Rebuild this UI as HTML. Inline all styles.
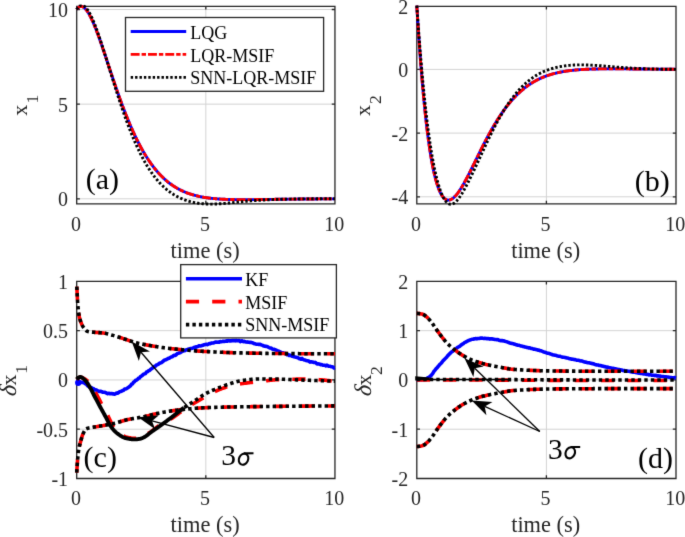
<!DOCTYPE html>
<html><head><meta charset="utf-8"><style>
html,body{margin:0;padding:0;background:#fff;}
body{width:685px;height:537px;overflow:hidden;}
svg{display:block;}
text{font-family:"Liberation Serif", serif;}
</style></head><body>
<svg width="685" height="537" viewBox="0 0 685 537" font-family='"Liberation Serif", serif'>
<filter id="bl" x="0" y="0" width="685" height="537" filterUnits="userSpaceOnUse" color-interpolation-filters="sRGB"><feConvolveMatrix order="3" kernelMatrix="0.01 0.08 0.01 0.08 0.64 0.08 0.01 0.08 0.01" divisor="1" edgeMode="duplicate" preserveAlpha="true"/></filter>
<g filter="url(#bl)">
<rect width="685" height="537" fill="#fff"/>
<clipPath id="ca"><rect x="74.7" y="4.4" width="262.25" height="201.5"/></clipPath>
<clipPath id="cb"><rect x="414.8" y="4.4" width="263.2" height="201.5"/></clipPath>
<clipPath id="cc"><rect x="74.7" y="279.4" width="262.25" height="201.10000000000002"/></clipPath>
<clipPath id="cd"><rect x="414.8" y="279.4" width="263.2" height="201.10000000000002"/></clipPath>
<line x1="205.82" y1="6.4" x2="205.82" y2="203.9" stroke="#d3d3d3" stroke-width="1"/>
<line x1="76.7" y1="198.8" x2="334.95" y2="198.8" stroke="#d3d3d3" stroke-width="1"/>
<line x1="76.7" y1="104.15" x2="334.95" y2="104.15" stroke="#d3d3d3" stroke-width="1"/>
<line x1="76.7" y1="9.5" x2="334.95" y2="9.5" stroke="#d3d3d3" stroke-width="1"/>
<line x1="546.4" y1="6.4" x2="546.4" y2="203.9" stroke="#d3d3d3" stroke-width="1"/>
<line x1="416.8" y1="196.8" x2="676.0" y2="196.8" stroke="#d3d3d3" stroke-width="1"/>
<line x1="416.8" y1="133.1" x2="676.0" y2="133.1" stroke="#d3d3d3" stroke-width="1"/>
<line x1="416.8" y1="69.4" x2="676.0" y2="69.4" stroke="#d3d3d3" stroke-width="1"/>
<line x1="205.82" y1="281.4" x2="205.82" y2="478.5" stroke="#d3d3d3" stroke-width="1"/>
<line x1="76.7" y1="429.22" x2="334.95" y2="429.22" stroke="#d3d3d3" stroke-width="1"/>
<line x1="76.7" y1="379.95" x2="334.95" y2="379.95" stroke="#d3d3d3" stroke-width="1"/>
<line x1="76.7" y1="330.68" x2="334.95" y2="330.68" stroke="#d3d3d3" stroke-width="1"/>
<line x1="546.4" y1="281.4" x2="546.4" y2="478.5" stroke="#d3d3d3" stroke-width="1"/>
<line x1="416.8" y1="429.22" x2="676.0" y2="429.22" stroke="#d3d3d3" stroke-width="1"/>
<line x1="416.8" y1="379.95" x2="676.0" y2="379.95" stroke="#d3d3d3" stroke-width="1"/>
<line x1="416.8" y1="330.68" x2="676.0" y2="330.68" stroke="#d3d3d3" stroke-width="1"/>
<path d="M76.7,6.4 H334.95 V203.9 H76.7 Z M76.7,203.9 v-3.2 M76.7,6.4 v3.2 M205.82,203.9 v-3.2 M205.82,6.4 v3.2 M334.95,203.9 v-3.2 M334.95,6.4 v3.2 M76.7,198.8 h3.2 M334.95,198.8 h-3.2 M76.7,104.15 h3.2 M334.95,104.15 h-3.2 M76.7,9.5 h3.2 M334.95,9.5 h-3.2" fill="none" stroke="#262626" stroke-width="1.3"/>
<path d="M416.8,6.4 H676 V203.9 H416.8 Z M416.8,203.9 v-3.2 M416.8,6.4 v3.2 M546.4,203.9 v-3.2 M546.4,6.4 v3.2 M676,203.9 v-3.2 M676,6.4 v3.2 M416.8,196.8 h3.2 M676,196.8 h-3.2 M416.8,133.1 h3.2 M676,133.1 h-3.2 M416.8,69.4 h3.2 M676,69.4 h-3.2 M416.8,6.4 h3.2 M676,6.4 h-3.2" fill="none" stroke="#262626" stroke-width="1.3"/>
<path d="M76.7,281.4 H334.95 V478.5 H76.7 Z M76.7,478.5 v-3.2 M76.7,281.4 v3.2 M205.82,478.5 v-3.2 M205.82,281.4 v3.2 M334.95,478.5 v-3.2 M334.95,281.4 v3.2 M76.7,429.22 h3.2 M334.95,429.22 h-3.2 M76.7,379.95 h3.2 M334.95,379.95 h-3.2 M76.7,330.68 h3.2 M334.95,330.68 h-3.2 M76.7,281.4 h3.2 M334.95,281.4 h-3.2 M76.7,478.5 h3.2 M334.95,478.5 h-3.2" fill="none" stroke="#262626" stroke-width="1.3"/>
<path d="M416.8,281.4 H676 V478.5 H416.8 Z M416.8,478.5 v-3.2 M416.8,281.4 v3.2 M546.4,478.5 v-3.2 M546.4,281.4 v3.2 M676,478.5 v-3.2 M676,281.4 v3.2 M416.8,429.22 h3.2 M676,429.22 h-3.2 M416.8,379.95 h3.2 M676,379.95 h-3.2 M416.8,330.68 h3.2 M676,330.68 h-3.2 M416.8,281.4 h3.2 M676,281.4 h-3.2 M416.8,478.5 h3.2 M676,478.5 h-3.2" fill="none" stroke="#262626" stroke-width="1.3"/>
<g clip-path="url(#ca)">
<path d="M76.7,9.5 L77.02,9.05 L77.35,8.63 L77.67,8.26 L77.99,7.92 L78.31,7.62 L78.64,7.35 L78.96,7.12 L79.28,6.92 L79.61,6.76 L79.93,6.63 L80.25,6.54 L80.57,6.47 L80.9,6.44 L81.22,6.43 L81.54,6.46 L81.87,6.52 L82.19,6.6 L82.51,6.71 L82.83,6.85 L83.16,7.02 L83.48,7.21 L83.8,7.43 L84.12,7.67 L84.45,7.94 L84.77,8.23 L85.09,8.54 L85.42,8.88 L85.74,9.24 L86.06,9.62 L86.38,10.02 L86.71,10.44 L87.03,10.88 L87.35,11.35 L87.68,11.83 L88,12.33 L88.32,12.84 L88.64,13.38 L88.97,13.93 L89.29,14.5 L89.61,15.09 L89.94,15.69 L90.26,16.3 L90.58,16.94 L90.9,17.58 L91.23,18.24 L91.55,18.92 L91.87,19.61 L92.2,20.31 L92.52,21.02 L92.84,21.74 L93.16,22.48 L93.49,23.23 L93.81,23.99 L94.13,24.76 L94.45,25.54 L94.78,26.33 L95.1,27.13 L95.42,27.94 L95.75,28.76 L96.07,29.59 L96.39,30.43 L96.71,31.27 L97.04,32.12 L97.36,32.98 L97.68,33.85 L98.01,34.72 L98.33,35.6 L98.65,36.49 L98.97,37.38 L99.3,38.28 L99.62,39.19 L99.94,40.1 L100.27,41.01 L100.59,41.93 L100.91,42.86 L101.23,43.78 L101.56,44.72 L101.88,45.65 L102.2,46.59 L102.53,47.54 L102.85,48.48 L103.17,49.43 L103.49,50.38 L103.82,51.34 L104.14,52.3 L104.46,53.26 L104.78,54.22 L105.11,55.18 L105.43,56.14 L105.75,57.11 L106.08,58.08 L106.4,59.05 L106.72,60.01 L107.04,60.98 L107.37,61.95 L107.69,62.92 L108.01,63.9 L108.34,64.87 L108.66,65.84 L108.98,66.81 L109.3,67.78 L109.63,68.75 L109.95,69.72 L110.27,70.69 L110.6,71.65 L110.92,72.62 L111.24,73.58 L111.56,74.55 L111.89,75.51 L112.21,76.47 L112.53,77.43 L112.86,78.39 L113.18,79.34 L113.5,80.3 L113.82,81.25 L114.15,82.2 L114.47,83.14 L114.79,84.09 L115.11,85.03 L115.44,85.97 L115.76,86.9 L116.08,87.84 L116.41,88.77 L116.73,89.7 L117.05,90.62 L117.37,91.54 L117.7,92.46 L118.02,93.38 L118.34,94.29 L118.67,95.2 L118.99,96.11 L119.31,97.01 L119.63,97.91 L119.96,98.8 L120.28,99.69 L120.6,100.58 L120.93,101.46 L121.25,102.34 L121.57,103.22 L121.89,104.09 L122.22,104.96 L122.54,105.82 L122.86,106.68 L123.19,107.53 L123.51,108.38 L123.83,109.23 L124.15,110.07 L124.48,110.91 L124.8,111.75 L125.12,112.57 L125.44,113.4 L125.77,114.22 L126.09,115.04 L126.41,115.85 L126.74,116.65 L127.06,117.46 L127.38,118.25 L127.7,119.05 L128.03,119.84 L128.35,120.62 L128.67,121.4 L129,122.17 L129.32,122.94 L129.64,123.71 L129.96,124.47 L130.29,125.22 L130.61,125.97 L130.93,126.72 L131.26,127.46 L131.58,128.19 L131.9,128.93 L132.22,129.65 L132.55,130.37 L132.87,131.09 L133.19,131.8 L133.52,132.51 L133.84,133.21 L134.16,133.91 L134.48,134.6 L134.81,135.29 L135.13,135.97 L135.45,136.65 L135.77,137.32 L136.1,137.99 L136.42,138.65 L136.74,139.31 L137.07,139.96 L137.39,140.61 L137.71,141.25 L138.03,141.89 L138.36,142.52 L138.68,143.15 L139,143.77 L139.33,144.39 L139.65,145.01 L139.97,145.62 L140.29,146.22 L140.62,146.82 L140.94,147.41 L141.26,148 L141.59,148.59 L141.91,149.17 L142.23,149.74 L142.55,150.32 L142.88,150.88 L143.2,151.44 L143.52,152 L143.85,152.55 L144.17,153.1 L144.49,153.64 L144.81,154.18 L145.14,154.71 L145.46,155.24 L145.78,155.77 L146.1,156.29 L146.43,156.8 L146.75,157.31 L147.07,157.82 L147.4,158.32 L147.72,158.81 L148.04,159.31 L148.36,159.8 L148.69,160.28 L149.01,160.76 L149.33,161.23 L149.66,161.7 L149.98,162.17 L150.3,162.63 L150.62,163.09 L150.95,163.54 L151.27,163.99 L151.59,164.44 L151.92,164.88 L152.24,165.31 L152.56,165.75 L152.88,166.17 L153.21,166.6 L153.53,167.02 L153.85,167.43 L154.18,167.84 L154.5,168.25 L154.82,168.66 L155.14,169.06 L155.47,169.45 L155.79,169.84 L156.11,170.23 L156.43,170.61 L156.76,170.99 L157.08,171.37 L157.4,171.74 L157.73,172.11 L158.05,172.48 L158.37,172.84 L158.69,173.2 L159.02,173.55 L159.34,173.9 L159.66,174.25 L159.99,174.59 L160.31,174.93 L160.63,175.26 L160.95,175.59 L161.28,175.92 L161.6,176.25 L161.92,176.57 L162.25,176.89 L162.57,177.2 L162.89,177.51 L163.21,177.82 L163.54,178.13 L163.86,178.43 L164.18,178.73 L164.5,179.02 L164.83,179.31 L165.15,179.6 L165.47,179.88 L165.8,180.17 L166.12,180.44 L166.44,180.72 L166.76,180.99 L167.09,181.26 L167.41,181.53 L167.73,181.79 L168.06,182.05 L168.38,182.31 L168.7,182.56 L169.02,182.81 L169.35,183.06 L169.67,183.31 L169.99,183.55 L170.32,183.79 L170.64,184.03 L170.96,184.26 L171.28,184.49 L171.61,184.72 L171.93,184.95 L172.25,185.17 L172.58,185.39 L172.9,185.61 L173.22,185.82 L173.54,186.04 L173.87,186.25 L174.19,186.45 L174.51,186.66 L174.84,186.86 L175.16,187.06 L175.48,187.26 L175.8,187.46 L176.13,187.65 L176.45,187.84 L176.77,188.03 L177.09,188.21 L177.42,188.39 L177.74,188.58 L178.06,188.75 L178.39,188.93 L178.71,189.1 L179.03,189.28 L179.35,189.45 L179.68,189.61 L180,189.78 L180.32,189.94 L180.65,190.1 L180.97,190.26 L181.29,190.42 L181.61,190.57 L181.94,190.73 L182.26,190.88 L182.58,191.03 L182.91,191.17 L183.23,191.32 L183.55,191.46 L183.87,191.6 L184.2,191.74 L184.52,191.88 L184.84,192.01 L185.17,192.14 L185.49,192.28 L185.81,192.41 L186.13,192.53 L186.46,192.66 L186.78,192.78 L187.1,192.91 L187.42,193.03 L187.75,193.15 L188.07,193.27 L188.39,193.38 L188.72,193.5 L189.04,193.61 L189.36,193.72 L189.68,193.83 L190.01,193.94 L190.33,194.04 L190.65,194.15 L190.98,194.25 L191.3,194.35 L191.62,194.45 L191.94,194.55 L192.27,194.65 L192.59,194.74 L192.91,194.84 L193.24,194.93 L193.56,195.02 L193.88,195.11 L194.2,195.2 L194.53,195.29 L194.85,195.38 L195.17,195.46 L195.5,195.55 L195.82,195.63 L196.14,195.71 L196.46,195.79 L196.79,195.87 L197.11,195.94 L197.43,196.02 L197.75,196.1 L198.08,196.17 L198.4,196.24 L198.72,196.31 L199.05,196.38 L199.37,196.45 L199.69,196.52 L200.01,196.59 L200.34,196.65 L200.66,196.72 L200.98,196.78 L201.31,196.84 L201.63,196.91 L201.95,196.97 L202.27,197.03 L202.6,197.08 L202.92,197.14 L203.24,197.2 L203.57,197.25 L203.89,197.31 L204.21,197.36 L204.53,197.41 L204.86,197.47 L205.18,197.52 L205.5,197.57 L205.82,197.62 L206.15,197.66 L206.47,197.71 L206.79,197.76 L207.12,197.8 L207.44,197.85 L207.76,197.89 L208.08,197.94 L208.41,197.98 L208.73,198.02 L209.05,198.06 L209.38,198.1 L209.7,198.14 L210.02,198.18 L210.34,198.22 L210.67,198.26 L210.99,198.29 L211.31,198.33 L211.64,198.36 L211.96,198.4 L212.28,198.43 L212.6,198.46 L212.93,198.5 L213.25,198.53 L213.57,198.56 L213.9,198.59 L214.22,198.62 L214.54,198.65 L214.86,198.68 L215.19,198.71 L215.51,198.73 L215.83,198.76 L216.16,198.79 L216.48,198.81 L216.8,198.84 L217.12,198.86 L217.45,198.89 L217.77,198.91 L218.09,198.93 L218.41,198.96 L218.74,198.98 L219.06,199 L219.38,199.02 L219.71,199.04 L220.03,199.06 L220.35,199.08 L220.67,199.1 L221,199.12 L221.32,199.14 L221.64,199.16 L221.97,199.17 L222.29,199.19 L222.61,199.21 L222.93,199.22 L223.26,199.24 L223.58,199.25 L223.9,199.27 L224.23,199.28 L224.55,199.3 L224.87,199.31 L225.19,199.32 L225.52,199.34 L225.84,199.35 L226.16,199.36 L226.49,199.37 L226.81,199.39 L227.13,199.4 L227.45,199.41 L227.78,199.42 L228.1,199.43 L228.42,199.44 L228.74,199.45 L229.07,199.46 L229.39,199.47 L229.71,199.48 L230.04,199.48 L230.36,199.49 L230.68,199.5 L231,199.51 L231.33,199.52 L231.65,199.52 L231.97,199.53 L232.3,199.54 L232.62,199.54 L232.94,199.55 L233.26,199.55 L233.59,199.56 L233.91,199.56 L234.23,199.57 L234.56,199.57 L234.88,199.58 L235.2,199.58 L235.52,199.59 L235.85,199.59 L236.17,199.6 L236.49,199.6 L236.81,199.6 L237.14,199.61 L237.46,199.61 L237.78,199.61 L238.11,199.61 L238.43,199.62 L238.75,199.62 L239.07,199.62 L239.4,199.62 L239.72,199.62 L240.04,199.63 L240.37,199.63 L240.69,199.63 L241.01,199.63 L241.33,199.63 L241.66,199.63 L241.98,199.63 L242.3,199.63 L242.63,199.63 L242.95,199.63 L243.27,199.63 L243.59,199.63 L243.92,199.63 L244.24,199.63 L244.56,199.63 L244.89,199.63 L245.21,199.63 L245.53,199.63 L245.85,199.63 L246.18,199.63 L246.5,199.63 L246.82,199.63 L247.14,199.63 L247.47,199.62 L247.79,199.62 L248.11,199.62 L248.44,199.62 L248.76,199.62 L249.08,199.62 L249.4,199.61 L249.73,199.61 L250.05,199.61 L250.37,199.61 L250.7,199.61 L251.02,199.6 L251.34,199.6 L251.66,199.6 L251.99,199.6 L252.31,199.59 L252.63,199.59 L252.96,199.59 L253.28,199.58 L253.6,199.58 L253.92,199.58 L254.25,199.58 L254.57,199.57 L254.89,199.57 L255.22,199.57 L255.54,199.56 L255.86,199.56 L256.18,199.56 L256.51,199.55 L256.83,199.55 L257.15,199.55 L257.48,199.54 L257.8,199.54 L258.12,199.54 L258.44,199.53 L258.77,199.53 L259.09,199.52 L259.41,199.52 L259.73,199.52 L260.06,199.51 L260.38,199.51 L260.7,199.51 L261.03,199.5 L261.35,199.5 L261.67,199.49 L261.99,199.49 L262.32,199.49 L262.64,199.48 L262.96,199.48 L263.29,199.47 L263.61,199.47 L263.93,199.47 L264.25,199.46 L264.58,199.46 L264.9,199.45 L265.22,199.45 L265.55,199.45 L265.87,199.44 L266.19,199.44 L266.51,199.43 L266.84,199.43 L267.16,199.43 L267.48,199.42 L267.81,199.42 L268.13,199.41 L268.45,199.41 L268.77,199.4 L269.1,199.4 L269.42,199.4 L269.74,199.39 L270.06,199.39 L270.39,199.38 L270.71,199.38 L271.03,199.37 L271.36,199.37 L271.68,199.37 L272,199.36 L272.32,199.36 L272.65,199.35 L272.97,199.35 L273.29,199.35 L273.62,199.34 L273.94,199.34 L274.26,199.33 L274.58,199.33 L274.91,199.32 L275.23,199.32 L275.55,199.32 L275.88,199.31 L276.2,199.31 L276.52,199.3 L276.84,199.3 L277.17,199.3 L277.49,199.29 L277.81,199.29 L278.13,199.28 L278.46,199.28 L278.78,199.28 L279.1,199.27 L279.43,199.27 L279.75,199.26 L280.07,199.26 L280.39,199.26 L280.72,199.25 L281.04,199.25 L281.36,199.24 L281.69,199.24 L282.01,199.24 L282.33,199.23 L282.65,199.23 L282.98,199.22 L283.3,199.22 L283.62,199.22 L283.95,199.21 L284.27,199.21 L284.59,199.21 L284.91,199.2 L285.24,199.2 L285.56,199.19 L285.88,199.19 L286.21,199.19 L286.53,199.18 L286.85,199.18 L287.17,199.18 L287.5,199.17 L287.82,199.17 L288.14,199.17 L288.47,199.16 L288.79,199.16 L289.11,199.15 L289.43,199.15 L289.76,199.15 L290.08,199.14 L290.4,199.14 L290.72,199.14 L291.05,199.13 L291.37,199.13 L291.69,199.13 L292.02,199.12 L292.34,199.12 L292.66,199.12 L292.98,199.11 L293.31,199.11 L293.63,199.11 L293.95,199.1 L294.28,199.1 L294.6,199.1 L294.92,199.1 L295.24,199.09 L295.57,199.09 L295.89,199.09 L296.21,199.08 L296.54,199.08 L296.86,199.08 L297.18,199.07 L297.5,199.07 L297.83,199.07 L298.15,199.07 L298.47,199.06 L298.79,199.06 L299.12,199.06 L299.44,199.05 L299.76,199.05 L300.09,199.05 L300.41,199.05 L300.73,199.04 L301.05,199.04 L301.38,199.04 L301.7,199.03 L302.02,199.03 L302.35,199.03 L302.67,199.03 L302.99,199.02 L303.31,199.02 L303.64,199.02 L303.96,199.02 L304.28,199.01 L304.61,199.01 L304.93,199.01 L305.25,199.01 L305.57,199 L305.9,199 L306.22,199 L306.54,199 L306.87,198.99 L307.19,198.99 L307.51,198.99 L307.83,198.99 L308.16,198.99 L308.48,198.98 L308.8,198.98 L309.12,198.98 L309.45,198.98 L309.77,198.97 L310.09,198.97 L310.42,198.97 L310.74,198.97 L311.06,198.97 L311.38,198.96 L311.71,198.96 L312.03,198.96 L312.35,198.96 L312.68,198.96 L313,198.95 L313.32,198.95 L313.64,198.95 L313.97,198.95 L314.29,198.95 L314.61,198.94 L314.94,198.94 L315.26,198.94 L315.58,198.94 L315.9,198.94 L316.23,198.94 L316.55,198.93 L316.87,198.93 L317.2,198.93 L317.52,198.93 L317.84,198.93 L318.16,198.92 L318.49,198.92 L318.81,198.92 L319.13,198.92 L319.46,198.92 L319.78,198.92 L320.1,198.92 L320.42,198.91 L320.75,198.91 L321.07,198.91 L321.39,198.91 L321.71,198.91 L322.04,198.91 L322.36,198.9 L322.68,198.9 L323.01,198.9 L323.33,198.9 L323.65,198.9 L323.97,198.9 L324.3,198.9 L324.62,198.89 L324.94,198.89 L325.27,198.89 L325.59,198.89 L325.91,198.89 L326.23,198.89 L326.56,198.89 L326.88,198.89 L327.2,198.88 L327.53,198.88 L327.85,198.88 L328.17,198.88 L328.49,198.88 L328.82,198.88 L329.14,198.88 L329.46,198.88 L329.79,198.87 L330.11,198.87 L330.43,198.87 L330.75,198.87 L331.08,198.87 L331.4,198.87 L331.72,198.87 L332.04,198.87 L332.37,198.87 L332.69,198.86 L333.01,198.86 L333.34,198.86 L333.66,198.86 L333.98,198.86 L334.3,198.86 L334.63,198.86 L334.95,198.86" fill="none" stroke="#0000ff" stroke-width="2.9" stroke-linejoin="round"/>
<path d="M76.7,9.5 L77.02,9.05 L77.35,8.63 L77.67,8.26 L77.99,7.92 L78.31,7.62 L78.64,7.35 L78.96,7.12 L79.28,6.92 L79.61,6.76 L79.93,6.63 L80.25,6.54 L80.57,6.47 L80.9,6.44 L81.22,6.43 L81.54,6.46 L81.87,6.52 L82.19,6.6 L82.51,6.71 L82.83,6.85 L83.16,7.02 L83.48,7.21 L83.8,7.43 L84.12,7.67 L84.45,7.94 L84.77,8.23 L85.09,8.54 L85.42,8.88 L85.74,9.24 L86.06,9.62 L86.38,10.02 L86.71,10.44 L87.03,10.88 L87.35,11.35 L87.68,11.83 L88,12.33 L88.32,12.84 L88.64,13.38 L88.97,13.93 L89.29,14.5 L89.61,15.09 L89.94,15.69 L90.26,16.3 L90.58,16.94 L90.9,17.58 L91.23,18.24 L91.55,18.92 L91.87,19.61 L92.2,20.31 L92.52,21.02 L92.84,21.74 L93.16,22.48 L93.49,23.23 L93.81,23.99 L94.13,24.76 L94.45,25.54 L94.78,26.33 L95.1,27.13 L95.42,27.94 L95.75,28.76 L96.07,29.59 L96.39,30.43 L96.71,31.27 L97.04,32.12 L97.36,32.98 L97.68,33.85 L98.01,34.72 L98.33,35.6 L98.65,36.49 L98.97,37.38 L99.3,38.28 L99.62,39.19 L99.94,40.1 L100.27,41.01 L100.59,41.93 L100.91,42.86 L101.23,43.78 L101.56,44.72 L101.88,45.65 L102.2,46.59 L102.53,47.54 L102.85,48.48 L103.17,49.43 L103.49,50.38 L103.82,51.34 L104.14,52.3 L104.46,53.26 L104.78,54.22 L105.11,55.18 L105.43,56.14 L105.75,57.11 L106.08,58.08 L106.4,59.05 L106.72,60.01 L107.04,60.98 L107.37,61.95 L107.69,62.92 L108.01,63.9 L108.34,64.87 L108.66,65.84 L108.98,66.81 L109.3,67.78 L109.63,68.75 L109.95,69.72 L110.27,70.69 L110.6,71.65 L110.92,72.62 L111.24,73.58 L111.56,74.55 L111.89,75.51 L112.21,76.47 L112.53,77.43 L112.86,78.39 L113.18,79.34 L113.5,80.3 L113.82,81.25 L114.15,82.2 L114.47,83.14 L114.79,84.09 L115.11,85.03 L115.44,85.97 L115.76,86.9 L116.08,87.84 L116.41,88.77 L116.73,89.7 L117.05,90.62 L117.37,91.54 L117.7,92.46 L118.02,93.38 L118.34,94.29 L118.67,95.2 L118.99,96.11 L119.31,97.01 L119.63,97.91 L119.96,98.8 L120.28,99.69 L120.6,100.58 L120.93,101.46 L121.25,102.34 L121.57,103.22 L121.89,104.09 L122.22,104.96 L122.54,105.82 L122.86,106.68 L123.19,107.53 L123.51,108.38 L123.83,109.23 L124.15,110.07 L124.48,110.91 L124.8,111.75 L125.12,112.57 L125.44,113.4 L125.77,114.22 L126.09,115.04 L126.41,115.85 L126.74,116.65 L127.06,117.46 L127.38,118.25 L127.7,119.05 L128.03,119.84 L128.35,120.62 L128.67,121.4 L129,122.17 L129.32,122.94 L129.64,123.71 L129.96,124.47 L130.29,125.22 L130.61,125.97 L130.93,126.72 L131.26,127.46 L131.58,128.19 L131.9,128.93 L132.22,129.65 L132.55,130.37 L132.87,131.09 L133.19,131.8 L133.52,132.51 L133.84,133.21 L134.16,133.91 L134.48,134.6 L134.81,135.29 L135.13,135.97 L135.45,136.65 L135.77,137.32 L136.1,137.99 L136.42,138.65 L136.74,139.31 L137.07,139.96 L137.39,140.61 L137.71,141.25 L138.03,141.89 L138.36,142.52 L138.68,143.15 L139,143.77 L139.33,144.39 L139.65,145.01 L139.97,145.62 L140.29,146.22 L140.62,146.82 L140.94,147.41 L141.26,148 L141.59,148.59 L141.91,149.17 L142.23,149.74 L142.55,150.32 L142.88,150.88 L143.2,151.44 L143.52,152 L143.85,152.55 L144.17,153.1 L144.49,153.64 L144.81,154.18 L145.14,154.71 L145.46,155.24 L145.78,155.77 L146.1,156.29 L146.43,156.8 L146.75,157.31 L147.07,157.82 L147.4,158.32 L147.72,158.81 L148.04,159.31 L148.36,159.8 L148.69,160.28 L149.01,160.76 L149.33,161.23 L149.66,161.7 L149.98,162.17 L150.3,162.63 L150.62,163.09 L150.95,163.54 L151.27,163.99 L151.59,164.44 L151.92,164.88 L152.24,165.31 L152.56,165.75 L152.88,166.17 L153.21,166.6 L153.53,167.02 L153.85,167.43 L154.18,167.84 L154.5,168.25 L154.82,168.66 L155.14,169.06 L155.47,169.45 L155.79,169.84 L156.11,170.23 L156.43,170.61 L156.76,170.99 L157.08,171.37 L157.4,171.74 L157.73,172.11 L158.05,172.48 L158.37,172.84 L158.69,173.2 L159.02,173.55 L159.34,173.9 L159.66,174.25 L159.99,174.59 L160.31,174.93 L160.63,175.26 L160.95,175.59 L161.28,175.92 L161.6,176.25 L161.92,176.57 L162.25,176.89 L162.57,177.2 L162.89,177.51 L163.21,177.82 L163.54,178.13 L163.86,178.43 L164.18,178.73 L164.5,179.02 L164.83,179.31 L165.15,179.6 L165.47,179.88 L165.8,180.17 L166.12,180.44 L166.44,180.72 L166.76,180.99 L167.09,181.26 L167.41,181.53 L167.73,181.79 L168.06,182.05 L168.38,182.31 L168.7,182.56 L169.02,182.81 L169.35,183.06 L169.67,183.31 L169.99,183.55 L170.32,183.79 L170.64,184.03 L170.96,184.26 L171.28,184.49 L171.61,184.72 L171.93,184.95 L172.25,185.17 L172.58,185.39 L172.9,185.61 L173.22,185.82 L173.54,186.04 L173.87,186.25 L174.19,186.45 L174.51,186.66 L174.84,186.86 L175.16,187.06 L175.48,187.26 L175.8,187.46 L176.13,187.65 L176.45,187.84 L176.77,188.03 L177.09,188.21 L177.42,188.39 L177.74,188.58 L178.06,188.75 L178.39,188.93 L178.71,189.1 L179.03,189.28 L179.35,189.45 L179.68,189.61 L180,189.78 L180.32,189.94 L180.65,190.1 L180.97,190.26 L181.29,190.42 L181.61,190.57 L181.94,190.73 L182.26,190.88 L182.58,191.03 L182.91,191.17 L183.23,191.32 L183.55,191.46 L183.87,191.6 L184.2,191.74 L184.52,191.88 L184.84,192.01 L185.17,192.14 L185.49,192.28 L185.81,192.41 L186.13,192.53 L186.46,192.66 L186.78,192.78 L187.1,192.91 L187.42,193.03 L187.75,193.15 L188.07,193.27 L188.39,193.38 L188.72,193.5 L189.04,193.61 L189.36,193.72 L189.68,193.83 L190.01,193.94 L190.33,194.04 L190.65,194.15 L190.98,194.25 L191.3,194.35 L191.62,194.45 L191.94,194.55 L192.27,194.65 L192.59,194.74 L192.91,194.84 L193.24,194.93 L193.56,195.02 L193.88,195.11 L194.2,195.2 L194.53,195.29 L194.85,195.38 L195.17,195.46 L195.5,195.55 L195.82,195.63 L196.14,195.71 L196.46,195.79 L196.79,195.87 L197.11,195.94 L197.43,196.02 L197.75,196.1 L198.08,196.17 L198.4,196.24 L198.72,196.31 L199.05,196.38 L199.37,196.45 L199.69,196.52 L200.01,196.59 L200.34,196.65 L200.66,196.72 L200.98,196.78 L201.31,196.84 L201.63,196.91 L201.95,196.97 L202.27,197.03 L202.6,197.08 L202.92,197.14 L203.24,197.2 L203.57,197.25 L203.89,197.31 L204.21,197.36 L204.53,197.41 L204.86,197.47 L205.18,197.52 L205.5,197.57 L205.82,197.62 L206.15,197.66 L206.47,197.71 L206.79,197.76 L207.12,197.8 L207.44,197.85 L207.76,197.89 L208.08,197.94 L208.41,197.98 L208.73,198.02 L209.05,198.06 L209.38,198.1 L209.7,198.14 L210.02,198.18 L210.34,198.22 L210.67,198.26 L210.99,198.29 L211.31,198.33 L211.64,198.36 L211.96,198.4 L212.28,198.43 L212.6,198.46 L212.93,198.5 L213.25,198.53 L213.57,198.56 L213.9,198.59 L214.22,198.62 L214.54,198.65 L214.86,198.68 L215.19,198.71 L215.51,198.73 L215.83,198.76 L216.16,198.79 L216.48,198.81 L216.8,198.84 L217.12,198.86 L217.45,198.89 L217.77,198.91 L218.09,198.93 L218.41,198.96 L218.74,198.98 L219.06,199 L219.38,199.02 L219.71,199.04 L220.03,199.06 L220.35,199.08 L220.67,199.1 L221,199.12 L221.32,199.14 L221.64,199.16 L221.97,199.17 L222.29,199.19 L222.61,199.21 L222.93,199.22 L223.26,199.24 L223.58,199.25 L223.9,199.27 L224.23,199.28 L224.55,199.3 L224.87,199.31 L225.19,199.32 L225.52,199.34 L225.84,199.35 L226.16,199.36 L226.49,199.37 L226.81,199.39 L227.13,199.4 L227.45,199.41 L227.78,199.42 L228.1,199.43 L228.42,199.44 L228.74,199.45 L229.07,199.46 L229.39,199.47 L229.71,199.48 L230.04,199.48 L230.36,199.49 L230.68,199.5 L231,199.51 L231.33,199.52 L231.65,199.52 L231.97,199.53 L232.3,199.54 L232.62,199.54 L232.94,199.55 L233.26,199.55 L233.59,199.56 L233.91,199.56 L234.23,199.57 L234.56,199.57 L234.88,199.58 L235.2,199.58 L235.52,199.59 L235.85,199.59 L236.17,199.6 L236.49,199.6 L236.81,199.6 L237.14,199.61 L237.46,199.61 L237.78,199.61 L238.11,199.61 L238.43,199.62 L238.75,199.62 L239.07,199.62 L239.4,199.62 L239.72,199.62 L240.04,199.63 L240.37,199.63 L240.69,199.63 L241.01,199.63 L241.33,199.63 L241.66,199.63 L241.98,199.63 L242.3,199.63 L242.63,199.63 L242.95,199.63 L243.27,199.63 L243.59,199.63 L243.92,199.63 L244.24,199.63 L244.56,199.63 L244.89,199.63 L245.21,199.63 L245.53,199.63 L245.85,199.63 L246.18,199.63 L246.5,199.63 L246.82,199.63 L247.14,199.63 L247.47,199.62 L247.79,199.62 L248.11,199.62 L248.44,199.62 L248.76,199.62 L249.08,199.62 L249.4,199.61 L249.73,199.61 L250.05,199.61 L250.37,199.61 L250.7,199.61 L251.02,199.6 L251.34,199.6 L251.66,199.6 L251.99,199.6 L252.31,199.59 L252.63,199.59 L252.96,199.59 L253.28,199.58 L253.6,199.58 L253.92,199.58 L254.25,199.58 L254.57,199.57 L254.89,199.57 L255.22,199.57 L255.54,199.56 L255.86,199.56 L256.18,199.56 L256.51,199.55 L256.83,199.55 L257.15,199.55 L257.48,199.54 L257.8,199.54 L258.12,199.54 L258.44,199.53 L258.77,199.53 L259.09,199.52 L259.41,199.52 L259.73,199.52 L260.06,199.51 L260.38,199.51 L260.7,199.51 L261.03,199.5 L261.35,199.5 L261.67,199.49 L261.99,199.49 L262.32,199.49 L262.64,199.48 L262.96,199.48 L263.29,199.47 L263.61,199.47 L263.93,199.47 L264.25,199.46 L264.58,199.46 L264.9,199.45 L265.22,199.45 L265.55,199.45 L265.87,199.44 L266.19,199.44 L266.51,199.43 L266.84,199.43 L267.16,199.43 L267.48,199.42 L267.81,199.42 L268.13,199.41 L268.45,199.41 L268.77,199.4 L269.1,199.4 L269.42,199.4 L269.74,199.39 L270.06,199.39 L270.39,199.38 L270.71,199.38 L271.03,199.37 L271.36,199.37 L271.68,199.37 L272,199.36 L272.32,199.36 L272.65,199.35 L272.97,199.35 L273.29,199.35 L273.62,199.34 L273.94,199.34 L274.26,199.33 L274.58,199.33 L274.91,199.32 L275.23,199.32 L275.55,199.32 L275.88,199.31 L276.2,199.31 L276.52,199.3 L276.84,199.3 L277.17,199.3 L277.49,199.29 L277.81,199.29 L278.13,199.28 L278.46,199.28 L278.78,199.28 L279.1,199.27 L279.43,199.27 L279.75,199.26 L280.07,199.26 L280.39,199.26 L280.72,199.25 L281.04,199.25 L281.36,199.24 L281.69,199.24 L282.01,199.24 L282.33,199.23 L282.65,199.23 L282.98,199.22 L283.3,199.22 L283.62,199.22 L283.95,199.21 L284.27,199.21 L284.59,199.21 L284.91,199.2 L285.24,199.2 L285.56,199.19 L285.88,199.19 L286.21,199.19 L286.53,199.18 L286.85,199.18 L287.17,199.18 L287.5,199.17 L287.82,199.17 L288.14,199.17 L288.47,199.16 L288.79,199.16 L289.11,199.15 L289.43,199.15 L289.76,199.15 L290.08,199.14 L290.4,199.14 L290.72,199.14 L291.05,199.13 L291.37,199.13 L291.69,199.13 L292.02,199.12 L292.34,199.12 L292.66,199.12 L292.98,199.11 L293.31,199.11 L293.63,199.11 L293.95,199.1 L294.28,199.1 L294.6,199.1 L294.92,199.1 L295.24,199.09 L295.57,199.09 L295.89,199.09 L296.21,199.08 L296.54,199.08 L296.86,199.08 L297.18,199.07 L297.5,199.07 L297.83,199.07 L298.15,199.07 L298.47,199.06 L298.79,199.06 L299.12,199.06 L299.44,199.05 L299.76,199.05 L300.09,199.05 L300.41,199.05 L300.73,199.04 L301.05,199.04 L301.38,199.04 L301.7,199.03 L302.02,199.03 L302.35,199.03 L302.67,199.03 L302.99,199.02 L303.31,199.02 L303.64,199.02 L303.96,199.02 L304.28,199.01 L304.61,199.01 L304.93,199.01 L305.25,199.01 L305.57,199 L305.9,199 L306.22,199 L306.54,199 L306.87,198.99 L307.19,198.99 L307.51,198.99 L307.83,198.99 L308.16,198.99 L308.48,198.98 L308.8,198.98 L309.12,198.98 L309.45,198.98 L309.77,198.97 L310.09,198.97 L310.42,198.97 L310.74,198.97 L311.06,198.97 L311.38,198.96 L311.71,198.96 L312.03,198.96 L312.35,198.96 L312.68,198.96 L313,198.95 L313.32,198.95 L313.64,198.95 L313.97,198.95 L314.29,198.95 L314.61,198.94 L314.94,198.94 L315.26,198.94 L315.58,198.94 L315.9,198.94 L316.23,198.94 L316.55,198.93 L316.87,198.93 L317.2,198.93 L317.52,198.93 L317.84,198.93 L318.16,198.92 L318.49,198.92 L318.81,198.92 L319.13,198.92 L319.46,198.92 L319.78,198.92 L320.1,198.92 L320.42,198.91 L320.75,198.91 L321.07,198.91 L321.39,198.91 L321.71,198.91 L322.04,198.91 L322.36,198.9 L322.68,198.9 L323.01,198.9 L323.33,198.9 L323.65,198.9 L323.97,198.9 L324.3,198.9 L324.62,198.89 L324.94,198.89 L325.27,198.89 L325.59,198.89 L325.91,198.89 L326.23,198.89 L326.56,198.89 L326.88,198.89 L327.2,198.88 L327.53,198.88 L327.85,198.88 L328.17,198.88 L328.49,198.88 L328.82,198.88 L329.14,198.88 L329.46,198.88 L329.79,198.87 L330.11,198.87 L330.43,198.87 L330.75,198.87 L331.08,198.87 L331.4,198.87 L331.72,198.87 L332.04,198.87 L332.37,198.87 L332.69,198.86 L333.01,198.86 L333.34,198.86 L333.66,198.86 L333.98,198.86 L334.3,198.86 L334.63,198.86 L334.95,198.86" fill="none" stroke="#ff0000" stroke-width="2.9" stroke-dasharray="8.9 2.0 4.4 2.0" stroke-linejoin="round"/>
<path d="M76.7,9.5 L77.02,8.96 L77.35,8.46 L77.67,8 L77.99,7.58 L78.31,7.19 L78.64,6.85 L78.96,6.54 L79.28,6.27 L79.61,6.03 L79.93,5.83 L80.25,5.67 L80.57,5.53 L80.9,5.43 L81.22,5.37 L81.54,5.33 L81.87,5.33 L82.19,5.36 L82.51,5.41 L82.83,5.5 L83.16,5.61 L83.48,5.76 L83.8,5.93 L84.12,6.13 L84.45,6.35 L84.77,6.6 L85.09,6.88 L85.42,7.18 L85.74,7.5 L86.06,7.85 L86.38,8.23 L86.71,8.62 L87.03,9.04 L87.35,9.48 L87.68,9.94 L88,10.42 L88.32,10.92 L88.64,11.44 L88.97,11.98 L89.29,12.54 L89.61,13.12 L89.94,13.71 L90.26,14.33 L90.58,14.96 L90.9,15.6 L91.23,16.27 L91.55,16.95 L91.87,17.64 L92.2,18.35 L92.52,19.07 L92.84,19.81 L93.16,20.56 L93.49,21.33 L93.81,22.1 L94.13,22.89 L94.45,23.69 L94.78,24.51 L95.1,25.33 L95.42,26.17 L95.75,27.02 L96.07,27.88 L96.39,28.74 L96.71,29.62 L97.04,30.51 L97.36,31.4 L97.68,32.31 L98.01,33.22 L98.33,34.14 L98.65,35.07 L98.97,36.01 L99.3,36.95 L99.62,37.9 L99.94,38.86 L100.27,39.83 L100.59,40.8 L100.91,41.77 L101.23,42.75 L101.56,43.74 L101.88,44.73 L102.2,45.73 L102.53,46.73 L102.85,47.73 L103.17,48.74 L103.49,49.75 L103.82,50.77 L104.14,51.79 L104.46,52.81 L104.78,53.84 L105.11,54.87 L105.43,55.9 L105.75,56.93 L106.08,57.97 L106.4,59 L106.72,60.04 L107.04,61.08 L107.37,62.12 L107.69,63.17 L108.01,64.21 L108.34,65.25 L108.66,66.3 L108.98,67.34 L109.3,68.39 L109.63,69.43 L109.95,70.47 L110.27,71.52 L110.6,72.56 L110.92,73.6 L111.24,74.65 L111.56,75.69 L111.89,76.73 L112.21,77.77 L112.53,78.8 L112.86,79.84 L113.18,80.87 L113.5,81.91 L113.82,82.94 L114.15,83.97 L114.47,84.99 L114.79,86.02 L115.11,87.04 L115.44,88.06 L115.76,89.07 L116.08,90.09 L116.41,91.1 L116.73,92.11 L117.05,93.11 L117.37,94.11 L117.7,95.11 L118.02,96.11 L118.34,97.1 L118.67,98.09 L118.99,99.07 L119.31,100.05 L119.63,101.03 L119.96,102 L120.28,102.97 L120.6,103.94 L120.93,104.9 L121.25,105.86 L121.57,106.81 L121.89,107.76 L122.22,108.7 L122.54,109.64 L122.86,110.58 L123.19,111.51 L123.51,112.44 L123.83,113.36 L124.15,114.28 L124.48,115.19 L124.8,116.1 L125.12,117 L125.44,117.9 L125.77,118.79 L126.09,119.68 L126.41,120.56 L126.74,121.44 L127.06,122.31 L127.38,123.18 L127.7,124.04 L128.03,124.9 L128.35,125.75 L128.67,126.6 L129,127.44 L129.32,128.27 L129.64,129.11 L129.96,129.93 L130.29,130.75 L130.61,131.57 L130.93,132.37 L131.26,133.18 L131.58,133.98 L131.9,134.77 L132.22,135.56 L132.55,136.34 L132.87,137.11 L133.19,137.89 L133.52,138.65 L133.84,139.41 L134.16,140.16 L134.48,140.91 L134.81,141.66 L135.13,142.39 L135.45,143.12 L135.77,143.85 L136.1,144.57 L136.42,145.29 L136.74,145.99 L137.07,146.7 L137.39,147.4 L137.71,148.09 L138.03,148.77 L138.36,149.46 L138.68,150.13 L139,150.8 L139.33,151.47 L139.65,152.12 L139.97,152.78 L140.29,153.43 L140.62,154.07 L140.94,154.7 L141.26,155.34 L141.59,155.96 L141.91,156.58 L142.23,157.2 L142.55,157.8 L142.88,158.41 L143.2,159.01 L143.52,159.6 L143.85,160.19 L144.17,160.77 L144.49,161.34 L144.81,161.92 L145.14,162.48 L145.46,163.04 L145.78,163.6 L146.1,164.15 L146.43,164.69 L146.75,165.23 L147.07,165.77 L147.4,166.29 L147.72,166.82 L148.04,167.34 L148.36,167.85 L148.69,168.36 L149.01,168.86 L149.33,169.36 L149.66,169.85 L149.98,170.34 L150.3,170.82 L150.62,171.3 L150.95,171.78 L151.27,172.24 L151.59,172.71 L151.92,173.17 L152.24,173.62 L152.56,174.07 L152.88,174.51 L153.21,174.95 L153.53,175.39 L153.85,175.82 L154.18,176.24 L154.5,176.67 L154.82,177.08 L155.14,177.49 L155.47,177.9 L155.79,178.3 L156.11,178.7 L156.43,179.1 L156.76,179.48 L157.08,179.87 L157.4,180.25 L157.73,180.63 L158.05,181 L158.37,181.37 L158.69,181.73 L159.02,182.09 L159.34,182.44 L159.66,182.8 L159.99,183.14 L160.31,183.49 L160.63,183.82 L160.95,184.16 L161.28,184.49 L161.6,184.82 L161.92,185.14 L162.25,185.46 L162.57,185.77 L162.89,186.09 L163.21,186.39 L163.54,186.7 L163.86,187 L164.18,187.29 L164.5,187.59 L164.83,187.88 L165.15,188.16 L165.47,188.44 L165.8,188.72 L166.12,189 L166.44,189.27 L166.76,189.54 L167.09,189.8 L167.41,190.06 L167.73,190.32 L168.06,190.57 L168.38,190.83 L168.7,191.07 L169.02,191.32 L169.35,191.56 L169.67,191.8 L169.99,192.03 L170.32,192.26 L170.64,192.49 L170.96,192.72 L171.28,192.94 L171.61,193.16 L171.93,193.38 L172.25,193.59 L172.58,193.8 L172.9,194.01 L173.22,194.22 L173.54,194.42 L173.87,194.62 L174.19,194.82 L174.51,195.01 L174.84,195.2 L175.16,195.39 L175.48,195.58 L175.8,195.76 L176.13,195.94 L176.45,196.12 L176.77,196.29 L177.09,196.47 L177.42,196.64 L177.74,196.81 L178.06,196.97 L178.39,197.13 L178.71,197.29 L179.03,197.45 L179.35,197.61 L179.68,197.76 L180,197.91 L180.32,198.06 L180.65,198.21 L180.97,198.35 L181.29,198.49 L181.61,198.63 L181.94,198.77 L182.26,198.91 L182.58,199.04 L182.91,199.17 L183.23,199.3 L183.55,199.42 L183.87,199.55 L184.2,199.67 L184.52,199.79 L184.84,199.91 L185.17,200.03 L185.49,200.14 L185.81,200.25 L186.13,200.36 L186.46,200.47 L186.78,200.58 L187.1,200.68 L187.42,200.78 L187.75,200.89 L188.07,200.98 L188.39,201.08 L188.72,201.18 L189.04,201.27 L189.36,201.36 L189.68,201.45 L190.01,201.54 L190.33,201.63 L190.65,201.71 L190.98,201.79 L191.3,201.87 L191.62,201.95 L191.94,202.03 L192.27,202.11 L192.59,202.18 L192.91,202.25 L193.24,202.32 L193.56,202.39 L193.88,202.46 L194.2,202.53 L194.53,202.59 L194.85,202.66 L195.17,202.72 L195.5,202.78 L195.82,202.84 L196.14,202.89 L196.46,202.95 L196.79,203 L197.11,203.05 L197.43,203.11 L197.75,203.15 L198.08,203.2 L198.4,203.25 L198.72,203.3 L199.05,203.34 L199.37,203.38 L199.69,203.42 L200.01,203.46 L200.34,203.5 L200.66,203.54 L200.98,203.57 L201.31,203.61 L201.63,203.64 L201.95,203.67 L202.27,203.7 L202.6,203.73 L202.92,203.76 L203.24,203.79 L203.57,203.81 L203.89,203.84 L204.21,203.86 L204.53,203.88 L204.86,203.9 L205.18,203.92 L205.5,203.94 L205.82,203.96 L206.15,203.97 L206.47,203.99 L206.79,204 L207.12,204.01 L207.44,204.03 L207.76,204.04 L208.08,204.05 L208.41,204.05 L208.73,204.06 L209.05,204.07 L209.38,204.07 L209.7,204.08 L210.02,204.08 L210.34,204.08 L210.67,204.08 L210.99,204.08 L211.31,204.08 L211.64,204.08 L211.96,204.08 L212.28,204.08 L212.6,204.07 L212.93,204.07 L213.25,204.06 L213.57,204.05 L213.9,204.05 L214.22,204.04 L214.54,204.03 L214.86,204.02 L215.19,204.01 L215.51,204 L215.83,203.98 L216.16,203.97 L216.48,203.96 L216.8,203.94 L217.12,203.93 L217.45,203.91 L217.77,203.9 L218.09,203.88 L218.41,203.86 L218.74,203.84 L219.06,203.82 L219.38,203.8 L219.71,203.78 L220.03,203.76 L220.35,203.74 L220.67,203.72 L221,203.7 L221.32,203.67 L221.64,203.65 L221.97,203.63 L222.29,203.6 L222.61,203.58 L222.93,203.55 L223.26,203.52 L223.58,203.5 L223.9,203.47 L224.23,203.44 L224.55,203.42 L224.87,203.39 L225.19,203.36 L225.52,203.33 L225.84,203.3 L226.16,203.27 L226.49,203.24 L226.81,203.21 L227.13,203.18 L227.45,203.15 L227.78,203.12 L228.1,203.09 L228.42,203.06 L228.74,203.03 L229.07,203 L229.39,202.97 L229.71,202.94 L230.04,202.9 L230.36,202.87 L230.68,202.84 L231,202.81 L231.33,202.77 L231.65,202.74 L231.97,202.71 L232.3,202.67 L232.62,202.64 L232.94,202.61 L233.26,202.58 L233.59,202.54 L233.91,202.51 L234.23,202.48 L234.56,202.44 L234.88,202.41 L235.2,202.38 L235.52,202.34 L235.85,202.31 L236.17,202.27 L236.49,202.24 L236.81,202.21 L237.14,202.17 L237.46,202.14 L237.78,202.11 L238.11,202.08 L238.43,202.04 L238.75,202.01 L239.07,201.98 L239.4,201.94 L239.72,201.91 L240.04,201.88 L240.37,201.85 L240.69,201.81 L241.01,201.78 L241.33,201.75 L241.66,201.72 L241.98,201.69 L242.3,201.65 L242.63,201.62 L242.95,201.59 L243.27,201.56 L243.59,201.53 L243.92,201.5 L244.24,201.47 L244.56,201.44 L244.89,201.41 L245.21,201.38 L245.53,201.35 L245.85,201.32 L246.18,201.29 L246.5,201.26 L246.82,201.23 L247.14,201.2 L247.47,201.17 L247.79,201.14 L248.11,201.11 L248.44,201.09 L248.76,201.06 L249.08,201.03 L249.4,201 L249.73,200.98 L250.05,200.95 L250.37,200.92 L250.7,200.89 L251.02,200.87 L251.34,200.84 L251.66,200.82 L251.99,200.79 L252.31,200.76 L252.63,200.74 L252.96,200.71 L253.28,200.69 L253.6,200.67 L253.92,200.64 L254.25,200.62 L254.57,200.59 L254.89,200.57 L255.22,200.55 L255.54,200.52 L255.86,200.5 L256.18,200.48 L256.51,200.45 L256.83,200.43 L257.15,200.41 L257.48,200.39 L257.8,200.37 L258.12,200.35 L258.44,200.32 L258.77,200.3 L259.09,200.28 L259.41,200.26 L259.73,200.24 L260.06,200.22 L260.38,200.2 L260.7,200.18 L261.03,200.16 L261.35,200.14 L261.67,200.12 L261.99,200.11 L262.32,200.09 L262.64,200.07 L262.96,200.05 L263.29,200.03 L263.61,200.02 L263.93,200 L264.25,199.98 L264.58,199.96 L264.9,199.95 L265.22,199.93 L265.55,199.91 L265.87,199.9 L266.19,199.88 L266.51,199.86 L266.84,199.85 L267.16,199.83 L267.48,199.82 L267.81,199.8 L268.13,199.79 L268.45,199.77 L268.77,199.76 L269.1,199.74 L269.42,199.73 L269.74,199.71 L270.06,199.7 L270.39,199.69 L270.71,199.67 L271.03,199.66 L271.36,199.65 L271.68,199.63 L272,199.62 L272.32,199.61 L272.65,199.59 L272.97,199.58 L273.29,199.57 L273.62,199.56 L273.94,199.54 L274.26,199.53 L274.58,199.52 L274.91,199.51 L275.23,199.5 L275.55,199.49 L275.88,199.48 L276.2,199.46 L276.52,199.45 L276.84,199.44 L277.17,199.43 L277.49,199.42 L277.81,199.41 L278.13,199.4 L278.46,199.39 L278.78,199.38 L279.1,199.37 L279.43,199.36 L279.75,199.35 L280.07,199.34 L280.39,199.33 L280.72,199.32 L281.04,199.31 L281.36,199.3 L281.69,199.29 L282.01,199.29 L282.33,199.28 L282.65,199.27 L282.98,199.26 L283.3,199.25 L283.62,199.24 L283.95,199.24 L284.27,199.23 L284.59,199.22 L284.91,199.21 L285.24,199.2 L285.56,199.2 L285.88,199.19 L286.21,199.18 L286.53,199.17 L286.85,199.17 L287.17,199.16 L287.5,199.15 L287.82,199.14 L288.14,199.14 L288.47,199.13 L288.79,199.12 L289.11,199.12 L289.43,199.11 L289.76,199.1 L290.08,199.1 L290.4,199.09 L290.72,199.09 L291.05,199.08 L291.37,199.07 L291.69,199.07 L292.02,199.06 L292.34,199.06 L292.66,199.05 L292.98,199.04 L293.31,199.04 L293.63,199.03 L293.95,199.03 L294.28,199.02 L294.6,199.02 L294.92,199.01 L295.24,199.01 L295.57,199 L295.89,199 L296.21,198.99 L296.54,198.99 L296.86,198.98 L297.18,198.98 L297.5,198.97 L297.83,198.97 L298.15,198.96 L298.47,198.96 L298.79,198.95 L299.12,198.95 L299.44,198.95 L299.76,198.94 L300.09,198.94 L300.41,198.93 L300.73,198.93 L301.05,198.93 L301.38,198.92 L301.7,198.92 L302.02,198.91 L302.35,198.91 L302.67,198.91 L302.99,198.9 L303.31,198.9 L303.64,198.9 L303.96,198.89 L304.28,198.89 L304.61,198.89 L304.93,198.88 L305.25,198.88 L305.57,198.88 L305.9,198.87 L306.22,198.87 L306.54,198.87 L306.87,198.86 L307.19,198.86 L307.51,198.86 L307.83,198.86 L308.16,198.85 L308.48,198.85 L308.8,198.85 L309.12,198.84 L309.45,198.84 L309.77,198.84 L310.09,198.84 L310.42,198.83 L310.74,198.83 L311.06,198.83 L311.38,198.83 L311.71,198.83 L312.03,198.82 L312.35,198.82 L312.68,198.82 L313,198.82 L313.32,198.81 L313.64,198.81 L313.97,198.81 L314.29,198.81 L314.61,198.81 L314.94,198.8 L315.26,198.8 L315.58,198.8 L315.9,198.8 L316.23,198.8 L316.55,198.8 L316.87,198.79 L317.2,198.79 L317.52,198.79 L317.84,198.79 L318.16,198.79 L318.49,198.79 L318.81,198.78 L319.13,198.78 L319.46,198.78 L319.78,198.78 L320.1,198.78 L320.42,198.78 L320.75,198.78 L321.07,198.78 L321.39,198.77 L321.71,198.77 L322.04,198.77 L322.36,198.77 L322.68,198.77 L323.01,198.77 L323.33,198.77 L323.65,198.77 L323.97,198.77 L324.3,198.76 L324.62,198.76 L324.94,198.76 L325.27,198.76 L325.59,198.76 L325.91,198.76 L326.23,198.76 L326.56,198.76 L326.88,198.76 L327.2,198.76 L327.53,198.76 L327.85,198.75 L328.17,198.75 L328.49,198.75 L328.82,198.75 L329.14,198.75 L329.46,198.75 L329.79,198.75 L330.11,198.75 L330.43,198.75 L330.75,198.75 L331.08,198.75 L331.4,198.75 L331.72,198.75 L332.04,198.75 L332.37,198.75 L332.69,198.75 L333.01,198.75 L333.34,198.75 L333.66,198.75 L333.98,198.74 L334.3,198.74 L334.63,198.74 L334.95,198.74" fill="none" stroke="#000" stroke-width="2.9" stroke-dasharray="2.4 2.0" stroke-linejoin="round"/>
</g>
<g clip-path="url(#cb)">
<path d="M416.8,5.7 L417.12,11.01 L417.45,16.21 L417.77,21.31 L418.1,26.31 L418.42,31.21 L418.74,36 L419.07,40.71 L419.39,45.31 L419.72,49.82 L420.04,54.24 L420.36,58.56 L420.69,62.79 L421.01,66.94 L421.34,70.99 L421.66,74.96 L421.98,78.84 L422.31,82.64 L422.63,86.35 L422.96,89.98 L423.28,93.54 L423.6,97.01 L423.93,100.4 L424.25,103.71 L424.58,106.95 L424.9,110.12 L425.22,113.21 L425.55,116.22 L425.87,119.17 L426.2,122.04 L426.52,124.85 L426.84,127.58 L427.17,130.25 L427.49,132.85 L427.82,135.39 L428.14,137.86 L428.46,140.27 L428.79,142.61 L429.11,144.9 L429.44,147.12 L429.76,149.28 L430.08,151.39 L430.41,153.44 L430.73,155.43 L431.06,157.36 L431.38,159.24 L431.7,161.07 L432.03,162.84 L432.35,164.56 L432.68,166.23 L433,167.84 L433.32,169.41 L433.65,170.93 L433.97,172.4 L434.3,173.82 L434.62,175.2 L434.94,176.53 L435.27,177.81 L435.59,179.06 L435.92,180.25 L436.24,181.41 L436.56,182.52 L436.89,183.59 L437.21,184.62 L437.54,185.61 L437.86,186.57 L438.18,187.48 L438.51,188.36 L438.83,189.19 L439.16,190 L439.48,190.76 L439.8,191.49 L440.13,192.19 L440.45,192.85 L440.78,193.48 L441.1,194.08 L441.42,194.64 L441.75,195.17 L442.07,195.68 L442.4,196.15 L442.72,196.59 L443.04,197 L443.37,197.39 L443.69,197.74 L444.02,198.07 L444.34,198.38 L444.66,198.65 L444.99,198.9 L445.31,199.13 L445.64,199.32 L445.96,199.5 L446.28,199.65 L446.61,199.78 L446.93,199.88 L447.26,199.97 L447.58,200.03 L447.9,200.07 L448.23,200.09 L448.55,200.08 L448.88,200.06 L449.2,200.02 L449.52,199.96 L449.85,199.88 L450.17,199.78 L450.5,199.66 L450.82,199.53 L451.14,199.37 L451.47,199.21 L451.79,199.02 L452.12,198.82 L452.44,198.6 L452.76,198.37 L453.09,198.12 L453.41,197.86 L453.74,197.59 L454.06,197.3 L454.38,196.99 L454.71,196.68 L455.03,196.35 L455.36,196 L455.68,195.65 L456,195.28 L456.33,194.91 L456.65,194.52 L456.98,194.12 L457.3,193.71 L457.62,193.28 L457.95,192.85 L458.27,192.41 L458.6,191.96 L458.92,191.5 L459.24,191.03 L459.57,190.55 L459.89,190.07 L460.22,189.57 L460.54,189.07 L460.86,188.56 L461.19,188.04 L461.51,187.52 L461.84,186.98 L462.16,186.45 L462.48,185.9 L462.81,185.35 L463.13,184.79 L463.46,184.23 L463.78,183.66 L464.1,183.08 L464.43,182.5 L464.75,181.92 L465.08,181.33 L465.4,180.73 L465.72,180.13 L466.05,179.53 L466.37,178.92 L466.7,178.31 L467.02,177.7 L467.34,177.08 L467.67,176.45 L467.99,175.83 L468.32,175.2 L468.64,174.57 L468.96,173.94 L469.29,173.3 L469.61,172.66 L469.94,172.02 L470.26,171.37 L470.58,170.73 L470.91,170.08 L471.23,169.43 L471.56,168.78 L471.88,168.13 L472.2,167.48 L472.53,166.82 L472.85,166.17 L473.18,165.51 L473.5,164.85 L473.82,164.2 L474.15,163.54 L474.47,162.88 L474.8,162.22 L475.12,161.56 L475.44,160.9 L475.77,160.24 L476.09,159.58 L476.42,158.92 L476.74,158.26 L477.06,157.6 L477.39,156.95 L477.71,156.29 L478.04,155.63 L478.36,154.97 L478.68,154.32 L479.01,153.67 L479.33,153.01 L479.66,152.36 L479.98,151.71 L480.3,151.06 L480.63,150.41 L480.95,149.76 L481.28,149.12 L481.6,148.47 L481.92,147.83 L482.25,147.19 L482.57,146.55 L482.9,145.91 L483.22,145.27 L483.54,144.64 L483.87,144.01 L484.19,143.38 L484.52,142.75 L484.84,142.12 L485.16,141.5 L485.49,140.88 L485.81,140.26 L486.14,139.64 L486.46,139.03 L486.78,138.42 L487.11,137.81 L487.43,137.2 L487.76,136.59 L488.08,135.99 L488.4,135.39 L488.73,134.8 L489.05,134.2 L489.38,133.61 L489.7,133.02 L490.02,132.44 L490.35,131.85 L490.67,131.27 L491,130.7 L491.32,130.12 L491.64,129.55 L491.97,128.98 L492.29,128.41 L492.62,127.85 L492.94,127.29 L493.26,126.74 L493.59,126.18 L493.91,125.63 L494.24,125.08 L494.56,124.54 L494.88,124 L495.21,123.46 L495.53,122.93 L495.86,122.39 L496.18,121.86 L496.5,121.34 L496.83,120.82 L497.15,120.3 L497.48,119.78 L497.8,119.27 L498.12,118.76 L498.45,118.26 L498.77,117.75 L499.1,117.25 L499.42,116.76 L499.74,116.27 L500.07,115.78 L500.39,115.29 L500.72,114.81 L501.04,114.33 L501.36,113.85 L501.69,113.38 L502.01,112.91 L502.34,112.44 L502.66,111.98 L502.98,111.52 L503.31,111.07 L503.63,110.61 L503.96,110.16 L504.28,109.72 L504.6,109.27 L504.93,108.84 L505.25,108.4 L505.58,107.97 L505.9,107.54 L506.22,107.11 L506.55,106.69 L506.87,106.27 L507.2,105.85 L507.52,105.44 L507.84,105.03 L508.17,104.62 L508.49,104.22 L508.82,103.82 L509.14,103.42 L509.46,103.03 L509.79,102.64 L510.11,102.25 L510.44,101.87 L510.76,101.49 L511.08,101.11 L511.41,100.74 L511.73,100.36 L512.06,100 L512.38,99.63 L512.7,99.27 L513.03,98.91 L513.35,98.56 L513.68,98.2 L514,97.85 L514.32,97.51 L514.65,97.17 L514.97,96.83 L515.3,96.49 L515.62,96.15 L515.94,95.82 L516.27,95.5 L516.59,95.17 L516.92,94.85 L517.24,94.53 L517.56,94.21 L517.89,93.9 L518.21,93.59 L518.54,93.28 L518.86,92.98 L519.18,92.68 L519.51,92.38 L519.83,92.08 L520.16,91.79 L520.48,91.5 L520.8,91.21 L521.13,90.93 L521.45,90.65 L521.78,90.37 L522.1,90.09 L522.42,89.82 L522.75,89.55 L523.07,89.28 L523.4,89.01 L523.72,88.75 L524.04,88.49 L524.37,88.23 L524.69,87.98 L525.02,87.72 L525.34,87.47 L525.66,87.23 L525.99,86.98 L526.31,86.74 L526.64,86.5 L526.96,86.26 L527.28,86.03 L527.61,85.8 L527.93,85.57 L528.26,85.34 L528.58,85.11 L528.9,84.89 L529.23,84.67 L529.55,84.45 L529.88,84.24 L530.2,84.02 L530.52,83.81 L530.85,83.61 L531.17,83.4 L531.5,83.19 L531.82,82.99 L532.14,82.79 L532.47,82.6 L532.79,82.4 L533.12,82.21 L533.44,82.02 L533.76,81.83 L534.09,81.64 L534.41,81.46 L534.74,81.27 L535.06,81.09 L535.38,80.92 L535.71,80.74 L536.03,80.56 L536.36,80.39 L536.68,80.22 L537,80.05 L537.33,79.89 L537.65,79.72 L537.98,79.56 L538.3,79.4 L538.62,79.24 L538.95,79.08 L539.27,78.93 L539.6,78.78 L539.92,78.63 L540.24,78.48 L540.57,78.33 L540.89,78.18 L541.22,78.04 L541.54,77.9 L541.86,77.76 L542.19,77.62 L542.51,77.48 L542.84,77.34 L543.16,77.21 L543.48,77.08 L543.81,76.95 L544.13,76.82 L544.46,76.69 L544.78,76.57 L545.1,76.44 L545.43,76.32 L545.75,76.2 L546.08,76.08 L546.4,75.96 L546.72,75.84 L547.05,75.73 L547.37,75.62 L547.7,75.5 L548.02,75.39 L548.34,75.28 L548.67,75.18 L548.99,75.07 L549.32,74.97 L549.64,74.86 L549.96,74.76 L550.29,74.66 L550.61,74.56 L550.94,74.46 L551.26,74.37 L551.58,74.27 L551.91,74.18 L552.23,74.08 L552.56,73.99 L552.88,73.9 L553.2,73.81 L553.53,73.72 L553.85,73.64 L554.18,73.55 L554.5,73.47 L554.82,73.38 L555.15,73.3 L555.47,73.22 L555.8,73.14 L556.12,73.06 L556.44,72.99 L556.77,72.91 L557.09,72.83 L557.42,72.76 L557.74,72.69 L558.06,72.62 L558.39,72.54 L558.71,72.47 L559.04,72.41 L559.36,72.34 L559.68,72.27 L560.01,72.21 L560.33,72.14 L560.66,72.08 L560.98,72.01 L561.3,71.95 L561.63,71.89 L561.95,71.83 L562.28,71.77 L562.6,71.71 L562.92,71.66 L563.25,71.6 L563.57,71.54 L563.9,71.49 L564.22,71.43 L564.54,71.38 L564.87,71.33 L565.19,71.28 L565.52,71.23 L565.84,71.18 L566.16,71.13 L566.49,71.08 L566.81,71.03 L567.14,70.98 L567.46,70.94 L567.78,70.89 L568.11,70.85 L568.43,70.81 L568.76,70.76 L569.08,70.72 L569.4,70.68 L569.73,70.64 L570.05,70.6 L570.38,70.56 L570.7,70.52 L571.02,70.48 L571.35,70.44 L571.67,70.41 L572,70.37 L572.32,70.33 L572.64,70.3 L572.97,70.26 L573.29,70.23 L573.62,70.2 L573.94,70.16 L574.26,70.13 L574.59,70.1 L574.91,70.07 L575.24,70.04 L575.56,70.01 L575.88,69.98 L576.21,69.95 L576.53,69.92 L576.86,69.89 L577.18,69.87 L577.5,69.84 L577.83,69.81 L578.15,69.79 L578.48,69.76 L578.8,69.74 L579.12,69.72 L579.45,69.69 L579.77,69.67 L580.1,69.65 L580.42,69.62 L580.74,69.6 L581.07,69.58 L581.39,69.56 L581.72,69.54 L582.04,69.52 L582.36,69.5 L582.69,69.48 L583.01,69.46 L583.34,69.44 L583.66,69.42 L583.98,69.4 L584.31,69.39 L584.63,69.37 L584.96,69.35 L585.28,69.34 L585.6,69.32 L585.93,69.31 L586.25,69.29 L586.58,69.28 L586.9,69.26 L587.22,69.25 L587.55,69.23 L587.87,69.22 L588.2,69.21 L588.52,69.19 L588.84,69.18 L589.17,69.17 L589.49,69.16 L589.82,69.14 L590.14,69.13 L590.46,69.12 L590.79,69.11 L591.11,69.1 L591.44,69.09 L591.76,69.08 L592.08,69.07 L592.41,69.06 L592.73,69.05 L593.06,69.04 L593.38,69.03 L593.7,69.02 L594.03,69.02 L594.35,69.01 L594.68,69 L595,68.99 L595.32,68.99 L595.65,68.98 L595.97,68.97 L596.3,68.96 L596.62,68.96 L596.94,68.95 L597.27,68.95 L597.59,68.94 L597.92,68.93 L598.24,68.93 L598.56,68.92 L598.89,68.92 L599.21,68.91 L599.54,68.91 L599.86,68.9 L600.18,68.9 L600.51,68.89 L600.83,68.89 L601.16,68.89 L601.48,68.88 L601.8,68.88 L602.13,68.88 L602.45,68.87 L602.78,68.87 L603.1,68.87 L603.42,68.86 L603.75,68.86 L604.07,68.86 L604.4,68.86 L604.72,68.85 L605.04,68.85 L605.37,68.85 L605.69,68.85 L606.02,68.85 L606.34,68.84 L606.66,68.84 L606.99,68.84 L607.31,68.84 L607.64,68.84 L607.96,68.84 L608.28,68.84 L608.61,68.84 L608.93,68.84 L609.26,68.84 L609.58,68.83 L609.9,68.83 L610.23,68.83 L610.55,68.83 L610.88,68.83 L611.2,68.83 L611.52,68.83 L611.85,68.83 L612.17,68.83 L612.5,68.83 L612.82,68.83 L613.14,68.84 L613.47,68.84 L613.79,68.84 L614.12,68.84 L614.44,68.84 L614.76,68.84 L615.09,68.84 L615.41,68.84 L615.74,68.84 L616.06,68.84 L616.38,68.84 L616.71,68.84 L617.03,68.85 L617.36,68.85 L617.68,68.85 L618,68.85 L618.33,68.85 L618.65,68.85 L618.98,68.86 L619.3,68.86 L619.62,68.86 L619.95,68.86 L620.27,68.86 L620.6,68.86 L620.92,68.87 L621.24,68.87 L621.57,68.87 L621.89,68.87 L622.22,68.87 L622.54,68.88 L622.86,68.88 L623.19,68.88 L623.51,68.88 L623.84,68.88 L624.16,68.89 L624.48,68.89 L624.81,68.89 L625.13,68.89 L625.46,68.9 L625.78,68.9 L626.1,68.9 L626.43,68.9 L626.75,68.91 L627.08,68.91 L627.4,68.91 L627.72,68.91 L628.05,68.92 L628.37,68.92 L628.7,68.92 L629.02,68.92 L629.34,68.93 L629.67,68.93 L629.99,68.93 L630.32,68.93 L630.64,68.94 L630.96,68.94 L631.29,68.94 L631.61,68.95 L631.94,68.95 L632.26,68.95 L632.58,68.95 L632.91,68.96 L633.23,68.96 L633.56,68.96 L633.88,68.96 L634.2,68.97 L634.53,68.97 L634.85,68.97 L635.18,68.98 L635.5,68.98 L635.82,68.98 L636.15,68.98 L636.47,68.99 L636.8,68.99 L637.12,68.99 L637.44,69 L637.77,69 L638.09,69 L638.42,69 L638.74,69.01 L639.06,69.01 L639.39,69.01 L639.71,69.02 L640.04,69.02 L640.36,69.02 L640.68,69.02 L641.01,69.03 L641.33,69.03 L641.66,69.03 L641.98,69.04 L642.3,69.04 L642.63,69.04 L642.95,69.04 L643.28,69.05 L643.6,69.05 L643.92,69.05 L644.25,69.06 L644.57,69.06 L644.9,69.06 L645.22,69.06 L645.54,69.07 L645.87,69.07 L646.19,69.07 L646.52,69.07 L646.84,69.08 L647.16,69.08 L647.49,69.08 L647.81,69.09 L648.14,69.09 L648.46,69.09 L648.78,69.09 L649.11,69.1 L649.43,69.1 L649.76,69.1 L650.08,69.1 L650.4,69.11 L650.73,69.11 L651.05,69.11 L651.38,69.11 L651.7,69.12 L652.02,69.12 L652.35,69.12 L652.67,69.13 L653,69.13 L653.32,69.13 L653.64,69.13 L653.97,69.14 L654.29,69.14 L654.62,69.14 L654.94,69.14 L655.26,69.15 L655.59,69.15 L655.91,69.15 L656.24,69.15 L656.56,69.15 L656.88,69.16 L657.21,69.16 L657.53,69.16 L657.86,69.16 L658.18,69.17 L658.5,69.17 L658.83,69.17 L659.15,69.17 L659.48,69.18 L659.8,69.18 L660.12,69.18 L660.45,69.18 L660.77,69.18 L661.1,69.19 L661.42,69.19 L661.74,69.19 L662.07,69.19 L662.39,69.2 L662.72,69.2 L663.04,69.2 L663.36,69.2 L663.69,69.2 L664.01,69.21 L664.34,69.21 L664.66,69.21 L664.98,69.21 L665.31,69.21 L665.63,69.22 L665.96,69.22 L666.28,69.22 L666.6,69.22 L666.93,69.22 L667.25,69.23 L667.58,69.23 L667.9,69.23 L668.22,69.23 L668.55,69.23 L668.87,69.24 L669.2,69.24 L669.52,69.24 L669.84,69.24 L670.17,69.24 L670.49,69.24 L670.82,69.25 L671.14,69.25 L671.46,69.25 L671.79,69.25 L672.11,69.25 L672.44,69.25 L672.76,69.26 L673.08,69.26 L673.41,69.26 L673.73,69.26 L674.06,69.26 L674.38,69.26 L674.7,69.27 L675.03,69.27 L675.35,69.27 L675.68,69.27 L676,69.27" fill="none" stroke="#0000ff" stroke-width="2.9" stroke-linejoin="round"/>
<path d="M416.8,5.7 L417.12,11.01 L417.45,16.21 L417.77,21.31 L418.1,26.31 L418.42,31.21 L418.74,36 L419.07,40.71 L419.39,45.31 L419.72,49.82 L420.04,54.24 L420.36,58.56 L420.69,62.79 L421.01,66.94 L421.34,70.99 L421.66,74.96 L421.98,78.84 L422.31,82.64 L422.63,86.35 L422.96,89.98 L423.28,93.54 L423.6,97.01 L423.93,100.4 L424.25,103.71 L424.58,106.95 L424.9,110.12 L425.22,113.21 L425.55,116.22 L425.87,119.17 L426.2,122.04 L426.52,124.85 L426.84,127.58 L427.17,130.25 L427.49,132.85 L427.82,135.39 L428.14,137.86 L428.46,140.27 L428.79,142.61 L429.11,144.9 L429.44,147.12 L429.76,149.28 L430.08,151.39 L430.41,153.44 L430.73,155.43 L431.06,157.36 L431.38,159.24 L431.7,161.07 L432.03,162.84 L432.35,164.56 L432.68,166.23 L433,167.84 L433.32,169.41 L433.65,170.93 L433.97,172.4 L434.3,173.82 L434.62,175.2 L434.94,176.53 L435.27,177.81 L435.59,179.06 L435.92,180.25 L436.24,181.41 L436.56,182.52 L436.89,183.59 L437.21,184.62 L437.54,185.61 L437.86,186.57 L438.18,187.48 L438.51,188.36 L438.83,189.19 L439.16,190 L439.48,190.76 L439.8,191.49 L440.13,192.19 L440.45,192.85 L440.78,193.48 L441.1,194.08 L441.42,194.64 L441.75,195.17 L442.07,195.68 L442.4,196.15 L442.72,196.59 L443.04,197 L443.37,197.39 L443.69,197.74 L444.02,198.07 L444.34,198.38 L444.66,198.65 L444.99,198.9 L445.31,199.13 L445.64,199.32 L445.96,199.5 L446.28,199.65 L446.61,199.78 L446.93,199.88 L447.26,199.97 L447.58,200.03 L447.9,200.07 L448.23,200.09 L448.55,200.08 L448.88,200.06 L449.2,200.02 L449.52,199.96 L449.85,199.88 L450.17,199.78 L450.5,199.66 L450.82,199.53 L451.14,199.37 L451.47,199.21 L451.79,199.02 L452.12,198.82 L452.44,198.6 L452.76,198.37 L453.09,198.12 L453.41,197.86 L453.74,197.59 L454.06,197.3 L454.38,196.99 L454.71,196.68 L455.03,196.35 L455.36,196 L455.68,195.65 L456,195.28 L456.33,194.91 L456.65,194.52 L456.98,194.12 L457.3,193.71 L457.62,193.28 L457.95,192.85 L458.27,192.41 L458.6,191.96 L458.92,191.5 L459.24,191.03 L459.57,190.55 L459.89,190.07 L460.22,189.57 L460.54,189.07 L460.86,188.56 L461.19,188.04 L461.51,187.52 L461.84,186.98 L462.16,186.45 L462.48,185.9 L462.81,185.35 L463.13,184.79 L463.46,184.23 L463.78,183.66 L464.1,183.08 L464.43,182.5 L464.75,181.92 L465.08,181.33 L465.4,180.73 L465.72,180.13 L466.05,179.53 L466.37,178.92 L466.7,178.31 L467.02,177.7 L467.34,177.08 L467.67,176.45 L467.99,175.83 L468.32,175.2 L468.64,174.57 L468.96,173.94 L469.29,173.3 L469.61,172.66 L469.94,172.02 L470.26,171.37 L470.58,170.73 L470.91,170.08 L471.23,169.43 L471.56,168.78 L471.88,168.13 L472.2,167.48 L472.53,166.82 L472.85,166.17 L473.18,165.51 L473.5,164.85 L473.82,164.2 L474.15,163.54 L474.47,162.88 L474.8,162.22 L475.12,161.56 L475.44,160.9 L475.77,160.24 L476.09,159.58 L476.42,158.92 L476.74,158.26 L477.06,157.6 L477.39,156.95 L477.71,156.29 L478.04,155.63 L478.36,154.97 L478.68,154.32 L479.01,153.67 L479.33,153.01 L479.66,152.36 L479.98,151.71 L480.3,151.06 L480.63,150.41 L480.95,149.76 L481.28,149.12 L481.6,148.47 L481.92,147.83 L482.25,147.19 L482.57,146.55 L482.9,145.91 L483.22,145.27 L483.54,144.64 L483.87,144.01 L484.19,143.38 L484.52,142.75 L484.84,142.12 L485.16,141.5 L485.49,140.88 L485.81,140.26 L486.14,139.64 L486.46,139.03 L486.78,138.42 L487.11,137.81 L487.43,137.2 L487.76,136.59 L488.08,135.99 L488.4,135.39 L488.73,134.8 L489.05,134.2 L489.38,133.61 L489.7,133.02 L490.02,132.44 L490.35,131.85 L490.67,131.27 L491,130.7 L491.32,130.12 L491.64,129.55 L491.97,128.98 L492.29,128.41 L492.62,127.85 L492.94,127.29 L493.26,126.74 L493.59,126.18 L493.91,125.63 L494.24,125.08 L494.56,124.54 L494.88,124 L495.21,123.46 L495.53,122.93 L495.86,122.39 L496.18,121.86 L496.5,121.34 L496.83,120.82 L497.15,120.3 L497.48,119.78 L497.8,119.27 L498.12,118.76 L498.45,118.26 L498.77,117.75 L499.1,117.25 L499.42,116.76 L499.74,116.27 L500.07,115.78 L500.39,115.29 L500.72,114.81 L501.04,114.33 L501.36,113.85 L501.69,113.38 L502.01,112.91 L502.34,112.44 L502.66,111.98 L502.98,111.52 L503.31,111.07 L503.63,110.61 L503.96,110.16 L504.28,109.72 L504.6,109.27 L504.93,108.84 L505.25,108.4 L505.58,107.97 L505.9,107.54 L506.22,107.11 L506.55,106.69 L506.87,106.27 L507.2,105.85 L507.52,105.44 L507.84,105.03 L508.17,104.62 L508.49,104.22 L508.82,103.82 L509.14,103.42 L509.46,103.03 L509.79,102.64 L510.11,102.25 L510.44,101.87 L510.76,101.49 L511.08,101.11 L511.41,100.74 L511.73,100.36 L512.06,100 L512.38,99.63 L512.7,99.27 L513.03,98.91 L513.35,98.56 L513.68,98.2 L514,97.85 L514.32,97.51 L514.65,97.17 L514.97,96.83 L515.3,96.49 L515.62,96.15 L515.94,95.82 L516.27,95.5 L516.59,95.17 L516.92,94.85 L517.24,94.53 L517.56,94.21 L517.89,93.9 L518.21,93.59 L518.54,93.28 L518.86,92.98 L519.18,92.68 L519.51,92.38 L519.83,92.08 L520.16,91.79 L520.48,91.5 L520.8,91.21 L521.13,90.93 L521.45,90.65 L521.78,90.37 L522.1,90.09 L522.42,89.82 L522.75,89.55 L523.07,89.28 L523.4,89.01 L523.72,88.75 L524.04,88.49 L524.37,88.23 L524.69,87.98 L525.02,87.72 L525.34,87.47 L525.66,87.23 L525.99,86.98 L526.31,86.74 L526.64,86.5 L526.96,86.26 L527.28,86.03 L527.61,85.8 L527.93,85.57 L528.26,85.34 L528.58,85.11 L528.9,84.89 L529.23,84.67 L529.55,84.45 L529.88,84.24 L530.2,84.02 L530.52,83.81 L530.85,83.61 L531.17,83.4 L531.5,83.19 L531.82,82.99 L532.14,82.79 L532.47,82.6 L532.79,82.4 L533.12,82.21 L533.44,82.02 L533.76,81.83 L534.09,81.64 L534.41,81.46 L534.74,81.27 L535.06,81.09 L535.38,80.92 L535.71,80.74 L536.03,80.56 L536.36,80.39 L536.68,80.22 L537,80.05 L537.33,79.89 L537.65,79.72 L537.98,79.56 L538.3,79.4 L538.62,79.24 L538.95,79.08 L539.27,78.93 L539.6,78.78 L539.92,78.63 L540.24,78.48 L540.57,78.33 L540.89,78.18 L541.22,78.04 L541.54,77.9 L541.86,77.76 L542.19,77.62 L542.51,77.48 L542.84,77.34 L543.16,77.21 L543.48,77.08 L543.81,76.95 L544.13,76.82 L544.46,76.69 L544.78,76.57 L545.1,76.44 L545.43,76.32 L545.75,76.2 L546.08,76.08 L546.4,75.96 L546.72,75.84 L547.05,75.73 L547.37,75.62 L547.7,75.5 L548.02,75.39 L548.34,75.28 L548.67,75.18 L548.99,75.07 L549.32,74.97 L549.64,74.86 L549.96,74.76 L550.29,74.66 L550.61,74.56 L550.94,74.46 L551.26,74.37 L551.58,74.27 L551.91,74.18 L552.23,74.08 L552.56,73.99 L552.88,73.9 L553.2,73.81 L553.53,73.72 L553.85,73.64 L554.18,73.55 L554.5,73.47 L554.82,73.38 L555.15,73.3 L555.47,73.22 L555.8,73.14 L556.12,73.06 L556.44,72.99 L556.77,72.91 L557.09,72.83 L557.42,72.76 L557.74,72.69 L558.06,72.62 L558.39,72.54 L558.71,72.47 L559.04,72.41 L559.36,72.34 L559.68,72.27 L560.01,72.21 L560.33,72.14 L560.66,72.08 L560.98,72.01 L561.3,71.95 L561.63,71.89 L561.95,71.83 L562.28,71.77 L562.6,71.71 L562.92,71.66 L563.25,71.6 L563.57,71.54 L563.9,71.49 L564.22,71.43 L564.54,71.38 L564.87,71.33 L565.19,71.28 L565.52,71.23 L565.84,71.18 L566.16,71.13 L566.49,71.08 L566.81,71.03 L567.14,70.98 L567.46,70.94 L567.78,70.89 L568.11,70.85 L568.43,70.81 L568.76,70.76 L569.08,70.72 L569.4,70.68 L569.73,70.64 L570.05,70.6 L570.38,70.56 L570.7,70.52 L571.02,70.48 L571.35,70.44 L571.67,70.41 L572,70.37 L572.32,70.33 L572.64,70.3 L572.97,70.26 L573.29,70.23 L573.62,70.2 L573.94,70.16 L574.26,70.13 L574.59,70.1 L574.91,70.07 L575.24,70.04 L575.56,70.01 L575.88,69.98 L576.21,69.95 L576.53,69.92 L576.86,69.89 L577.18,69.87 L577.5,69.84 L577.83,69.81 L578.15,69.79 L578.48,69.76 L578.8,69.74 L579.12,69.72 L579.45,69.69 L579.77,69.67 L580.1,69.65 L580.42,69.62 L580.74,69.6 L581.07,69.58 L581.39,69.56 L581.72,69.54 L582.04,69.52 L582.36,69.5 L582.69,69.48 L583.01,69.46 L583.34,69.44 L583.66,69.42 L583.98,69.4 L584.31,69.39 L584.63,69.37 L584.96,69.35 L585.28,69.34 L585.6,69.32 L585.93,69.31 L586.25,69.29 L586.58,69.28 L586.9,69.26 L587.22,69.25 L587.55,69.23 L587.87,69.22 L588.2,69.21 L588.52,69.19 L588.84,69.18 L589.17,69.17 L589.49,69.16 L589.82,69.14 L590.14,69.13 L590.46,69.12 L590.79,69.11 L591.11,69.1 L591.44,69.09 L591.76,69.08 L592.08,69.07 L592.41,69.06 L592.73,69.05 L593.06,69.04 L593.38,69.03 L593.7,69.02 L594.03,69.02 L594.35,69.01 L594.68,69 L595,68.99 L595.32,68.99 L595.65,68.98 L595.97,68.97 L596.3,68.96 L596.62,68.96 L596.94,68.95 L597.27,68.95 L597.59,68.94 L597.92,68.93 L598.24,68.93 L598.56,68.92 L598.89,68.92 L599.21,68.91 L599.54,68.91 L599.86,68.9 L600.18,68.9 L600.51,68.89 L600.83,68.89 L601.16,68.89 L601.48,68.88 L601.8,68.88 L602.13,68.88 L602.45,68.87 L602.78,68.87 L603.1,68.87 L603.42,68.86 L603.75,68.86 L604.07,68.86 L604.4,68.86 L604.72,68.85 L605.04,68.85 L605.37,68.85 L605.69,68.85 L606.02,68.85 L606.34,68.84 L606.66,68.84 L606.99,68.84 L607.31,68.84 L607.64,68.84 L607.96,68.84 L608.28,68.84 L608.61,68.84 L608.93,68.84 L609.26,68.84 L609.58,68.83 L609.9,68.83 L610.23,68.83 L610.55,68.83 L610.88,68.83 L611.2,68.83 L611.52,68.83 L611.85,68.83 L612.17,68.83 L612.5,68.83 L612.82,68.83 L613.14,68.84 L613.47,68.84 L613.79,68.84 L614.12,68.84 L614.44,68.84 L614.76,68.84 L615.09,68.84 L615.41,68.84 L615.74,68.84 L616.06,68.84 L616.38,68.84 L616.71,68.84 L617.03,68.85 L617.36,68.85 L617.68,68.85 L618,68.85 L618.33,68.85 L618.65,68.85 L618.98,68.86 L619.3,68.86 L619.62,68.86 L619.95,68.86 L620.27,68.86 L620.6,68.86 L620.92,68.87 L621.24,68.87 L621.57,68.87 L621.89,68.87 L622.22,68.87 L622.54,68.88 L622.86,68.88 L623.19,68.88 L623.51,68.88 L623.84,68.88 L624.16,68.89 L624.48,68.89 L624.81,68.89 L625.13,68.89 L625.46,68.9 L625.78,68.9 L626.1,68.9 L626.43,68.9 L626.75,68.91 L627.08,68.91 L627.4,68.91 L627.72,68.91 L628.05,68.92 L628.37,68.92 L628.7,68.92 L629.02,68.92 L629.34,68.93 L629.67,68.93 L629.99,68.93 L630.32,68.93 L630.64,68.94 L630.96,68.94 L631.29,68.94 L631.61,68.95 L631.94,68.95 L632.26,68.95 L632.58,68.95 L632.91,68.96 L633.23,68.96 L633.56,68.96 L633.88,68.96 L634.2,68.97 L634.53,68.97 L634.85,68.97 L635.18,68.98 L635.5,68.98 L635.82,68.98 L636.15,68.98 L636.47,68.99 L636.8,68.99 L637.12,68.99 L637.44,69 L637.77,69 L638.09,69 L638.42,69 L638.74,69.01 L639.06,69.01 L639.39,69.01 L639.71,69.02 L640.04,69.02 L640.36,69.02 L640.68,69.02 L641.01,69.03 L641.33,69.03 L641.66,69.03 L641.98,69.04 L642.3,69.04 L642.63,69.04 L642.95,69.04 L643.28,69.05 L643.6,69.05 L643.92,69.05 L644.25,69.06 L644.57,69.06 L644.9,69.06 L645.22,69.06 L645.54,69.07 L645.87,69.07 L646.19,69.07 L646.52,69.07 L646.84,69.08 L647.16,69.08 L647.49,69.08 L647.81,69.09 L648.14,69.09 L648.46,69.09 L648.78,69.09 L649.11,69.1 L649.43,69.1 L649.76,69.1 L650.08,69.1 L650.4,69.11 L650.73,69.11 L651.05,69.11 L651.38,69.11 L651.7,69.12 L652.02,69.12 L652.35,69.12 L652.67,69.13 L653,69.13 L653.32,69.13 L653.64,69.13 L653.97,69.14 L654.29,69.14 L654.62,69.14 L654.94,69.14 L655.26,69.15 L655.59,69.15 L655.91,69.15 L656.24,69.15 L656.56,69.15 L656.88,69.16 L657.21,69.16 L657.53,69.16 L657.86,69.16 L658.18,69.17 L658.5,69.17 L658.83,69.17 L659.15,69.17 L659.48,69.18 L659.8,69.18 L660.12,69.18 L660.45,69.18 L660.77,69.18 L661.1,69.19 L661.42,69.19 L661.74,69.19 L662.07,69.19 L662.39,69.2 L662.72,69.2 L663.04,69.2 L663.36,69.2 L663.69,69.2 L664.01,69.21 L664.34,69.21 L664.66,69.21 L664.98,69.21 L665.31,69.21 L665.63,69.22 L665.96,69.22 L666.28,69.22 L666.6,69.22 L666.93,69.22 L667.25,69.23 L667.58,69.23 L667.9,69.23 L668.22,69.23 L668.55,69.23 L668.87,69.24 L669.2,69.24 L669.52,69.24 L669.84,69.24 L670.17,69.24 L670.49,69.24 L670.82,69.25 L671.14,69.25 L671.46,69.25 L671.79,69.25 L672.11,69.25 L672.44,69.25 L672.76,69.26 L673.08,69.26 L673.41,69.26 L673.73,69.26 L674.06,69.26 L674.38,69.26 L674.7,69.27 L675.03,69.27 L675.35,69.27 L675.68,69.27 L676,69.27" fill="none" stroke="#ff0000" stroke-width="2.9" stroke-dasharray="8.9 2.0 4.4 2.0" stroke-linejoin="round"/>
<path d="M416.8,5.7 L417.12,10.42 L417.45,15.07 L417.77,19.63 L418.1,24.13 L418.42,28.54 L418.74,32.89 L419.07,37.15 L419.39,41.35 L419.72,45.47 L420.04,49.53 L420.36,53.51 L420.69,57.42 L421.01,61.26 L421.34,65.04 L421.66,68.74 L421.98,72.38 L422.31,75.95 L422.63,79.46 L422.96,82.9 L423.28,86.28 L423.6,89.59 L423.93,92.84 L424.25,96.03 L424.58,99.15 L424.9,102.22 L425.22,105.22 L425.55,108.17 L425.87,111.06 L426.2,113.89 L426.52,116.66 L426.84,119.37 L427.17,122.03 L427.49,124.63 L427.82,127.18 L428.14,129.68 L428.46,132.12 L428.79,134.51 L429.11,136.84 L429.44,139.13 L429.76,141.36 L430.08,143.55 L430.41,145.68 L430.73,147.77 L431.06,149.8 L431.38,151.8 L431.7,153.74 L432.03,155.64 L432.35,157.49 L432.68,159.3 L433,161.06 L433.32,162.78 L433.65,164.46 L433.97,166.1 L434.3,167.69 L434.62,169.24 L434.94,170.75 L435.27,172.23 L435.59,173.66 L435.92,175.05 L436.24,176.41 L436.56,177.73 L436.89,179.01 L437.21,180.25 L437.54,181.46 L437.86,182.63 L438.18,183.77 L438.51,184.87 L438.83,185.94 L439.16,186.97 L439.48,187.98 L439.8,188.94 L440.13,189.88 L440.45,190.78 L440.78,191.65 L441.1,192.49 L441.42,193.3 L441.75,194.08 L442.07,194.82 L442.4,195.54 L442.72,196.23 L443.04,196.88 L443.37,197.51 L443.69,198.11 L444.02,198.68 L444.34,199.21 L444.66,199.73 L444.99,200.21 L445.31,200.66 L445.64,201.09 L445.96,201.49 L446.28,201.86 L446.61,202.2 L446.93,202.52 L447.26,202.8 L447.58,203.07 L447.9,203.3 L448.23,203.51 L448.55,203.7 L448.88,203.86 L449.2,203.99 L449.52,204.1 L449.85,204.18 L450.17,204.24 L450.5,204.27 L450.82,204.28 L451.14,204.27 L451.47,204.23 L451.79,204.18 L452.12,204.1 L452.44,203.99 L452.76,203.87 L453.09,203.73 L453.41,203.56 L453.74,203.38 L454.06,203.17 L454.38,202.95 L454.71,202.71 L455.03,202.45 L455.36,202.17 L455.68,201.88 L456,201.56 L456.33,201.24 L456.65,200.9 L456.98,200.54 L457.3,200.17 L457.62,199.78 L457.95,199.38 L458.27,198.97 L458.6,198.55 L458.92,198.11 L459.24,197.66 L459.57,197.2 L459.89,196.73 L460.22,196.26 L460.54,195.77 L460.86,195.27 L461.19,194.76 L461.51,194.24 L461.84,193.72 L462.16,193.18 L462.48,192.64 L462.81,192.09 L463.13,191.54 L463.46,190.98 L463.78,190.41 L464.1,189.83 L464.43,189.25 L464.75,188.67 L465.08,188.07 L465.4,187.48 L465.72,186.87 L466.05,186.27 L466.37,185.65 L466.7,185.04 L467.02,184.42 L467.34,183.79 L467.67,183.16 L467.99,182.53 L468.32,181.89 L468.64,181.25 L468.96,180.6 L469.29,179.96 L469.61,179.3 L469.94,178.65 L470.26,177.99 L470.58,177.33 L470.91,176.67 L471.23,176 L471.56,175.33 L471.88,174.66 L472.2,173.98 L472.53,173.31 L472.85,172.63 L473.18,171.95 L473.5,171.26 L473.82,170.58 L474.15,169.89 L474.47,169.2 L474.8,168.51 L475.12,167.82 L475.44,167.13 L475.77,166.44 L476.09,165.74 L476.42,165.04 L476.74,164.35 L477.06,163.65 L477.39,162.95 L477.71,162.25 L478.04,161.55 L478.36,160.84 L478.68,160.14 L479.01,159.44 L479.33,158.74 L479.66,158.04 L479.98,157.33 L480.3,156.63 L480.63,155.93 L480.95,155.23 L481.28,154.53 L481.6,153.82 L481.92,153.12 L482.25,152.42 L482.57,151.72 L482.9,151.03 L483.22,150.33 L483.54,149.63 L483.87,148.94 L484.19,148.24 L484.52,147.55 L484.84,146.86 L485.16,146.16 L485.49,145.48 L485.81,144.79 L486.14,144.1 L486.46,143.42 L486.78,142.73 L487.11,142.05 L487.43,141.37 L487.76,140.69 L488.08,140.02 L488.4,139.35 L488.73,138.67 L489.05,138.01 L489.38,137.34 L489.7,136.67 L490.02,136.01 L490.35,135.35 L490.67,134.69 L491,134.04 L491.32,133.39 L491.64,132.73 L491.97,132.09 L492.29,131.44 L492.62,130.8 L492.94,130.16 L493.26,129.52 L493.59,128.89 L493.91,128.26 L494.24,127.63 L494.56,127.01 L494.88,126.38 L495.21,125.77 L495.53,125.15 L495.86,124.54 L496.18,123.93 L496.5,123.32 L496.83,122.72 L497.15,122.12 L497.48,121.52 L497.8,120.93 L498.12,120.34 L498.45,119.75 L498.77,119.17 L499.1,118.59 L499.42,118.01 L499.74,117.44 L500.07,116.87 L500.39,116.3 L500.72,115.74 L501.04,115.18 L501.36,114.62 L501.69,114.07 L502.01,113.52 L502.34,112.97 L502.66,112.43 L502.98,111.89 L503.31,111.36 L503.63,110.83 L503.96,110.3 L504.28,109.78 L504.6,109.26 L504.93,108.74 L505.25,108.23 L505.58,107.72 L505.9,107.21 L506.22,106.71 L506.55,106.21 L506.87,105.72 L507.2,105.23 L507.52,104.74 L507.84,104.26 L508.17,103.78 L508.49,103.3 L508.82,102.83 L509.14,102.36 L509.46,101.9 L509.79,101.44 L510.11,100.98 L510.44,100.53 L510.76,100.08 L511.08,99.63 L511.41,99.19 L511.73,98.75 L512.06,98.32 L512.38,97.88 L512.7,97.46 L513.03,97.03 L513.35,96.61 L513.68,96.2 L514,95.78 L514.32,95.37 L514.65,94.97 L514.97,94.57 L515.3,94.17 L515.62,93.77 L515.94,93.38 L516.27,92.99 L516.59,92.61 L516.92,92.23 L517.24,91.85 L517.56,91.48 L517.89,91.11 L518.21,90.74 L518.54,90.38 L518.86,90.02 L519.18,89.67 L519.51,89.31 L519.83,88.96 L520.16,88.62 L520.48,88.28 L520.8,87.94 L521.13,87.6 L521.45,87.27 L521.78,86.94 L522.1,86.62 L522.42,86.3 L522.75,85.98 L523.07,85.66 L523.4,85.35 L523.72,85.04 L524.04,84.74 L524.37,84.44 L524.69,84.14 L525.02,83.84 L525.34,83.55 L525.66,83.26 L525.99,82.97 L526.31,82.69 L526.64,82.41 L526.96,82.14 L527.28,81.86 L527.61,81.59 L527.93,81.32 L528.26,81.06 L528.58,80.8 L528.9,80.54 L529.23,80.28 L529.55,80.03 L529.88,79.78 L530.2,79.54 L530.52,79.29 L530.85,79.05 L531.17,78.81 L531.5,78.58 L531.82,78.35 L532.14,78.12 L532.47,77.89 L532.79,77.67 L533.12,77.44 L533.44,77.23 L533.76,77.01 L534.09,76.8 L534.41,76.59 L534.74,76.38 L535.06,76.17 L535.38,75.97 L535.71,75.77 L536.03,75.57 L536.36,75.38 L536.68,75.19 L537,75 L537.33,74.81 L537.65,74.62 L537.98,74.44 L538.3,74.26 L538.62,74.08 L538.95,73.91 L539.27,73.73 L539.6,73.56 L539.92,73.39 L540.24,73.23 L540.57,73.06 L540.89,72.9 L541.22,72.74 L541.54,72.59 L541.86,72.43 L542.19,72.28 L542.51,72.13 L542.84,71.98 L543.16,71.83 L543.48,71.69 L543.81,71.54 L544.13,71.4 L544.46,71.27 L544.78,71.13 L545.1,71 L545.43,70.86 L545.75,70.73 L546.08,70.6 L546.4,70.48 L546.72,70.35 L547.05,70.23 L547.37,70.11 L547.7,69.99 L548.02,69.87 L548.34,69.76 L548.67,69.64 L548.99,69.53 L549.32,69.42 L549.64,69.31 L549.96,69.21 L550.29,69.1 L550.61,69 L550.94,68.9 L551.26,68.8 L551.58,68.7 L551.91,68.6 L552.23,68.51 L552.56,68.41 L552.88,68.32 L553.2,68.23 L553.53,68.14 L553.85,68.05 L554.18,67.97 L554.5,67.88 L554.82,67.8 L555.15,67.72 L555.47,67.64 L555.8,67.56 L556.12,67.48 L556.44,67.41 L556.77,67.33 L557.09,67.26 L557.42,67.19 L557.74,67.12 L558.06,67.05 L558.39,66.98 L558.71,66.91 L559.04,66.85 L559.36,66.78 L559.68,66.72 L560.01,66.66 L560.33,66.6 L560.66,66.54 L560.98,66.48 L561.3,66.43 L561.63,66.37 L561.95,66.32 L562.28,66.26 L562.6,66.21 L562.92,66.16 L563.25,66.11 L563.57,66.06 L563.9,66.02 L564.22,65.97 L564.54,65.93 L564.87,65.88 L565.19,65.84 L565.52,65.8 L565.84,65.76 L566.16,65.72 L566.49,65.68 L566.81,65.64 L567.14,65.6 L567.46,65.57 L567.78,65.53 L568.11,65.5 L568.43,65.47 L568.76,65.43 L569.08,65.4 L569.4,65.37 L569.73,65.35 L570.05,65.32 L570.38,65.29 L570.7,65.26 L571.02,65.24 L571.35,65.21 L571.67,65.19 L572,65.17 L572.32,65.15 L572.64,65.13 L572.97,65.11 L573.29,65.09 L573.62,65.07 L573.94,65.05 L574.26,65.04 L574.59,65.02 L574.91,65 L575.24,64.99 L575.56,64.98 L575.88,64.96 L576.21,64.95 L576.53,64.94 L576.86,64.93 L577.18,64.92 L577.5,64.91 L577.83,64.91 L578.15,64.9 L578.48,64.89 L578.8,64.89 L579.12,64.88 L579.45,64.88 L579.77,64.87 L580.1,64.87 L580.42,64.87 L580.74,64.87 L581.07,64.86 L581.39,64.86 L581.72,64.86 L582.04,64.87 L582.36,64.87 L582.69,64.87 L583.01,64.87 L583.34,64.88 L583.66,64.88 L583.98,64.89 L584.31,64.89 L584.63,64.9 L584.96,64.9 L585.28,64.91 L585.6,64.92 L585.93,64.93 L586.25,64.93 L586.58,64.94 L586.9,64.95 L587.22,64.96 L587.55,64.98 L587.87,64.99 L588.2,65 L588.52,65.01 L588.84,65.02 L589.17,65.04 L589.49,65.05 L589.82,65.07 L590.14,65.08 L590.46,65.1 L590.79,65.11 L591.11,65.13 L591.44,65.14 L591.76,65.16 L592.08,65.18 L592.41,65.2 L592.73,65.21 L593.06,65.23 L593.38,65.25 L593.7,65.27 L594.03,65.29 L594.35,65.31 L594.68,65.33 L595,65.35 L595.32,65.37 L595.65,65.39 L595.97,65.41 L596.3,65.44 L596.62,65.46 L596.94,65.48 L597.27,65.5 L597.59,65.53 L597.92,65.55 L598.24,65.57 L598.56,65.6 L598.89,65.62 L599.21,65.65 L599.54,65.67 L599.86,65.69 L600.18,65.72 L600.51,65.74 L600.83,65.77 L601.16,65.8 L601.48,65.82 L601.8,65.85 L602.13,65.87 L602.45,65.9 L602.78,65.92 L603.1,65.95 L603.42,65.98 L603.75,66 L604.07,66.03 L604.4,66.06 L604.72,66.08 L605.04,66.11 L605.37,66.14 L605.69,66.16 L606.02,66.19 L606.34,66.22 L606.66,66.25 L606.99,66.27 L607.31,66.3 L607.64,66.33 L607.96,66.36 L608.28,66.38 L608.61,66.41 L608.93,66.44 L609.26,66.47 L609.58,66.49 L609.9,66.52 L610.23,66.55 L610.55,66.58 L610.88,66.6 L611.2,66.63 L611.52,66.66 L611.85,66.68 L612.17,66.71 L612.5,66.74 L612.82,66.77 L613.14,66.79 L613.47,66.82 L613.79,66.85 L614.12,66.87 L614.44,66.9 L614.76,66.93 L615.09,66.95 L615.41,66.98 L615.74,67.01 L616.06,67.03 L616.38,67.06 L616.71,67.08 L617.03,67.11 L617.36,67.14 L617.68,67.16 L618,67.19 L618.33,67.21 L618.65,67.24 L618.98,67.26 L619.3,67.29 L619.62,67.31 L619.95,67.34 L620.27,67.36 L620.6,67.39 L620.92,67.41 L621.24,67.44 L621.57,67.46 L621.89,67.48 L622.22,67.51 L622.54,67.53 L622.86,67.55 L623.19,67.58 L623.51,67.6 L623.84,67.62 L624.16,67.65 L624.48,67.67 L624.81,67.69 L625.13,67.71 L625.46,67.73 L625.78,67.76 L626.1,67.78 L626.43,67.8 L626.75,67.82 L627.08,67.84 L627.4,67.86 L627.72,67.88 L628.05,67.9 L628.37,67.92 L628.7,67.94 L629.02,67.96 L629.34,67.98 L629.67,68 L629.99,68.02 L630.32,68.04 L630.64,68.06 L630.96,68.08 L631.29,68.1 L631.61,68.12 L631.94,68.14 L632.26,68.15 L632.58,68.17 L632.91,68.19 L633.23,68.21 L633.56,68.22 L633.88,68.24 L634.2,68.26 L634.53,68.28 L634.85,68.29 L635.18,68.31 L635.5,68.33 L635.82,68.34 L636.15,68.36 L636.47,68.37 L636.8,68.39 L637.12,68.41 L637.44,68.42 L637.77,68.44 L638.09,68.45 L638.42,68.47 L638.74,68.48 L639.06,68.5 L639.39,68.51 L639.71,68.52 L640.04,68.54 L640.36,68.55 L640.68,68.57 L641.01,68.58 L641.33,68.59 L641.66,68.61 L641.98,68.62 L642.3,68.63 L642.63,68.64 L642.95,68.66 L643.28,68.67 L643.6,68.68 L643.92,68.69 L644.25,68.71 L644.57,68.72 L644.9,68.73 L645.22,68.74 L645.54,68.75 L645.87,68.77 L646.19,68.78 L646.52,68.79 L646.84,68.8 L647.16,68.81 L647.49,68.82 L647.81,68.83 L648.14,68.84 L648.46,68.85 L648.78,68.86 L649.11,68.87 L649.43,68.88 L649.76,68.89 L650.08,68.9 L650.4,68.91 L650.73,68.92 L651.05,68.93 L651.38,68.94 L651.7,68.95 L652.02,68.96 L652.35,68.97 L652.67,68.97 L653,68.98 L653.32,68.99 L653.64,69 L653.97,69.01 L654.29,69.02 L654.62,69.02 L654.94,69.03 L655.26,69.04 L655.59,69.05 L655.91,69.06 L656.24,69.06 L656.56,69.07 L656.88,69.08 L657.21,69.09 L657.53,69.09 L657.86,69.1 L658.18,69.11 L658.5,69.11 L658.83,69.12 L659.15,69.13 L659.48,69.13 L659.8,69.14 L660.12,69.15 L660.45,69.15 L660.77,69.16 L661.1,69.17 L661.42,69.17 L661.74,69.18 L662.07,69.18 L662.39,69.19 L662.72,69.2 L663.04,69.2 L663.36,69.21 L663.69,69.21 L664.01,69.22 L664.34,69.22 L664.66,69.23 L664.98,69.23 L665.31,69.24 L665.63,69.24 L665.96,69.25 L666.28,69.25 L666.6,69.26 L666.93,69.26 L667.25,69.27 L667.58,69.27 L667.9,69.28 L668.22,69.28 L668.55,69.29 L668.87,69.29 L669.2,69.29 L669.52,69.3 L669.84,69.3 L670.17,69.31 L670.49,69.31 L670.82,69.32 L671.14,69.32 L671.46,69.32 L671.79,69.33 L672.11,69.33 L672.44,69.33 L672.76,69.34 L673.08,69.34 L673.41,69.34 L673.73,69.35 L674.06,69.35 L674.38,69.35 L674.7,69.36 L675.03,69.36 L675.35,69.36 L675.68,69.37 L676,69.37" fill="none" stroke="#000" stroke-width="2.9" stroke-dasharray="2.4 2.0" stroke-linejoin="round"/>
</g>
<g clip-path="url(#cc)">
<path d="M76.7,383.95 L77.7,382.99 L78.69,382.46 L79.69,381.84 L80.69,382.27 L81.69,382.34 L82.68,382.53 L83.68,382.63 L84.68,383.29 L85.67,383.9 L86.67,384.5 L87.67,385.81 L88.67,386.44 L89.66,387.24 L90.66,387.43 L91.66,387.91 L92.65,388.45 L93.65,388.74 L94.65,389.86 L95.64,389.78 L96.64,390.12 L97.64,390.69 L98.64,391.41 L99.63,391.37 L100.63,391.3 L101.63,391.62 L102.62,392.18 L103.62,392.21 L104.62,392.29 L105.62,392.67 L106.61,393.18 L107.61,393.76 L108.61,393.23 L109.6,393.62 L110.6,393.78 L111.6,393.52 L112.6,393.96 L113.59,393.91 L114.59,394.3 L115.59,393.74 L116.58,393.04 L117.58,393.22 L118.58,392.54 L119.58,391.74 L120.57,391.58 L121.57,391.14 L122.57,390.58 L123.56,390.26 L124.56,389.1 L125.56,388.96 L126.56,388.61 L127.55,387.88 L128.55,387.22 L129.55,386.5 L130.54,385.8 L131.54,384.28 L132.54,383.87 L133.53,382.25 L134.53,381.62 L135.53,380.37 L136.53,380.21 L137.52,379.43 L138.52,378.24 L139.52,377.94 L140.51,376.55 L141.51,376 L142.51,375.25 L143.51,374.2 L144.5,373.84 L145.5,373.47 L146.5,371.99 L147.49,371.74 L148.49,370.74 L149.49,370.49 L150.49,369.45 L151.48,368.79 L152.48,368.08 L153.48,367.3 L154.47,366.21 L155.47,366.26 L156.47,364.93 L157.47,364.71 L158.46,364.2 L159.46,363.25 L160.46,362.92 L161.45,362.62 L162.45,361.77 L163.45,361.01 L164.45,359.96 L165.44,359.92 L166.44,359.48 L167.44,358.97 L168.43,358.34 L169.43,358.14 L170.43,357.36 L171.42,356.94 L172.42,356.59 L173.42,355.66 L174.42,355.26 L175.41,355.34 L176.41,354.5 L177.41,353.44 L178.4,353.24 L179.4,352.91 L180.4,352.61 L181.4,351.89 L182.39,351.29 L183.39,350.83 L184.39,350.79 L185.38,350.34 L186.38,349.79 L187.38,349.53 L188.38,349.14 L189.37,349.11 L190.37,348.45 L191.37,348.44 L192.36,348.24 L193.36,347.87 L194.36,347.26 L195.36,347.53 L196.35,346.76 L197.35,346.77 L198.35,346.21 L199.34,345.71 L200.34,345.95 L201.34,345.71 L202.34,345.36 L203.33,345.2 L204.33,344.72 L205.33,344.45 L206.32,344.34 L207.32,344.62 L208.32,344.12 L209.31,343.55 L210.31,343.6 L211.31,343.13 L212.31,342.93 L213.3,343.06 L214.3,342.53 L215.3,342.06 L216.29,342.09 L217.29,342.18 L218.29,342.04 L219.29,342.17 L220.28,341.54 L221.28,341.78 L222.28,341.58 L223.27,341.32 L224.27,341.47 L225.27,341.3 L226.27,340.88 L227.26,341.28 L228.26,340.63 L229.26,340.87 L230.25,340.78 L231.25,340.83 L232.25,340.49 L233.25,340.62 L234.24,340.57 L235.24,340.85 L236.24,340.42 L237.23,340.68 L238.23,340.67 L239.23,340.5 L240.23,341.61 L241.22,341.05 L242.22,340.84 L243.22,341.72 L244.21,341.26 L245.21,341.8 L246.21,342.1 L247.2,341.9 L248.2,342.14 L249.2,342.29 L250.2,342.57 L251.19,342.37 L252.19,342.66 L253.19,343.13 L254.18,343.64 L255.18,343.76 L256.18,344.26 L257.18,344.24 L258.17,344.19 L259.17,344.54 L260.17,344.33 L261.16,344.87 L262.16,345.13 L263.16,345.74 L264.16,346.12 L265.15,346.11 L266.15,346.4 L267.15,346.46 L268.14,347.13 L269.14,347.56 L270.14,347.95 L271.14,348.01 L272.13,349.08 L273.13,349.27 L274.13,349.34 L275.12,349.62 L276.12,350.07 L277.12,350.58 L278.12,350.93 L279.11,351.44 L280.11,351.89 L281.11,352.4 L282.1,352.71 L283.1,352.77 L284.1,353.26 L285.09,353.43 L286.09,353.75 L287.09,354.73 L288.09,354.5 L289.08,355.47 L290.08,355.23 L291.08,355.72 L292.07,356.26 L293.07,356.33 L294.07,356.74 L295.07,356.91 L296.06,357.17 L297.06,357.56 L298.06,357.75 L299.05,358.63 L300.05,358.49 L301.05,359.27 L302.05,358.47 L303.04,359.44 L304.04,359.87 L305.04,359.94 L306.03,360.57 L307.03,360.74 L308.03,360.79 L309.03,361.24 L310.02,362.11 L311.02,361.74 L312.02,362.02 L313.01,362.1 L314.01,362.51 L315.01,362.42 L316.01,362.95 L317,363.87 L318,363.78 L319,363.93 L319.99,364.3 L320.99,364.74 L321.99,364.67 L322.98,365.28 L323.98,365.27 L324.98,365.29 L325.98,365.91 L326.97,365.13 L327.97,365.81 L328.97,366.24 L329.96,366.18 L330.96,366.59 L331.96,366.69 L332.96,366.9 L333.95,367.96 L334.95,367.65" fill="none" stroke="#0000ff" stroke-width="3.6" stroke-linejoin="round"/>
<ellipse cx="78.2" cy="382.8" rx="3.1" ry="3.3" fill="#0000ff"/>
<path d="M76.8,286.6 L77.66,303.29 L78.53,312.45 L79.39,317.14 L80.25,320.36 L81.12,322.81 L81.98,324.85 L82.84,326.47 L83.71,327.69 L84.57,328.82 L85.43,329.82 L86.3,330.63 L87.16,331.2 L88.02,331.48 L88.89,331.66 L89.75,331.8 L90.61,331.92 L91.48,332.02 L92.34,332.11 L93.2,332.19 L94.07,332.27 L94.93,332.35 L95.79,332.43 L96.66,332.49 L97.52,332.55 L98.38,332.61 L99.25,332.66 L100.11,332.72 L100.97,332.79 L101.84,332.87 L102.7,332.95 L103.56,333.06 L104.43,333.19 L105.29,333.35 L106.15,333.53 L107.02,333.74 L107.88,333.95 L108.74,334.18 L109.61,334.42 L110.47,334.66 L111.34,334.91 L112.2,335.15 L113.06,335.39 L113.93,335.63 L114.79,335.88 L115.65,336.14 L116.52,336.41 L117.38,336.68 L118.24,336.96 L119.11,337.24 L119.97,337.52 L120.83,337.8 L121.7,338.07 L122.56,338.35 L123.42,338.63 L124.29,338.92 L125.15,339.21 L126.01,339.5 L126.88,339.8 L127.74,340.1 L128.6,340.4 L129.47,340.69 L130.33,340.98 L131.19,341.27 L132.06,341.55 L132.92,341.81 L133.78,342.07 L134.65,342.32 L135.51,342.55 L136.37,342.77 L137.24,342.98 L138.1,343.18 L138.96,343.38 L139.83,343.57 L140.69,343.76 L141.55,343.94 L142.42,344.12 L143.28,344.29 L144.14,344.46 L145.01,344.63 L145.87,344.79 L146.73,344.95 L147.6,345.11 L148.46,345.27 L149.32,345.42 L150.19,345.57 L151.05,345.72 L151.91,345.87 L152.78,346.02 L153.64,346.16 L154.5,346.31 L155.37,346.45 L156.23,346.59 L157.09,346.73 L157.96,346.86 L158.82,347 L159.68,347.13 L160.55,347.26 L161.41,347.39 L162.27,347.52 L163.14,347.64 L164,347.76 L164.86,347.88 L165.73,347.99 L166.59,348.1 L167.45,348.21 L168.32,348.31 L169.18,348.42 L170.04,348.51 L170.91,348.61 L171.77,348.71 L172.63,348.8 L173.5,348.89 L174.36,348.98 L175.23,349.06 L176.09,349.15 L176.95,349.23 L177.82,349.32 L178.68,349.4 L179.54,349.48 L180.41,349.56 L181.27,349.64 L182.13,349.71 L183,349.79 L183.86,349.87 L184.72,349.95 L185.59,350.02 L186.45,350.1 L187.31,350.18 L188.18,350.25 L189.04,350.33 L189.9,350.41 L190.77,350.48 L191.63,350.55 L192.49,350.63 L193.36,350.7 L194.22,350.77 L195.08,350.83 L195.95,350.9 L196.81,350.96 L197.67,351.03 L198.54,351.09 L199.4,351.14 L200.26,351.2 L201.13,351.25 L201.99,351.3 L202.85,351.35 L203.72,351.4 L204.58,351.44 L205.44,351.49 L206.31,351.53 L207.17,351.57 L208.03,351.61 L208.9,351.66 L209.76,351.7 L210.62,351.74 L211.49,351.78 L212.35,351.81 L213.21,351.85 L214.08,351.89 L214.94,351.93 L215.8,351.97 L216.67,352.01 L217.53,352.05 L218.39,352.1 L219.26,352.14 L220.12,352.18 L220.98,352.22 L221.85,352.26 L222.71,352.31 L223.57,352.35 L224.44,352.39 L225.3,352.43 L226.16,352.46 L227.03,352.5 L227.89,352.53 L228.75,352.56 L229.62,352.59 L230.48,352.61 L231.34,352.64 L232.21,352.66 L233.07,352.69 L233.93,352.71 L234.8,352.74 L235.66,352.76 L236.52,352.78 L237.39,352.81 L238.25,352.83 L239.12,352.85 L239.98,352.88 L240.84,352.9 L241.71,352.92 L242.57,352.94 L243.43,352.96 L244.3,352.98 L245.16,353 L246.02,353.02 L246.89,353.04 L247.75,353.06 L248.61,353.08 L249.48,353.1 L250.34,353.12 L251.2,353.14 L252.07,353.16 L252.93,353.17 L253.79,353.19 L254.66,353.21 L255.52,353.23 L256.38,353.24 L257.25,353.26 L258.11,353.27 L258.97,353.29 L259.84,353.3 L260.7,353.32 L261.56,353.33 L262.43,353.34 L263.29,353.36 L264.15,353.37 L265.02,353.38 L265.88,353.4 L266.74,353.41 L267.61,353.42 L268.47,353.43 L269.33,353.44 L270.2,353.45 L271.06,353.46 L271.92,353.47 L272.79,353.48 L273.65,353.48 L274.51,353.49 L275.38,353.5 L276.24,353.51 L277.1,353.51 L277.97,353.52 L278.83,353.53 L279.69,353.53 L280.56,353.54 L281.42,353.55 L282.28,353.56 L283.15,353.56 L284.01,353.57 L284.87,353.58 L285.74,353.58 L286.6,353.59 L287.46,353.6 L288.33,353.6 L289.19,353.61 L290.05,353.61 L290.92,353.62 L291.78,353.63 L292.64,353.63 L293.51,353.64 L294.37,353.64 L295.23,353.65 L296.1,353.66 L296.96,353.66 L297.82,353.67 L298.69,353.67 L299.55,353.68 L300.41,353.68 L301.28,353.69 L302.14,353.69 L303.01,353.7 L303.87,353.7 L304.73,353.71 L305.6,353.71 L306.46,353.72 L307.32,353.72 L308.19,353.73 L309.05,353.73 L309.91,353.74 L310.78,353.74 L311.64,353.74 L312.5,353.75 L313.37,353.75 L314.23,353.75 L315.09,353.76 L315.96,353.76 L316.82,353.77 L317.68,353.77 L318.55,353.77 L319.41,353.77 L320.27,353.78 L321.14,353.78 L322,353.78 L322.86,353.78 L323.73,353.79 L324.59,353.79 L325.45,353.79 L326.32,353.79 L327.18,353.79 L328.04,353.79 L328.91,353.8 L329.77,353.8 L330.63,353.8 L331.5,353.8 L332.36,353.8 L333.22,353.8 L334.09,353.8 L334.95,353.8" fill="none" stroke="#ff0000" stroke-width="3.6" stroke-dasharray="13.2 13.1" stroke-linejoin="round"/>
<path d="M76.7,472.6 L77.56,459.81 L78.43,451.82 L79.29,446.57 L80.15,443.29 L81.02,439.97 L81.88,436.92 L82.75,434.42 L83.61,432.61 L84.47,431.04 L85.34,429.72 L86.2,428.83 L87.06,428.43 L87.93,428.16 L88.79,427.96 L89.66,427.8 L90.52,427.66 L91.38,427.52 L92.25,427.37 L93.11,427.22 L93.97,427.08 L94.84,426.94 L95.7,426.81 L96.57,426.67 L97.43,426.53 L98.29,426.39 L99.16,426.25 L100.02,426.1 L100.88,425.96 L101.75,425.82 L102.61,425.67 L103.48,425.52 L104.34,425.37 L105.2,425.21 L106.07,425.05 L106.93,424.88 L107.79,424.72 L108.66,424.55 L109.52,424.37 L110.38,424.2 L111.25,424.02 L112.11,423.83 L112.98,423.64 L113.84,423.45 L114.7,423.25 L115.57,423.04 L116.43,422.81 L117.29,422.57 L118.16,422.32 L119.02,422.06 L119.89,421.79 L120.75,421.52 L121.61,421.25 L122.48,420.98 L123.34,420.72 L124.2,420.47 L125.07,420.23 L125.93,420 L126.8,419.79 L127.66,419.6 L128.52,419.42 L129.39,419.25 L130.25,419.08 L131.11,418.92 L131.98,418.77 L132.84,418.62 L133.71,418.48 L134.57,418.34 L135.43,418.2 L136.3,418.06 L137.16,417.92 L138.02,417.78 L138.89,417.64 L139.75,417.5 L140.61,417.35 L141.48,417.19 L142.34,417.03 L143.21,416.86 L144.07,416.69 L144.93,416.5 L145.8,416.3 L146.66,416.09 L147.52,415.87 L148.39,415.65 L149.25,415.42 L150.12,415.2 L150.98,414.97 L151.84,414.75 L152.71,414.52 L153.57,414.31 L154.43,414.1 L155.3,413.91 L156.16,413.72 L157.03,413.54 L157.89,413.36 L158.75,413.19 L159.62,413.01 L160.48,412.84 L161.34,412.67 L162.21,412.5 L163.07,412.34 L163.93,412.17 L164.8,412.02 L165.66,411.86 L166.53,411.71 L167.39,411.56 L168.25,411.42 L169.12,411.28 L169.98,411.14 L170.84,411.01 L171.71,410.88 L172.57,410.76 L173.44,410.64 L174.3,410.52 L175.16,410.4 L176.03,410.29 L176.89,410.18 L177.75,410.07 L178.62,409.96 L179.48,409.85 L180.35,409.75 L181.21,409.65 L182.07,409.55 L182.94,409.46 L183.8,409.37 L184.66,409.28 L185.53,409.19 L186.39,409.11 L187.26,409.02 L188.12,408.94 L188.98,408.86 L189.85,408.78 L190.71,408.71 L191.57,408.63 L192.44,408.55 L193.3,408.48 L194.16,408.41 L195.03,408.33 L195.89,408.27 L196.76,408.2 L197.62,408.14 L198.48,408.08 L199.35,408.02 L200.21,407.96 L201.07,407.91 L201.94,407.87 L202.8,407.82 L203.67,407.78 L204.53,407.75 L205.39,407.71 L206.26,407.67 L207.12,407.64 L207.98,407.61 L208.85,407.57 L209.71,407.54 L210.58,407.51 L211.44,407.48 L212.3,407.45 L213.17,407.42 L214.03,407.39 L214.89,407.37 L215.76,407.34 L216.62,407.32 L217.49,407.29 L218.35,407.27 L219.21,407.24 L220.08,407.22 L220.94,407.2 L221.8,407.18 L222.67,407.16 L223.53,407.14 L224.39,407.12 L225.26,407.1 L226.12,407.08 L226.99,407.06 L227.85,407.04 L228.71,407.02 L229.58,407.01 L230.44,406.99 L231.3,406.98 L232.17,406.96 L233.03,406.94 L233.9,406.93 L234.76,406.91 L235.62,406.9 L236.49,406.88 L237.35,406.87 L238.21,406.86 L239.08,406.84 L239.94,406.83 L240.81,406.82 L241.67,406.8 L242.53,406.79 L243.4,406.78 L244.26,406.76 L245.12,406.75 L245.99,406.74 L246.85,406.73 L247.72,406.72 L248.58,406.7 L249.44,406.69 L250.31,406.68 L251.17,406.67 L252.03,406.66 L252.9,406.65 L253.76,406.64 L254.62,406.63 L255.49,406.62 L256.35,406.61 L257.22,406.6 L258.08,406.59 L258.94,406.58 L259.81,406.57 L260.67,406.56 L261.53,406.55 L262.4,406.54 L263.26,406.53 L264.13,406.52 L264.99,406.51 L265.85,406.5 L266.72,406.49 L267.58,406.48 L268.44,406.47 L269.31,406.46 L270.17,406.45 L271.04,406.45 L271.9,406.44 L272.76,406.43 L273.63,406.42 L274.49,406.41 L275.35,406.4 L276.22,406.39 L277.08,406.38 L277.94,406.37 L278.81,406.36 L279.67,406.36 L280.54,406.35 L281.4,406.34 L282.26,406.33 L283.13,406.32 L283.99,406.31 L284.85,406.3 L285.72,406.3 L286.58,406.29 L287.45,406.28 L288.31,406.27 L289.17,406.26 L290.04,406.25 L290.9,406.24 L291.76,406.24 L292.63,406.23 L293.49,406.22 L294.36,406.21 L295.22,406.2 L296.08,406.2 L296.95,406.19 L297.81,406.18 L298.67,406.17 L299.54,406.16 L300.4,406.16 L301.27,406.15 L302.13,406.14 L302.99,406.13 L303.86,406.13 L304.72,406.12 L305.58,406.11 L306.45,406.1 L307.31,406.1 L308.17,406.09 L309.04,406.08 L309.9,406.08 L310.77,406.07 L311.63,406.06 L312.49,406.05 L313.36,406.05 L314.22,406.04 L315.08,406.03 L315.95,406.03 L316.81,406.02 L317.68,406.01 L318.54,406.01 L319.4,406 L320.27,406 L321.13,405.99 L321.99,405.98 L322.86,405.98 L323.72,405.97 L324.59,405.96 L325.45,405.96 L326.31,405.95 L327.18,405.95 L328.04,405.94 L328.9,405.94 L329.77,405.93 L330.63,405.93 L331.5,405.92 L332.36,405.92 L333.22,405.91 L334.09,405.91 L334.95,405.9" fill="none" stroke="#ff0000" stroke-width="3.6" stroke-dasharray="13.2 13.1" stroke-linejoin="round"/>
<path d="M76.7,379.39 L77.56,378.57 L78.43,377.89 L79.29,377.41 L80.15,377.2 L81.02,377.26 L81.88,377.46 L82.75,377.79 L83.61,378.23 L84.47,378.74 L85.34,379.32 L86.2,379.93 L87.06,380.55 L87.93,381.29 L88.79,382.21 L89.66,383.28 L90.52,384.46 L91.38,385.7 L92.25,386.98 L93.11,388.27 L93.97,389.65 L94.84,391.13 L95.7,392.68 L96.57,394.27 L97.43,395.87 L98.29,397.5 L99.16,399.18 L100.02,400.88 L100.88,402.53 L101.75,404.17 L102.61,405.79 L103.48,407.4 L104.34,408.98 L105.2,410.52 L106.07,412.06 L106.93,413.67 L107.79,415.38 L108.66,417.17 L109.52,418.96 L110.38,420.82 L111.25,422.68 L112.11,424.35 L112.98,425.74 L113.84,427.03 L114.7,428.25 L115.57,429.4 L116.43,430.45 L117.29,431.41 L118.16,432.25 L119.02,432.97 L119.89,433.59 L120.75,434.17 L121.61,434.73 L122.48,435.24 L123.34,435.71 L124.2,436.14 L125.07,436.52 L125.93,436.85 L126.8,437.12 L127.66,437.34 L128.52,437.53 L129.39,437.71 L130.25,437.88 L131.11,438.04 L131.98,438.17 L132.84,438.28 L133.71,438.35 L134.57,438.39 L135.43,438.39 L136.3,438.33 L137.16,438.22 L138.02,438.06 L138.89,437.88 L139.75,437.68 L140.61,437.47 L141.48,437.21 L142.34,436.87 L143.21,436.47 L144.07,436.02 L144.93,435.52 L145.8,434.99 L146.66,434.44 L147.52,433.88 L148.39,433.31 L149.25,432.76 L150.12,432.2 L150.98,431.61 L151.84,430.98 L152.71,430.33 L153.57,429.66 L154.43,428.98 L155.3,428.3 L156.16,427.63 L157.03,426.97 L157.89,426.35 L158.75,425.76 L159.62,425.21 L160.48,424.68 L161.34,424.18 L162.21,423.69 L163.07,423.22 L163.93,422.75 L164.8,422.29 L165.66,421.84 L166.53,421.38 L167.39,420.92 L168.25,420.45 L169.12,419.97 L169.98,419.48 L170.84,418.97 L171.71,418.43 L172.57,417.88 L173.44,417.3 L174.3,416.7 L175.16,416.09 L176.03,415.47 L176.89,414.84 L177.75,414.21 L178.62,413.57 L179.48,412.93 L180.35,412.29 L181.21,411.66 L182.07,411.04 L182.94,410.43 L183.8,409.84 L184.66,409.26 L185.53,408.69 L186.39,408.12 L187.26,407.56 L188.12,407.01 L188.98,406.46 L189.85,405.91 L190.71,405.37 L191.57,404.83 L192.44,404.3 L193.3,403.77 L194.16,403.24 L195.03,402.72 L195.89,402.21 L196.76,401.69 L197.62,401.18 L198.48,400.67 L199.35,400.17 L200.21,399.67 L201.07,399.17 L201.94,398.68 L202.8,398.19 L203.67,397.7 L204.53,397.22 L205.39,396.75 L206.26,396.28 L207.12,395.81 L207.98,395.33 L208.85,394.85 L209.71,394.37 L210.58,393.89 L211.44,393.42 L212.3,392.95 L213.17,392.49 L214.03,392.03 L214.89,391.59 L215.76,391.17 L216.62,390.76 L217.49,390.37 L218.35,390 L219.21,389.66 L220.08,389.32 L220.94,389 L221.8,388.67 L222.67,388.36 L223.53,388.05 L224.39,387.74 L225.26,387.45 L226.12,387.16 L226.99,386.88 L227.85,386.61 L228.71,386.35 L229.58,386.1 L230.44,385.86 L231.3,385.63 L232.17,385.42 L233.03,385.21 L233.9,385.02 L234.76,384.85 L235.62,384.68 L236.49,384.52 L237.35,384.37 L238.21,384.22 L239.08,384.08 L239.94,383.94 L240.81,383.81 L241.67,383.68 L242.53,383.55 L243.4,383.43 L244.26,383.31 L245.12,383.2 L245.99,383.09 L246.85,382.98 L247.72,382.87 L248.58,382.77 L249.44,382.66 L250.31,382.56 L251.17,382.46 L252.03,382.37 L252.9,382.27 L253.76,382.18 L254.62,382.08 L255.49,381.99 L256.35,381.89 L257.22,381.8 L258.08,381.7 L258.94,381.61 L259.81,381.51 L260.67,381.41 L261.53,381.31 L262.4,381.21 L263.26,381.11 L264.13,381 L264.99,380.9 L265.85,380.8 L266.72,380.69 L267.58,380.59 L268.44,380.49 L269.31,380.4 L270.17,380.3 L271.04,380.21 L271.9,380.12 L272.76,380.04 L273.63,379.96 L274.49,379.88 L275.35,379.81 L276.22,379.75 L277.08,379.69 L277.94,379.63 L278.81,379.59 L279.67,379.55 L280.54,379.51 L281.4,379.49 L282.26,379.47 L283.13,379.44 L283.99,379.42 L284.85,379.4 L285.72,379.38 L286.58,379.36 L287.45,379.34 L288.31,379.32 L289.17,379.3 L290.04,379.28 L290.9,379.26 L291.76,379.24 L292.63,379.23 L293.49,379.21 L294.36,379.2 L295.22,379.19 L296.08,379.17 L296.95,379.16 L297.81,379.15 L298.67,379.14 L299.54,379.13 L300.4,379.12 L301.27,379.12 L302.13,379.11 L302.99,379.11 L303.86,379.1 L304.72,379.1 L305.58,379.1 L306.45,379.1 L307.31,379.11 L308.17,379.12 L309.04,379.13 L309.9,379.15 L310.77,379.18 L311.63,379.21 L312.49,379.25 L313.36,379.29 L314.22,379.33 L315.08,379.38 L315.95,379.43 L316.81,379.49 L317.68,379.55 L318.54,379.62 L319.4,379.69 L320.27,379.76 L321.13,379.83 L321.99,379.91 L322.86,379.99 L323.72,380.08 L324.59,380.16 L325.45,380.26 L326.31,380.35 L327.18,380.44 L328.04,380.54 L328.9,380.64 L329.77,380.74 L330.63,380.85 L331.5,380.95 L332.36,381.06 L333.22,381.17 L334.09,381.28 L334.95,381.39" fill="none" stroke="#ff0000" stroke-width="3.6" stroke-dasharray="13.2 13.1" stroke-linejoin="round"/>
<path d="M76.8,286.6 L77.66,303.29 L78.53,312.45 L79.39,317.14 L80.25,320.36 L81.12,322.81 L81.98,324.85 L82.84,326.47 L83.71,327.69 L84.57,328.82 L85.43,329.82 L86.3,330.63 L87.16,331.2 L88.02,331.48 L88.89,331.66 L89.75,331.8 L90.61,331.92 L91.48,332.02 L92.34,332.11 L93.2,332.19 L94.07,332.27 L94.93,332.35 L95.79,332.43 L96.66,332.49 L97.52,332.55 L98.38,332.61 L99.25,332.66 L100.11,332.72 L100.97,332.79 L101.84,332.87 L102.7,332.95 L103.56,333.06 L104.43,333.19 L105.29,333.35 L106.15,333.53 L107.02,333.74 L107.88,333.95 L108.74,334.18 L109.61,334.42 L110.47,334.66 L111.34,334.91 L112.2,335.15 L113.06,335.39 L113.93,335.63 L114.79,335.88 L115.65,336.14 L116.52,336.41 L117.38,336.68 L118.24,336.96 L119.11,337.24 L119.97,337.52 L120.83,337.8 L121.7,338.07 L122.56,338.35 L123.42,338.63 L124.29,338.92 L125.15,339.21 L126.01,339.5 L126.88,339.8 L127.74,340.1 L128.6,340.4 L129.47,340.69 L130.33,340.98 L131.19,341.27 L132.06,341.55 L132.92,341.81 L133.78,342.07 L134.65,342.32 L135.51,342.55 L136.37,342.77 L137.24,342.98 L138.1,343.18 L138.96,343.38 L139.83,343.57 L140.69,343.76 L141.55,343.94 L142.42,344.12 L143.28,344.29 L144.14,344.46 L145.01,344.63 L145.87,344.79 L146.73,344.95 L147.6,345.11 L148.46,345.27 L149.32,345.42 L150.19,345.57 L151.05,345.72 L151.91,345.87 L152.78,346.02 L153.64,346.16 L154.5,346.31 L155.37,346.45 L156.23,346.59 L157.09,346.73 L157.96,346.86 L158.82,347 L159.68,347.13 L160.55,347.26 L161.41,347.39 L162.27,347.52 L163.14,347.64 L164,347.76 L164.86,347.88 L165.73,347.99 L166.59,348.1 L167.45,348.21 L168.32,348.31 L169.18,348.42 L170.04,348.51 L170.91,348.61 L171.77,348.71 L172.63,348.8 L173.5,348.89 L174.36,348.98 L175.23,349.06 L176.09,349.15 L176.95,349.23 L177.82,349.32 L178.68,349.4 L179.54,349.48 L180.41,349.56 L181.27,349.64 L182.13,349.71 L183,349.79 L183.86,349.87 L184.72,349.95 L185.59,350.02 L186.45,350.1 L187.31,350.18 L188.18,350.25 L189.04,350.33 L189.9,350.41 L190.77,350.48 L191.63,350.55 L192.49,350.63 L193.36,350.7 L194.22,350.77 L195.08,350.83 L195.95,350.9 L196.81,350.96 L197.67,351.03 L198.54,351.09 L199.4,351.14 L200.26,351.2 L201.13,351.25 L201.99,351.3 L202.85,351.35 L203.72,351.4 L204.58,351.44 L205.44,351.49 L206.31,351.53 L207.17,351.57 L208.03,351.61 L208.9,351.66 L209.76,351.7 L210.62,351.74 L211.49,351.78 L212.35,351.81 L213.21,351.85 L214.08,351.89 L214.94,351.93 L215.8,351.97 L216.67,352.01 L217.53,352.05 L218.39,352.1 L219.26,352.14 L220.12,352.18 L220.98,352.22 L221.85,352.26 L222.71,352.31 L223.57,352.35 L224.44,352.39 L225.3,352.43 L226.16,352.46 L227.03,352.5 L227.89,352.53 L228.75,352.56 L229.62,352.59 L230.48,352.61 L231.34,352.64 L232.21,352.66 L233.07,352.69 L233.93,352.71 L234.8,352.74 L235.66,352.76 L236.52,352.78 L237.39,352.81 L238.25,352.83 L239.12,352.85 L239.98,352.88 L240.84,352.9 L241.71,352.92 L242.57,352.94 L243.43,352.96 L244.3,352.98 L245.16,353 L246.02,353.02 L246.89,353.04 L247.75,353.06 L248.61,353.08 L249.48,353.1 L250.34,353.12 L251.2,353.14 L252.07,353.16 L252.93,353.17 L253.79,353.19 L254.66,353.21 L255.52,353.23 L256.38,353.24 L257.25,353.26 L258.11,353.27 L258.97,353.29 L259.84,353.3 L260.7,353.32 L261.56,353.33 L262.43,353.34 L263.29,353.36 L264.15,353.37 L265.02,353.38 L265.88,353.4 L266.74,353.41 L267.61,353.42 L268.47,353.43 L269.33,353.44 L270.2,353.45 L271.06,353.46 L271.92,353.47 L272.79,353.48 L273.65,353.48 L274.51,353.49 L275.38,353.5 L276.24,353.51 L277.1,353.51 L277.97,353.52 L278.83,353.53 L279.69,353.53 L280.56,353.54 L281.42,353.55 L282.28,353.56 L283.15,353.56 L284.01,353.57 L284.87,353.58 L285.74,353.58 L286.6,353.59 L287.46,353.6 L288.33,353.6 L289.19,353.61 L290.05,353.61 L290.92,353.62 L291.78,353.63 L292.64,353.63 L293.51,353.64 L294.37,353.64 L295.23,353.65 L296.1,353.66 L296.96,353.66 L297.82,353.67 L298.69,353.67 L299.55,353.68 L300.41,353.68 L301.28,353.69 L302.14,353.69 L303.01,353.7 L303.87,353.7 L304.73,353.71 L305.6,353.71 L306.46,353.72 L307.32,353.72 L308.19,353.73 L309.05,353.73 L309.91,353.74 L310.78,353.74 L311.64,353.74 L312.5,353.75 L313.37,353.75 L314.23,353.75 L315.09,353.76 L315.96,353.76 L316.82,353.77 L317.68,353.77 L318.55,353.77 L319.41,353.77 L320.27,353.78 L321.14,353.78 L322,353.78 L322.86,353.78 L323.73,353.79 L324.59,353.79 L325.45,353.79 L326.32,353.79 L327.18,353.79 L328.04,353.79 L328.91,353.8 L329.77,353.8 L330.63,353.8 L331.5,353.8 L332.36,353.8 L333.22,353.8 L334.09,353.8 L334.95,353.8" fill="none" stroke="#000" stroke-width="3.6" stroke-dasharray="3.4 3.1" stroke-linejoin="round"/>
<path d="M76.7,472.6 L77.56,459.81 L78.43,451.82 L79.29,446.57 L80.15,443.29 L81.02,439.97 L81.88,436.92 L82.75,434.42 L83.61,432.61 L84.47,431.04 L85.34,429.72 L86.2,428.83 L87.06,428.43 L87.93,428.16 L88.79,427.96 L89.66,427.8 L90.52,427.66 L91.38,427.52 L92.25,427.37 L93.11,427.22 L93.97,427.08 L94.84,426.94 L95.7,426.81 L96.57,426.67 L97.43,426.53 L98.29,426.39 L99.16,426.25 L100.02,426.1 L100.88,425.96 L101.75,425.82 L102.61,425.67 L103.48,425.52 L104.34,425.37 L105.2,425.21 L106.07,425.05 L106.93,424.88 L107.79,424.72 L108.66,424.55 L109.52,424.37 L110.38,424.2 L111.25,424.02 L112.11,423.83 L112.98,423.64 L113.84,423.45 L114.7,423.25 L115.57,423.04 L116.43,422.81 L117.29,422.57 L118.16,422.32 L119.02,422.06 L119.89,421.79 L120.75,421.52 L121.61,421.25 L122.48,420.98 L123.34,420.72 L124.2,420.47 L125.07,420.23 L125.93,420 L126.8,419.79 L127.66,419.6 L128.52,419.42 L129.39,419.25 L130.25,419.08 L131.11,418.92 L131.98,418.77 L132.84,418.62 L133.71,418.48 L134.57,418.34 L135.43,418.2 L136.3,418.06 L137.16,417.92 L138.02,417.78 L138.89,417.64 L139.75,417.5 L140.61,417.35 L141.48,417.19 L142.34,417.03 L143.21,416.86 L144.07,416.69 L144.93,416.5 L145.8,416.3 L146.66,416.09 L147.52,415.87 L148.39,415.65 L149.25,415.42 L150.12,415.2 L150.98,414.97 L151.84,414.75 L152.71,414.52 L153.57,414.31 L154.43,414.1 L155.3,413.91 L156.16,413.72 L157.03,413.54 L157.89,413.36 L158.75,413.19 L159.62,413.01 L160.48,412.84 L161.34,412.67 L162.21,412.5 L163.07,412.34 L163.93,412.17 L164.8,412.02 L165.66,411.86 L166.53,411.71 L167.39,411.56 L168.25,411.42 L169.12,411.28 L169.98,411.14 L170.84,411.01 L171.71,410.88 L172.57,410.76 L173.44,410.64 L174.3,410.52 L175.16,410.4 L176.03,410.29 L176.89,410.18 L177.75,410.07 L178.62,409.96 L179.48,409.85 L180.35,409.75 L181.21,409.65 L182.07,409.55 L182.94,409.46 L183.8,409.37 L184.66,409.28 L185.53,409.19 L186.39,409.11 L187.26,409.02 L188.12,408.94 L188.98,408.86 L189.85,408.78 L190.71,408.71 L191.57,408.63 L192.44,408.55 L193.3,408.48 L194.16,408.41 L195.03,408.33 L195.89,408.27 L196.76,408.2 L197.62,408.14 L198.48,408.08 L199.35,408.02 L200.21,407.96 L201.07,407.91 L201.94,407.87 L202.8,407.82 L203.67,407.78 L204.53,407.75 L205.39,407.71 L206.26,407.67 L207.12,407.64 L207.98,407.61 L208.85,407.57 L209.71,407.54 L210.58,407.51 L211.44,407.48 L212.3,407.45 L213.17,407.42 L214.03,407.39 L214.89,407.37 L215.76,407.34 L216.62,407.32 L217.49,407.29 L218.35,407.27 L219.21,407.24 L220.08,407.22 L220.94,407.2 L221.8,407.18 L222.67,407.16 L223.53,407.14 L224.39,407.12 L225.26,407.1 L226.12,407.08 L226.99,407.06 L227.85,407.04 L228.71,407.02 L229.58,407.01 L230.44,406.99 L231.3,406.98 L232.17,406.96 L233.03,406.94 L233.9,406.93 L234.76,406.91 L235.62,406.9 L236.49,406.88 L237.35,406.87 L238.21,406.86 L239.08,406.84 L239.94,406.83 L240.81,406.82 L241.67,406.8 L242.53,406.79 L243.4,406.78 L244.26,406.76 L245.12,406.75 L245.99,406.74 L246.85,406.73 L247.72,406.72 L248.58,406.7 L249.44,406.69 L250.31,406.68 L251.17,406.67 L252.03,406.66 L252.9,406.65 L253.76,406.64 L254.62,406.63 L255.49,406.62 L256.35,406.61 L257.22,406.6 L258.08,406.59 L258.94,406.58 L259.81,406.57 L260.67,406.56 L261.53,406.55 L262.4,406.54 L263.26,406.53 L264.13,406.52 L264.99,406.51 L265.85,406.5 L266.72,406.49 L267.58,406.48 L268.44,406.47 L269.31,406.46 L270.17,406.45 L271.04,406.45 L271.9,406.44 L272.76,406.43 L273.63,406.42 L274.49,406.41 L275.35,406.4 L276.22,406.39 L277.08,406.38 L277.94,406.37 L278.81,406.36 L279.67,406.36 L280.54,406.35 L281.4,406.34 L282.26,406.33 L283.13,406.32 L283.99,406.31 L284.85,406.3 L285.72,406.3 L286.58,406.29 L287.45,406.28 L288.31,406.27 L289.17,406.26 L290.04,406.25 L290.9,406.24 L291.76,406.24 L292.63,406.23 L293.49,406.22 L294.36,406.21 L295.22,406.2 L296.08,406.2 L296.95,406.19 L297.81,406.18 L298.67,406.17 L299.54,406.16 L300.4,406.16 L301.27,406.15 L302.13,406.14 L302.99,406.13 L303.86,406.13 L304.72,406.12 L305.58,406.11 L306.45,406.1 L307.31,406.1 L308.17,406.09 L309.04,406.08 L309.9,406.08 L310.77,406.07 L311.63,406.06 L312.49,406.05 L313.36,406.05 L314.22,406.04 L315.08,406.03 L315.95,406.03 L316.81,406.02 L317.68,406.01 L318.54,406.01 L319.4,406 L320.27,406 L321.13,405.99 L321.99,405.98 L322.86,405.98 L323.72,405.97 L324.59,405.96 L325.45,405.96 L326.31,405.95 L327.18,405.95 L328.04,405.94 L328.9,405.94 L329.77,405.93 L330.63,405.93 L331.5,405.92 L332.36,405.92 L333.22,405.91 L334.09,405.91 L334.95,405.9" fill="none" stroke="#000" stroke-width="3.6" stroke-dasharray="3.4 3.1" stroke-linejoin="round"/>
<path d="M76.7,379.35 L77.22,378.75 L77.74,378.23 L78.25,377.8 L78.77,377.45 L79.29,377.2 L79.81,377.05 L80.32,377 L80.84,377.06 L81.36,377.24 L81.88,377.5 L82.39,377.84 L82.91,378.24 L83.43,378.7 L83.95,379.18 L84.46,379.69 L84.98,380.19 L85.5,380.7 L86.02,381.27 L86.53,381.92 L87.05,382.64 L87.57,383.41 L88.09,384.23 L88.6,385.08 L89.12,385.96 L89.64,386.84 L90.16,387.73 L90.67,388.63 L91.19,389.59 L91.71,390.6 L92.23,391.64 L92.74,392.69 L93.26,393.75 L93.78,394.79 L94.3,395.8 L94.81,396.79 L95.33,397.76 L95.85,398.72 L96.37,399.69 L96.88,400.65 L97.4,401.62 L97.92,402.59 L98.44,403.56 L98.95,404.54 L99.47,405.52 L99.99,406.49 L100.51,407.46 L101.02,408.41 L101.54,409.35 L102.06,410.29 L102.58,411.22 L103.09,412.15 L103.61,413.09 L104.13,414.04 L104.65,415 L105.16,415.97 L105.68,416.95 L106.2,417.93 L106.72,418.92 L107.23,419.95 L107.75,421.01 L108.27,422.07 L108.79,423.08 L109.3,424.03 L109.82,424.88 L110.34,425.65 L110.86,426.38 L111.37,427.1 L111.89,427.79 L112.41,428.46 L112.93,429.11 L113.44,429.73 L113.96,430.32 L114.48,430.88 L115,431.41 L115.52,431.91 L116.03,432.38 L116.55,432.82 L117.07,433.23 L117.59,433.62 L118.1,434.01 L118.62,434.39 L119.14,434.77 L119.66,435.13 L120.17,435.48 L120.69,435.81 L121.21,436.13 L121.73,436.44 L122.24,436.73 L122.76,437 L123.28,437.24 L123.8,437.47 L124.31,437.68 L124.83,437.86 L125.35,438.01 L125.87,438.14 L126.38,438.26 L126.9,438.38 L127.42,438.49 L127.94,438.61 L128.45,438.71 L128.97,438.81 L129.49,438.91 L130.01,439 L130.52,439.08 L131.04,439.16 L131.56,439.22 L132.08,439.28 L132.59,439.33 L133.11,439.36 L133.63,439.39 L134.15,439.4 L134.66,439.4 L135.18,439.38 L135.7,439.36 L136.22,439.32 L136.73,439.27 L137.25,439.21 L137.77,439.15 L138.29,439.08 L138.8,439 L139.32,438.91 L139.84,438.83 L140.36,438.73 L140.87,438.6 L141.39,438.43 L141.91,438.24 L142.43,438.03 L142.94,437.81 L143.46,437.58 L143.98,437.32 L144.5,437.03 L145.01,436.71 L145.53,436.37 L146.05,436.01 L146.57,435.64 L147.08,435.24 L147.6,434.84 L148.12,434.43 L148.64,434.02 L149.15,433.6 L149.67,433.19 L150.19,432.78 L150.71,432.38 L151.23,431.99 L151.74,431.61 L152.26,431.25 L152.78,430.89 L153.3,430.53 L153.81,430.18 L154.33,429.82 L154.85,429.47 L155.37,429.12 L155.88,428.76 L156.4,428.41 L156.92,428.05 L157.44,427.7 L157.95,427.34 L158.47,426.97 L158.99,426.61 L159.51,426.24 L160.02,425.87 L160.54,425.5 L161.06,425.12 L161.58,424.75 L162.09,424.37 L162.61,424 L163.13,423.62 L163.65,423.24 L164.16,422.86 L164.68,422.48 L165.2,422.09 L165.72,421.71 L166.23,421.33 L166.75,420.94 L167.27,420.55 L167.79,420.17 L168.3,419.78 L168.82,419.39 L169.34,419 L169.86,418.61 L170.37,418.22 L170.89,417.83 L171.41,417.44 L171.93,417.05 L172.44,416.66 L172.96,416.26 L173.48,415.86 L174,415.45 L174.51,415.05 L175.03,414.64 L175.55,414.23 L176.07,413.82 L176.58,413.4 L177.1,412.99 L177.62,412.58 L178.14,412.17 L178.65,411.76 L179.17,411.35 L179.69,410.95 L180.21,410.55 L180.72,410.15 L181.24,409.75 L181.76,409.36 L182.28,408.97 L182.79,408.58 L183.31,408.21 L183.83,407.83" fill="none" stroke="#000" stroke-width="3.9" stroke-linejoin="round"/>
<path d="M184.35,407.47 L184.86,407.11 L185.38,406.75 L185.9,406.4 L186.42,406.05 L186.93,405.71 L187.45,405.37 L187.97,405.03 L188.49,404.69 L189.01,404.36 L189.52,404.03 L190.04,403.7 L190.56,403.37 L191.08,403.05 L191.59,402.72 L192.11,402.39 L192.63,402.07 L193.15,401.74 L193.66,401.41 L194.18,401.08 L194.7,400.75 L195.22,400.42 L195.73,400.08 L196.25,399.74 L196.77,399.4 L197.29,399.05 L197.8,398.7 L198.32,398.34 L198.84,397.99 L199.36,397.63 L199.87,397.28 L200.39,396.92 L200.91,396.57 L201.43,396.22 L201.94,395.88 L202.46,395.54 L202.98,395.2 L203.5,394.88 L204.01,394.56 L204.53,394.25 L205.05,393.94 L205.57,393.65 L206.08,393.37 L206.6,393.1 L207.12,392.83 L207.64,392.57 L208.15,392.32 L208.67,392.07 L209.19,391.83 L209.71,391.59 L210.22,391.35 L210.74,391.12 L211.26,390.89 L211.78,390.67 L212.29,390.45 L212.81,390.23 L213.33,390.01 L213.85,389.8 L214.36,389.59 L214.88,389.38 L215.4,389.17 L215.92,388.96 L216.43,388.75 L216.95,388.55 L217.47,388.34 L217.99,388.14 L218.5,387.94 L219.02,387.73 L219.54,387.53 L220.06,387.32 L220.57,387.12 L221.09,386.91 L221.61,386.71 L222.13,386.51 L222.64,386.3 L223.16,386.1 L223.68,385.91 L224.2,385.71 L224.72,385.52 L225.23,385.32 L225.75,385.13 L226.27,384.95 L226.79,384.76 L227.3,384.58 L227.82,384.41 L228.34,384.23 L228.86,384.06 L229.37,383.9 L229.89,383.73 L230.41,383.57 L230.93,383.41 L231.44,383.25 L231.96,383.09 L232.48,382.93 L233,382.77 L233.51,382.61 L234.03,382.46 L234.55,382.3 L235.07,382.15 L235.58,382 L236.1,381.85 L236.62,381.71 L237.14,381.57 L237.65,381.44 L238.17,381.31 L238.69,381.19 L239.21,381.07 L239.72,380.96 L240.24,380.86 L240.76,380.77 L241.28,380.68 L241.79,380.6 L242.31,380.53 L242.83,380.45 L243.35,380.38 L243.86,380.31 L244.38,380.23 L244.9,380.16 L245.42,380.09 L245.93,380.02 L246.45,379.95 L246.97,379.88 L247.49,379.82 L248,379.75 L248.52,379.69 L249.04,379.63 L249.56,379.57 L250.07,379.51 L250.59,379.46 L251.11,379.4 L251.63,379.35 L252.14,379.31 L252.66,379.26 L253.18,379.22 L253.7,379.18 L254.21,379.15 L254.73,379.12 L255.25,379.09 L255.77,379.06 L256.28,379.04 L256.8,379.03 L257.32,379.01 L257.84,379 L258.35,379 L258.87,379 L259.39,379 L259.91,379 L260.42,379 L260.94,379 L261.46,379 L261.98,379.01 L262.5,379.01 L263.01,379.01 L263.53,379.01 L264.05,379.01 L264.57,379.02 L265.08,379.02 L265.6,379.02 L266.12,379.02 L266.64,379.03 L267.15,379.03 L267.67,379.03 L268.19,379.04 L268.71,379.04 L269.22,379.05 L269.74,379.05 L270.26,379.05 L270.78,379.06 L271.29,379.06 L271.81,379.07 L272.33,379.07 L272.85,379.08 L273.36,379.08 L273.88,379.09 L274.4,379.09 L274.92,379.1 L275.43,379.1 L275.95,379.11 L276.47,379.11 L276.99,379.12 L277.5,379.13 L278.02,379.14 L278.54,379.15 L279.06,379.16 L279.57,379.17 L280.09,379.19 L280.61,379.2 L281.13,379.22 L281.64,379.23 L282.16,379.25 L282.68,379.27 L283.2,379.28 L283.71,379.3 L284.23,379.32 L284.75,379.34 L285.27,379.36 L285.78,379.38 L286.3,379.4 L286.82,379.42 L287.34,379.44 L287.85,379.47 L288.37,379.49 L288.89,379.51 L289.41,379.53 L289.92,379.56 L290.44,379.58 L290.96,379.6 L291.48,379.62 L291.99,379.65 L292.51,379.67 L293.03,379.69 L293.55,379.72 L294.06,379.74 L294.58,379.76 L295.1,379.78 L295.62,379.81 L296.13,379.83 L296.65,379.85 L297.17,379.87 L297.69,379.89 L298.21,379.91 L298.72,379.93 L299.24,379.95 L299.76,379.97 L300.28,379.99 L300.79,380.01 L301.31,380.03 L301.83,380.05 L302.35,380.07 L302.86,380.08 L303.38,380.1 L303.9,380.12 L304.42,380.14 L304.93,380.16 L305.45,380.17 L305.97,380.19 L306.49,380.21 L307,380.23 L307.52,380.25 L308.04,380.27 L308.56,380.28 L309.07,380.3 L309.59,380.32 L310.11,380.34 L310.63,380.36 L311.14,380.37 L311.66,380.39 L312.18,380.41 L312.7,380.43 L313.21,380.45 L313.73,380.46 L314.25,380.48 L314.77,380.5 L315.28,380.52 L315.8,380.54 L316.32,380.56 L316.84,380.57 L317.35,380.59 L317.87,380.61 L318.39,380.63 L318.91,380.65 L319.42,380.66 L319.94,380.68 L320.46,380.7 L320.98,380.72 L321.49,380.74 L322.01,380.75 L322.53,380.77 L323.05,380.79 L323.56,380.81 L324.08,380.82 L324.6,380.84 L325.12,380.86 L325.63,380.88 L326.15,380.9 L326.67,380.91 L327.19,380.93 L327.7,380.95 L328.22,380.97 L328.74,380.99 L329.26,381 L329.77,381.02 L330.29,381.04 L330.81,381.06 L331.33,381.07 L331.84,381.09 L332.36,381.11 L332.88,381.13 L333.4,381.15 L333.91,381.16 L334.43,381.18 L334.95,381.2" fill="none" stroke="#000" stroke-width="3.6" stroke-dasharray="3.4 3.1" stroke-linejoin="round"/>
</g>
<g clip-path="url(#cd)">
<path d="M416.8,379.49 L417.8,379.65 L418.8,379.46 L419.8,379.57 L420.8,379.48 L421.8,379.6 L422.8,379.19 L423.81,379.4 L424.81,379.2 L425.81,378.75 L426.81,378.56 L427.81,377.76 L428.81,377.4 L429.81,376.57 L430.81,375.77 L431.81,374.55 L432.81,373.3 L433.81,371.53 L434.81,370.39 L435.81,369.08 L436.82,367.99 L437.82,366.77 L438.82,365.69 L439.82,364.36 L440.82,363.55 L441.82,362.48 L442.82,361.07 L443.82,360 L444.82,358.96 L445.82,358.01 L446.82,357.02 L447.82,355.59 L448.82,354.63 L449.83,353.59 L450.83,352.66 L451.83,351.74 L452.83,351.15 L453.83,350.18 L454.83,349.73 L455.83,348.91 L456.83,347.96 L457.83,347.28 L458.83,346.65 L459.83,346.23 L460.83,345.27 L461.83,344.48 L462.84,343.9 L463.84,343.21 L464.84,342.4 L465.84,342.08 L466.84,341.41 L467.84,340.96 L468.84,340.37 L469.84,340.08 L470.84,339.75 L471.84,339.24 L472.84,339.31 L473.84,338.86 L474.84,338.9 L475.85,338.57 L476.85,338.86 L477.85,338.52 L478.85,338.46 L479.85,338.37 L480.85,338.05 L481.85,337.93 L482.85,338.19 L483.85,338.4 L484.85,338.37 L485.85,338.54 L486.85,338.66 L487.85,338.47 L488.86,338.78 L489.86,339.08 L490.86,338.88 L491.86,338.82 L492.86,339.16 L493.86,339.26 L494.86,339.51 L495.86,339.5 L496.86,339.77 L497.86,339.66 L498.86,340.2 L499.86,340.47 L500.86,340.62 L501.87,340.48 L502.87,340.9 L503.87,340.71 L504.87,341.34 L505.87,341.57 L506.87,341.76 L507.87,342.24 L508.87,342.55 L509.87,342.99 L510.87,343.22 L511.87,343.55 L512.87,343.57 L513.87,343.94 L514.88,344.3 L515.88,344.66 L516.88,344.88 L517.88,345.32 L518.88,345.29 L519.88,345.61 L520.88,345.92 L521.88,346.1 L522.88,346.43 L523.88,346.54 L524.88,347.02 L525.88,347.05 L526.88,347.46 L527.89,347.57 L528.89,347.99 L529.89,347.89 L530.89,348.36 L531.89,348.49 L532.89,348.82 L533.89,349.19 L534.89,349.17 L535.89,349.41 L536.89,349.71 L537.89,350.14 L538.89,350.16 L539.89,350.68 L540.9,350.81 L541.9,351.14 L542.9,351.56 L543.9,351.99 L544.9,352.21 L545.9,352.56 L546.9,352.95 L547.9,353.24 L548.9,353.26 L549.9,353.82 L550.9,354.16 L551.9,354.54 L552.91,354.92 L553.91,355.01 L554.91,355.19 L555.91,355.32 L556.91,355.69 L557.91,356.01 L558.91,356.3 L559.91,356.28 L560.91,356.64 L561.91,356.94 L562.91,357.29 L563.91,357.32 L564.91,357.44 L565.92,357.64 L566.92,357.9 L567.92,358.08 L568.92,358.47 L569.92,358.72 L570.92,358.89 L571.92,359.16 L572.92,359.18 L573.92,359.49 L574.92,359.61 L575.92,359.88 L576.92,360.24 L577.92,360.31 L578.93,360.31 L579.93,360.73 L580.93,360.9 L581.93,361.03 L582.93,361.35 L583.93,361.79 L584.93,362.11 L585.93,362.08 L586.93,362.5 L587.93,362.75 L588.93,362.71 L589.93,363.08 L590.93,363.32 L591.94,363.59 L592.94,363.62 L593.94,364.01 L594.94,364.42 L595.94,364.68 L596.94,364.99 L597.94,364.97 L598.94,365.47 L599.94,365.56 L600.94,365.56 L601.94,366.05 L602.94,366.15 L603.94,366.49 L604.95,366.64 L605.95,367.03 L606.95,367.14 L607.95,367.31 L608.95,367.68 L609.95,367.81 L610.95,367.95 L611.95,368.37 L612.95,368.38 L613.95,368.56 L614.95,368.78 L615.95,368.88 L616.95,369.18 L617.96,369.67 L618.96,369.53 L619.96,369.83 L620.96,369.88 L621.96,370.12 L622.96,370.55 L623.96,370.65 L624.96,370.65 L625.96,370.9 L626.96,370.97 L627.96,371.15 L628.96,371.31 L629.96,371.48 L630.97,371.8 L631.97,372 L632.97,372.15 L633.97,372.24 L634.97,372.27 L635.97,372.59 L636.97,372.65 L637.97,373.03 L638.97,373.15 L639.97,373.33 L640.97,373.36 L641.97,373.34 L642.97,373.83 L643.98,374.02 L644.98,373.85 L645.98,374.19 L646.98,374.47 L647.98,374.35 L648.98,374.84 L649.98,374.73 L650.98,374.79 L651.98,375.23 L652.98,375.24 L653.98,375.27 L654.98,375.59 L655.98,375.39 L656.99,375.98 L657.99,375.8 L658.99,376.06 L659.99,376.11 L660.99,376.34 L661.99,376.52 L662.99,376.44 L663.99,376.76 L664.99,376.75 L665.99,376.82 L666.99,377 L667.99,377.02 L668.99,377.16 L670,377.48 L671,377.46 L672,377.72 L673,377.75 L674,377.67 L675,377.67 L676,377.92" fill="none" stroke="#0000ff" stroke-width="3.6" stroke-linejoin="round"/>
<path d="M416.8,313.4 L417.67,313.42 L418.53,313.49 L419.4,313.6 L420.27,313.74 L421.13,313.91 L422,314.11 L422.87,314.34 L423.74,314.74 L424.6,315.29 L425.47,315.95 L426.34,316.68 L427.2,317.43 L428.07,318.22 L428.94,319.14 L429.8,320.15 L430.67,321.24 L431.54,322.37 L432.4,323.51 L433.27,324.69 L434.14,325.96 L435,327.27 L435.87,328.6 L436.74,329.9 L437.61,331.15 L438.47,332.35 L439.34,333.55 L440.21,334.72 L441.07,335.87 L441.94,336.99 L442.81,338.09 L443.67,339.17 L444.54,340.25 L445.41,341.29 L446.27,342.29 L447.14,343.23 L448.01,344.1 L448.87,344.93 L449.74,345.72 L450.61,346.48 L451.48,347.22 L452.34,347.93 L453.21,348.62 L454.08,349.3 L454.94,349.98 L455.81,350.64 L456.68,351.29 L457.54,351.94 L458.41,352.56 L459.28,353.17 L460.14,353.76 L461.01,354.33 L461.88,354.87 L462.75,355.38 L463.61,355.88 L464.48,356.37 L465.35,356.85 L466.21,357.31 L467.08,357.76 L467.95,358.19 L468.81,358.62 L469.68,359.02 L470.55,359.41 L471.41,359.78 L472.28,360.14 L473.15,360.47 L474.01,360.8 L474.88,361.12 L475.75,361.42 L476.62,361.72 L477.48,362.01 L478.35,362.29 L479.22,362.56 L480.08,362.82 L480.95,363.08 L481.82,363.32 L482.68,363.56 L483.55,363.78 L484.42,364 L485.28,364.22 L486.15,364.42 L487.02,364.63 L487.88,364.82 L488.75,365.01 L489.62,365.2 L490.49,365.38 L491.35,365.56 L492.22,365.74 L493.09,365.91 L493.95,366.08 L494.82,366.24 L495.69,366.41 L496.55,366.57 L497.42,366.73 L498.29,366.88 L499.15,367.04 L500.02,367.19 L500.89,367.35 L501.76,367.5 L502.62,367.66 L503.49,367.81 L504.36,367.96 L505.22,368.13 L506.09,368.29 L506.96,368.46 L507.82,368.63 L508.69,368.79 L509.56,368.93 L510.42,369.07 L511.29,369.18 L512.16,369.27 L513.02,369.34 L513.89,369.41 L514.76,369.47 L515.63,369.53 L516.49,369.59 L517.36,369.65 L518.23,369.71 L519.09,369.76 L519.96,369.82 L520.83,369.87 L521.69,369.92 L522.56,369.97 L523.43,370.02 L524.29,370.06 L525.16,370.11 L526.03,370.15 L526.89,370.2 L527.76,370.24 L528.63,370.28 L529.5,370.32 L530.36,370.35 L531.23,370.39 L532.1,370.42 L532.96,370.46 L533.83,370.49 L534.7,370.52 L535.56,370.55 L536.43,370.58 L537.3,370.61 L538.16,370.63 L539.03,370.66 L539.9,370.68 L540.77,370.71 L541.63,370.73 L542.5,370.75 L543.37,370.77 L544.23,370.79 L545.1,370.81 L545.97,370.83 L546.83,370.85 L547.7,370.86 L548.57,370.88 L549.43,370.89 L550.3,370.9 L551.17,370.92 L552.03,370.93 L552.9,370.94 L553.77,370.96 L554.64,370.97 L555.5,370.98 L556.37,370.99 L557.24,371 L558.1,371.02 L558.97,371.03 L559.84,371.04 L560.7,371.05 L561.57,371.06 L562.44,371.07 L563.3,371.08 L564.17,371.09 L565.04,371.1 L565.91,371.11 L566.77,371.11 L567.64,371.12 L568.51,371.13 L569.37,371.14 L570.24,371.14 L571.11,371.15 L571.97,371.16 L572.84,371.16 L573.71,371.17 L574.57,371.17 L575.44,371.18 L576.31,371.18 L577.17,371.19 L578.04,371.19 L578.91,371.19 L579.78,371.2 L580.64,371.2 L581.51,371.2 L582.38,371.2 L583.24,371.2 L584.11,371.21 L584.98,371.21 L585.84,371.21 L586.71,371.21 L587.58,371.21 L588.44,371.22 L589.31,371.22 L590.18,371.22 L591.04,371.22 L591.91,371.22 L592.78,371.22 L593.65,371.23 L594.51,371.23 L595.38,371.23 L596.25,371.23 L597.11,371.23 L597.98,371.23 L598.85,371.24 L599.71,371.24 L600.58,371.24 L601.45,371.24 L602.31,371.24 L603.18,371.24 L604.05,371.24 L604.92,371.25 L605.78,371.25 L606.65,371.25 L607.52,371.25 L608.38,371.25 L609.25,371.25 L610.12,371.25 L610.98,371.25 L611.85,371.26 L612.72,371.26 L613.58,371.26 L614.45,371.26 L615.32,371.26 L616.18,371.26 L617.05,371.26 L617.92,371.26 L618.79,371.26 L619.65,371.27 L620.52,371.27 L621.39,371.27 L622.25,371.27 L623.12,371.27 L623.99,371.27 L624.85,371.27 L625.72,371.27 L626.59,371.27 L627.45,371.28 L628.32,371.28 L629.19,371.28 L630.05,371.28 L630.92,371.28 L631.79,371.28 L632.66,371.28 L633.52,371.28 L634.39,371.28 L635.26,371.28 L636.12,371.28 L636.99,371.28 L637.86,371.28 L638.72,371.29 L639.59,371.29 L640.46,371.29 L641.32,371.29 L642.19,371.29 L643.06,371.29 L643.93,371.29 L644.79,371.29 L645.66,371.29 L646.53,371.29 L647.39,371.29 L648.26,371.29 L649.13,371.29 L649.99,371.29 L650.86,371.29 L651.73,371.29 L652.59,371.29 L653.46,371.29 L654.33,371.3 L655.19,371.3 L656.06,371.3 L656.93,371.3 L657.8,371.3 L658.66,371.3 L659.53,371.3 L660.4,371.3 L661.26,371.3 L662.13,371.3 L663,371.3 L663.86,371.3 L664.73,371.3 L665.6,371.3 L666.46,371.3 L667.33,371.3 L668.2,371.3 L669.06,371.3 L669.93,371.3 L670.8,371.3 L671.67,371.3 L672.53,371.3 L673.4,371.3 L674.27,371.3 L675.13,371.3 L676,371.3" fill="none" stroke="#ff0000" stroke-width="3.6" stroke-dasharray="13.2 13.1" stroke-linejoin="round"/>
<path d="M416.8,446.5 L417.67,446.48 L418.53,446.41 L419.4,446.3 L420.27,446.16 L421.13,445.99 L422,445.79 L422.87,445.56 L423.74,445.16 L424.6,444.61 L425.47,443.95 L426.34,443.22 L427.2,442.47 L428.07,441.68 L428.94,440.76 L429.8,439.75 L430.67,438.66 L431.54,437.53 L432.4,436.39 L433.27,435.21 L434.14,433.94 L435,432.63 L435.87,431.3 L436.74,430 L437.61,428.75 L438.47,427.55 L439.34,426.35 L440.21,425.18 L441.07,424.03 L441.94,422.91 L442.81,421.81 L443.67,420.73 L444.54,419.65 L445.41,418.61 L446.27,417.61 L447.14,416.67 L448.01,415.8 L448.87,414.97 L449.74,414.18 L450.61,413.42 L451.48,412.68 L452.34,411.97 L453.21,411.28 L454.08,410.6 L454.94,409.92 L455.81,409.26 L456.68,408.61 L457.54,407.96 L458.41,407.34 L459.28,406.73 L460.14,406.14 L461.01,405.57 L461.88,405.03 L462.75,404.52 L463.61,404.02 L464.48,403.53 L465.35,403.05 L466.21,402.59 L467.08,402.14 L467.95,401.71 L468.81,401.28 L469.68,400.88 L470.55,400.49 L471.41,400.12 L472.28,399.76 L473.15,399.43 L474.01,399.1 L474.88,398.78 L475.75,398.48 L476.62,398.18 L477.48,397.89 L478.35,397.61 L479.22,397.34 L480.08,397.08 L480.95,396.82 L481.82,396.58 L482.68,396.34 L483.55,396.12 L484.42,395.9 L485.28,395.68 L486.15,395.48 L487.02,395.27 L487.88,395.08 L488.75,394.89 L489.62,394.7 L490.49,394.52 L491.35,394.34 L492.22,394.16 L493.09,393.99 L493.95,393.82 L494.82,393.66 L495.69,393.49 L496.55,393.33 L497.42,393.17 L498.29,393.02 L499.15,392.86 L500.02,392.71 L500.89,392.55 L501.76,392.4 L502.62,392.24 L503.49,392.09 L504.36,391.94 L505.22,391.77 L506.09,391.61 L506.96,391.44 L507.82,391.27 L508.69,391.11 L509.56,390.97 L510.42,390.83 L511.29,390.72 L512.16,390.63 L513.02,390.56 L513.89,390.49 L514.76,390.43 L515.63,390.37 L516.49,390.31 L517.36,390.25 L518.23,390.19 L519.09,390.14 L519.96,390.08 L520.83,390.03 L521.69,389.98 L522.56,389.93 L523.43,389.88 L524.29,389.84 L525.16,389.79 L526.03,389.75 L526.89,389.7 L527.76,389.66 L528.63,389.62 L529.5,389.58 L530.36,389.55 L531.23,389.51 L532.1,389.48 L532.96,389.44 L533.83,389.41 L534.7,389.38 L535.56,389.35 L536.43,389.32 L537.3,389.29 L538.16,389.27 L539.03,389.24 L539.9,389.22 L540.77,389.19 L541.63,389.17 L542.5,389.15 L543.37,389.13 L544.23,389.11 L545.1,389.09 L545.97,389.07 L546.83,389.05 L547.7,389.04 L548.57,389.02 L549.43,389.01 L550.3,389 L551.17,388.98 L552.03,388.97 L552.9,388.96 L553.77,388.94 L554.64,388.93 L555.5,388.92 L556.37,388.91 L557.24,388.9 L558.1,388.88 L558.97,388.87 L559.84,388.86 L560.7,388.85 L561.57,388.84 L562.44,388.83 L563.3,388.82 L564.17,388.81 L565.04,388.8 L565.91,388.79 L566.77,388.79 L567.64,388.78 L568.51,388.77 L569.37,388.76 L570.24,388.76 L571.11,388.75 L571.97,388.74 L572.84,388.74 L573.71,388.73 L574.57,388.73 L575.44,388.72 L576.31,388.72 L577.17,388.71 L578.04,388.71 L578.91,388.71 L579.78,388.7 L580.64,388.7 L581.51,388.7 L582.38,388.7 L583.24,388.7 L584.11,388.69 L584.98,388.69 L585.84,388.69 L586.71,388.69 L587.58,388.69 L588.44,388.68 L589.31,388.68 L590.18,388.68 L591.04,388.68 L591.91,388.68 L592.78,388.68 L593.65,388.67 L594.51,388.67 L595.38,388.67 L596.25,388.67 L597.11,388.67 L597.98,388.67 L598.85,388.66 L599.71,388.66 L600.58,388.66 L601.45,388.66 L602.31,388.66 L603.18,388.66 L604.05,388.66 L604.92,388.65 L605.78,388.65 L606.65,388.65 L607.52,388.65 L608.38,388.65 L609.25,388.65 L610.12,388.65 L610.98,388.65 L611.85,388.64 L612.72,388.64 L613.58,388.64 L614.45,388.64 L615.32,388.64 L616.18,388.64 L617.05,388.64 L617.92,388.64 L618.79,388.64 L619.65,388.63 L620.52,388.63 L621.39,388.63 L622.25,388.63 L623.12,388.63 L623.99,388.63 L624.85,388.63 L625.72,388.63 L626.59,388.63 L627.45,388.62 L628.32,388.62 L629.19,388.62 L630.05,388.62 L630.92,388.62 L631.79,388.62 L632.66,388.62 L633.52,388.62 L634.39,388.62 L635.26,388.62 L636.12,388.62 L636.99,388.62 L637.86,388.62 L638.72,388.61 L639.59,388.61 L640.46,388.61 L641.32,388.61 L642.19,388.61 L643.06,388.61 L643.93,388.61 L644.79,388.61 L645.66,388.61 L646.53,388.61 L647.39,388.61 L648.26,388.61 L649.13,388.61 L649.99,388.61 L650.86,388.61 L651.73,388.61 L652.59,388.61 L653.46,388.61 L654.33,388.6 L655.19,388.6 L656.06,388.6 L656.93,388.6 L657.8,388.6 L658.66,388.6 L659.53,388.6 L660.4,388.6 L661.26,388.6 L662.13,388.6 L663,388.6 L663.86,388.6 L664.73,388.6 L665.6,388.6 L666.46,388.6 L667.33,388.6 L668.2,388.6 L669.06,388.6 L669.93,388.6 L670.8,388.6 L671.67,388.6 L672.53,388.6 L673.4,388.6 L674.27,388.6 L675.13,388.6 L676,388.6" fill="none" stroke="#ff0000" stroke-width="3.6" stroke-dasharray="13.2 13.1" stroke-linejoin="round"/>
<path d="M416.8,379.9 L417.67,379.9 L418.53,379.91 L419.4,379.91 L420.27,379.91 L421.13,379.91 L422,379.92 L422.87,379.92 L423.74,379.92 L424.6,379.93 L425.47,379.93 L426.34,379.93 L427.2,379.93 L428.07,379.94 L428.94,379.94 L429.8,379.94 L430.67,379.95 L431.54,379.95 L432.4,379.95 L433.27,379.95 L434.14,379.96 L435,379.96 L435.87,379.96 L436.74,379.96 L437.61,379.97 L438.47,379.97 L439.34,379.97 L440.21,379.97 L441.07,379.98 L441.94,379.98 L442.81,379.98 L443.67,379.98 L444.54,379.99 L445.41,379.99 L446.27,379.99 L447.14,379.99 L448.01,380 L448.87,380 L449.74,380 L450.61,380 L451.48,380 L452.34,380.01 L453.21,380.01 L454.08,380.01 L454.94,380.01 L455.81,380.01 L456.68,380.01 L457.54,380.02 L458.41,380.02 L459.28,380.02 L460.14,380.02 L461.01,380.02 L461.88,380.03 L462.75,380.03 L463.61,380.03 L464.48,380.03 L465.35,380.03 L466.21,380.03 L467.08,380.03 L467.95,380.04 L468.81,380.04 L469.68,380.04 L470.55,380.04 L471.41,380.04 L472.28,380.04 L473.15,380.04 L474.01,380.05 L474.88,380.05 L475.75,380.05 L476.62,380.05 L477.48,380.05 L478.35,380.05 L479.22,380.05 L480.08,380.06 L480.95,380.06 L481.82,380.06 L482.68,380.06 L483.55,380.06 L484.42,380.06 L485.28,380.07 L486.15,380.07 L487.02,380.07 L487.88,380.07 L488.75,380.07 L489.62,380.07 L490.49,380.08 L491.35,380.08 L492.22,380.08 L493.09,380.08 L493.95,380.08 L494.82,380.09 L495.69,380.09 L496.55,380.09 L497.42,380.09 L498.29,380.1 L499.15,380.1 L500.02,380.1 L500.89,380.1 L501.76,380.11 L502.62,380.11 L503.49,380.11 L504.36,380.11 L505.22,380.12 L506.09,380.12 L506.96,380.12 L507.82,380.13 L508.69,380.13 L509.56,380.14 L510.42,380.14 L511.29,380.14 L512.16,380.15 L513.02,380.15 L513.89,380.16 L514.76,380.16 L515.63,380.17 L516.49,380.17 L517.36,380.18 L518.23,380.18 L519.09,380.19 L519.96,380.19 L520.83,380.2 L521.69,380.2 L522.56,380.21 L523.43,380.21 L524.29,380.22 L525.16,380.22 L526.03,380.23 L526.89,380.23 L527.76,380.24 L528.63,380.24 L529.5,380.25 L530.36,380.25 L531.23,380.26 L532.1,380.27 L532.96,380.27 L533.83,380.28 L534.7,380.28 L535.56,380.29 L536.43,380.29 L537.3,380.3 L538.16,380.3 L539.03,380.31 L539.9,380.31 L540.77,380.32 L541.63,380.32 L542.5,380.33 L543.37,380.33 L544.23,380.34 L545.1,380.34 L545.97,380.34 L546.83,380.35 L547.7,380.35 L548.57,380.36 L549.43,380.36 L550.3,380.37 L551.17,380.37 L552.03,380.37 L552.9,380.38 L553.77,380.38 L554.64,380.38 L555.5,380.39 L556.37,380.39 L557.24,380.39 L558.1,380.39 L558.97,380.4 L559.84,380.4 L560.7,380.4 L561.57,380.4 L562.44,380.41 L563.3,380.41 L564.17,380.41 L565.04,380.41 L565.91,380.41 L566.77,380.42 L567.64,380.42 L568.51,380.42 L569.37,380.42 L570.24,380.43 L571.11,380.43 L571.97,380.43 L572.84,380.43 L573.71,380.43 L574.57,380.44 L575.44,380.44 L576.31,380.44 L577.17,380.44 L578.04,380.44 L578.91,380.45 L579.78,380.45 L580.64,380.45 L581.51,380.45 L582.38,380.45 L583.24,380.46 L584.11,380.46 L584.98,380.46 L585.84,380.46 L586.71,380.46 L587.58,380.46 L588.44,380.47 L589.31,380.47 L590.18,380.47 L591.04,380.47 L591.91,380.47 L592.78,380.47 L593.65,380.48 L594.51,380.48 L595.38,380.48 L596.25,380.48 L597.11,380.48 L597.98,380.48 L598.85,380.48 L599.71,380.48 L600.58,380.49 L601.45,380.49 L602.31,380.49 L603.18,380.49 L604.05,380.49 L604.92,380.49 L605.78,380.49 L606.65,380.49 L607.52,380.49 L608.38,380.49 L609.25,380.5 L610.12,380.5 L610.98,380.5 L611.85,380.5 L612.72,380.5 L613.58,380.5 L614.45,380.5 L615.32,380.5 L616.18,380.5 L617.05,380.5 L617.92,380.5 L618.79,380.5 L619.65,380.5 L620.52,380.5 L621.39,380.5 L622.25,380.5 L623.12,380.5 L623.99,380.5 L624.85,380.5 L625.72,380.5 L626.59,380.5 L627.45,380.5 L628.32,380.5 L629.19,380.5 L630.05,380.5 L630.92,380.5 L631.79,380.5 L632.66,380.5 L633.52,380.5 L634.39,380.5 L635.26,380.5 L636.12,380.5 L636.99,380.5 L637.86,380.5 L638.72,380.5 L639.59,380.5 L640.46,380.5 L641.32,380.5 L642.19,380.5 L643.06,380.5 L643.93,380.5 L644.79,380.5 L645.66,380.5 L646.53,380.5 L647.39,380.5 L648.26,380.5 L649.13,380.5 L649.99,380.5 L650.86,380.5 L651.73,380.5 L652.59,380.5 L653.46,380.5 L654.33,380.5 L655.19,380.5 L656.06,380.5 L656.93,380.5 L657.8,380.5 L658.66,380.5 L659.53,380.5 L660.4,380.5 L661.26,380.5 L662.13,380.5 L663,380.5 L663.86,380.5 L664.73,380.5 L665.6,380.5 L666.46,380.5 L667.33,380.5 L668.2,380.5 L669.06,380.5 L669.93,380.5 L670.8,380.5 L671.67,380.5 L672.53,380.5 L673.4,380.5 L674.27,380.5 L675.13,380.5 L676,380.5" fill="none" stroke="#ff0000" stroke-width="3.6" stroke-dasharray="13.2 13.1" stroke-linejoin="round"/>
<path d="M416.8,313.4 L417.67,313.42 L418.53,313.49 L419.4,313.6 L420.27,313.74 L421.13,313.91 L422,314.11 L422.87,314.34 L423.74,314.74 L424.6,315.29 L425.47,315.95 L426.34,316.68 L427.2,317.43 L428.07,318.22 L428.94,319.14 L429.8,320.15 L430.67,321.24 L431.54,322.37 L432.4,323.51 L433.27,324.69 L434.14,325.96 L435,327.27 L435.87,328.6 L436.74,329.9 L437.61,331.15 L438.47,332.35 L439.34,333.55 L440.21,334.72 L441.07,335.87 L441.94,336.99 L442.81,338.09 L443.67,339.17 L444.54,340.25 L445.41,341.29 L446.27,342.29 L447.14,343.23 L448.01,344.1 L448.87,344.93 L449.74,345.72 L450.61,346.48 L451.48,347.22 L452.34,347.93 L453.21,348.62 L454.08,349.3 L454.94,349.98 L455.81,350.64 L456.68,351.29 L457.54,351.94 L458.41,352.56 L459.28,353.17 L460.14,353.76 L461.01,354.33 L461.88,354.87 L462.75,355.38 L463.61,355.88 L464.48,356.37 L465.35,356.85 L466.21,357.31 L467.08,357.76 L467.95,358.19 L468.81,358.62 L469.68,359.02 L470.55,359.41 L471.41,359.78 L472.28,360.14 L473.15,360.47 L474.01,360.8 L474.88,361.12 L475.75,361.42 L476.62,361.72 L477.48,362.01 L478.35,362.29 L479.22,362.56 L480.08,362.82 L480.95,363.08 L481.82,363.32 L482.68,363.56 L483.55,363.78 L484.42,364 L485.28,364.22 L486.15,364.42 L487.02,364.63 L487.88,364.82 L488.75,365.01 L489.62,365.2 L490.49,365.38 L491.35,365.56 L492.22,365.74 L493.09,365.91 L493.95,366.08 L494.82,366.24 L495.69,366.41 L496.55,366.57 L497.42,366.73 L498.29,366.88 L499.15,367.04 L500.02,367.19 L500.89,367.35 L501.76,367.5 L502.62,367.66 L503.49,367.81 L504.36,367.96 L505.22,368.13 L506.09,368.29 L506.96,368.46 L507.82,368.63 L508.69,368.79 L509.56,368.93 L510.42,369.07 L511.29,369.18 L512.16,369.27 L513.02,369.34 L513.89,369.41 L514.76,369.47 L515.63,369.53 L516.49,369.59 L517.36,369.65 L518.23,369.71 L519.09,369.76 L519.96,369.82 L520.83,369.87 L521.69,369.92 L522.56,369.97 L523.43,370.02 L524.29,370.06 L525.16,370.11 L526.03,370.15 L526.89,370.2 L527.76,370.24 L528.63,370.28 L529.5,370.32 L530.36,370.35 L531.23,370.39 L532.1,370.42 L532.96,370.46 L533.83,370.49 L534.7,370.52 L535.56,370.55 L536.43,370.58 L537.3,370.61 L538.16,370.63 L539.03,370.66 L539.9,370.68 L540.77,370.71 L541.63,370.73 L542.5,370.75 L543.37,370.77 L544.23,370.79 L545.1,370.81 L545.97,370.83 L546.83,370.85 L547.7,370.86 L548.57,370.88 L549.43,370.89 L550.3,370.9 L551.17,370.92 L552.03,370.93 L552.9,370.94 L553.77,370.96 L554.64,370.97 L555.5,370.98 L556.37,370.99 L557.24,371 L558.1,371.02 L558.97,371.03 L559.84,371.04 L560.7,371.05 L561.57,371.06 L562.44,371.07 L563.3,371.08 L564.17,371.09 L565.04,371.1 L565.91,371.11 L566.77,371.11 L567.64,371.12 L568.51,371.13 L569.37,371.14 L570.24,371.14 L571.11,371.15 L571.97,371.16 L572.84,371.16 L573.71,371.17 L574.57,371.17 L575.44,371.18 L576.31,371.18 L577.17,371.19 L578.04,371.19 L578.91,371.19 L579.78,371.2 L580.64,371.2 L581.51,371.2 L582.38,371.2 L583.24,371.2 L584.11,371.21 L584.98,371.21 L585.84,371.21 L586.71,371.21 L587.58,371.21 L588.44,371.22 L589.31,371.22 L590.18,371.22 L591.04,371.22 L591.91,371.22 L592.78,371.22 L593.65,371.23 L594.51,371.23 L595.38,371.23 L596.25,371.23 L597.11,371.23 L597.98,371.23 L598.85,371.24 L599.71,371.24 L600.58,371.24 L601.45,371.24 L602.31,371.24 L603.18,371.24 L604.05,371.24 L604.92,371.25 L605.78,371.25 L606.65,371.25 L607.52,371.25 L608.38,371.25 L609.25,371.25 L610.12,371.25 L610.98,371.25 L611.85,371.26 L612.72,371.26 L613.58,371.26 L614.45,371.26 L615.32,371.26 L616.18,371.26 L617.05,371.26 L617.92,371.26 L618.79,371.26 L619.65,371.27 L620.52,371.27 L621.39,371.27 L622.25,371.27 L623.12,371.27 L623.99,371.27 L624.85,371.27 L625.72,371.27 L626.59,371.27 L627.45,371.28 L628.32,371.28 L629.19,371.28 L630.05,371.28 L630.92,371.28 L631.79,371.28 L632.66,371.28 L633.52,371.28 L634.39,371.28 L635.26,371.28 L636.12,371.28 L636.99,371.28 L637.86,371.28 L638.72,371.29 L639.59,371.29 L640.46,371.29 L641.32,371.29 L642.19,371.29 L643.06,371.29 L643.93,371.29 L644.79,371.29 L645.66,371.29 L646.53,371.29 L647.39,371.29 L648.26,371.29 L649.13,371.29 L649.99,371.29 L650.86,371.29 L651.73,371.29 L652.59,371.29 L653.46,371.29 L654.33,371.3 L655.19,371.3 L656.06,371.3 L656.93,371.3 L657.8,371.3 L658.66,371.3 L659.53,371.3 L660.4,371.3 L661.26,371.3 L662.13,371.3 L663,371.3 L663.86,371.3 L664.73,371.3 L665.6,371.3 L666.46,371.3 L667.33,371.3 L668.2,371.3 L669.06,371.3 L669.93,371.3 L670.8,371.3 L671.67,371.3 L672.53,371.3 L673.4,371.3 L674.27,371.3 L675.13,371.3 L676,371.3" fill="none" stroke="#000" stroke-width="3.6" stroke-dasharray="3.4 3.1" stroke-linejoin="round"/>
<path d="M416.8,446.5 L417.67,446.48 L418.53,446.41 L419.4,446.3 L420.27,446.16 L421.13,445.99 L422,445.79 L422.87,445.56 L423.74,445.16 L424.6,444.61 L425.47,443.95 L426.34,443.22 L427.2,442.47 L428.07,441.68 L428.94,440.76 L429.8,439.75 L430.67,438.66 L431.54,437.53 L432.4,436.39 L433.27,435.21 L434.14,433.94 L435,432.63 L435.87,431.3 L436.74,430 L437.61,428.75 L438.47,427.55 L439.34,426.35 L440.21,425.18 L441.07,424.03 L441.94,422.91 L442.81,421.81 L443.67,420.73 L444.54,419.65 L445.41,418.61 L446.27,417.61 L447.14,416.67 L448.01,415.8 L448.87,414.97 L449.74,414.18 L450.61,413.42 L451.48,412.68 L452.34,411.97 L453.21,411.28 L454.08,410.6 L454.94,409.92 L455.81,409.26 L456.68,408.61 L457.54,407.96 L458.41,407.34 L459.28,406.73 L460.14,406.14 L461.01,405.57 L461.88,405.03 L462.75,404.52 L463.61,404.02 L464.48,403.53 L465.35,403.05 L466.21,402.59 L467.08,402.14 L467.95,401.71 L468.81,401.28 L469.68,400.88 L470.55,400.49 L471.41,400.12 L472.28,399.76 L473.15,399.43 L474.01,399.1 L474.88,398.78 L475.75,398.48 L476.62,398.18 L477.48,397.89 L478.35,397.61 L479.22,397.34 L480.08,397.08 L480.95,396.82 L481.82,396.58 L482.68,396.34 L483.55,396.12 L484.42,395.9 L485.28,395.68 L486.15,395.48 L487.02,395.27 L487.88,395.08 L488.75,394.89 L489.62,394.7 L490.49,394.52 L491.35,394.34 L492.22,394.16 L493.09,393.99 L493.95,393.82 L494.82,393.66 L495.69,393.49 L496.55,393.33 L497.42,393.17 L498.29,393.02 L499.15,392.86 L500.02,392.71 L500.89,392.55 L501.76,392.4 L502.62,392.24 L503.49,392.09 L504.36,391.94 L505.22,391.77 L506.09,391.61 L506.96,391.44 L507.82,391.27 L508.69,391.11 L509.56,390.97 L510.42,390.83 L511.29,390.72 L512.16,390.63 L513.02,390.56 L513.89,390.49 L514.76,390.43 L515.63,390.37 L516.49,390.31 L517.36,390.25 L518.23,390.19 L519.09,390.14 L519.96,390.08 L520.83,390.03 L521.69,389.98 L522.56,389.93 L523.43,389.88 L524.29,389.84 L525.16,389.79 L526.03,389.75 L526.89,389.7 L527.76,389.66 L528.63,389.62 L529.5,389.58 L530.36,389.55 L531.23,389.51 L532.1,389.48 L532.96,389.44 L533.83,389.41 L534.7,389.38 L535.56,389.35 L536.43,389.32 L537.3,389.29 L538.16,389.27 L539.03,389.24 L539.9,389.22 L540.77,389.19 L541.63,389.17 L542.5,389.15 L543.37,389.13 L544.23,389.11 L545.1,389.09 L545.97,389.07 L546.83,389.05 L547.7,389.04 L548.57,389.02 L549.43,389.01 L550.3,389 L551.17,388.98 L552.03,388.97 L552.9,388.96 L553.77,388.94 L554.64,388.93 L555.5,388.92 L556.37,388.91 L557.24,388.9 L558.1,388.88 L558.97,388.87 L559.84,388.86 L560.7,388.85 L561.57,388.84 L562.44,388.83 L563.3,388.82 L564.17,388.81 L565.04,388.8 L565.91,388.79 L566.77,388.79 L567.64,388.78 L568.51,388.77 L569.37,388.76 L570.24,388.76 L571.11,388.75 L571.97,388.74 L572.84,388.74 L573.71,388.73 L574.57,388.73 L575.44,388.72 L576.31,388.72 L577.17,388.71 L578.04,388.71 L578.91,388.71 L579.78,388.7 L580.64,388.7 L581.51,388.7 L582.38,388.7 L583.24,388.7 L584.11,388.69 L584.98,388.69 L585.84,388.69 L586.71,388.69 L587.58,388.69 L588.44,388.68 L589.31,388.68 L590.18,388.68 L591.04,388.68 L591.91,388.68 L592.78,388.68 L593.65,388.67 L594.51,388.67 L595.38,388.67 L596.25,388.67 L597.11,388.67 L597.98,388.67 L598.85,388.66 L599.71,388.66 L600.58,388.66 L601.45,388.66 L602.31,388.66 L603.18,388.66 L604.05,388.66 L604.92,388.65 L605.78,388.65 L606.65,388.65 L607.52,388.65 L608.38,388.65 L609.25,388.65 L610.12,388.65 L610.98,388.65 L611.85,388.64 L612.72,388.64 L613.58,388.64 L614.45,388.64 L615.32,388.64 L616.18,388.64 L617.05,388.64 L617.92,388.64 L618.79,388.64 L619.65,388.63 L620.52,388.63 L621.39,388.63 L622.25,388.63 L623.12,388.63 L623.99,388.63 L624.85,388.63 L625.72,388.63 L626.59,388.63 L627.45,388.62 L628.32,388.62 L629.19,388.62 L630.05,388.62 L630.92,388.62 L631.79,388.62 L632.66,388.62 L633.52,388.62 L634.39,388.62 L635.26,388.62 L636.12,388.62 L636.99,388.62 L637.86,388.62 L638.72,388.61 L639.59,388.61 L640.46,388.61 L641.32,388.61 L642.19,388.61 L643.06,388.61 L643.93,388.61 L644.79,388.61 L645.66,388.61 L646.53,388.61 L647.39,388.61 L648.26,388.61 L649.13,388.61 L649.99,388.61 L650.86,388.61 L651.73,388.61 L652.59,388.61 L653.46,388.61 L654.33,388.6 L655.19,388.6 L656.06,388.6 L656.93,388.6 L657.8,388.6 L658.66,388.6 L659.53,388.6 L660.4,388.6 L661.26,388.6 L662.13,388.6 L663,388.6 L663.86,388.6 L664.73,388.6 L665.6,388.6 L666.46,388.6 L667.33,388.6 L668.2,388.6 L669.06,388.6 L669.93,388.6 L670.8,388.6 L671.67,388.6 L672.53,388.6 L673.4,388.6 L674.27,388.6 L675.13,388.6 L676,388.6" fill="none" stroke="#000" stroke-width="3.6" stroke-dasharray="3.4 3.1" stroke-linejoin="round"/>
<path d="M416.8,379.4 L417.67,379.4 L418.53,379.41 L419.4,379.41 L420.27,379.41 L421.13,379.41 L422,379.42 L422.87,379.42 L423.74,379.42 L424.6,379.43 L425.47,379.43 L426.34,379.43 L427.2,379.43 L428.07,379.44 L428.94,379.44 L429.8,379.44 L430.67,379.45 L431.54,379.45 L432.4,379.45 L433.27,379.45 L434.14,379.46 L435,379.46 L435.87,379.46 L436.74,379.46 L437.61,379.47 L438.47,379.47 L439.34,379.47 L440.21,379.47 L441.07,379.48 L441.94,379.48 L442.81,379.48 L443.67,379.48 L444.54,379.49 L445.41,379.49 L446.27,379.49 L447.14,379.49 L448.01,379.5 L448.87,379.5 L449.74,379.5 L450.61,379.5 L451.48,379.5 L452.34,379.51 L453.21,379.51 L454.08,379.51 L454.94,379.51 L455.81,379.51 L456.68,379.51 L457.54,379.52 L458.41,379.52 L459.28,379.52 L460.14,379.52 L461.01,379.52 L461.88,379.53 L462.75,379.53 L463.61,379.53 L464.48,379.53 L465.35,379.53 L466.21,379.53 L467.08,379.53 L467.95,379.54 L468.81,379.54 L469.68,379.54 L470.55,379.54 L471.41,379.54 L472.28,379.54 L473.15,379.54 L474.01,379.55 L474.88,379.55 L475.75,379.55 L476.62,379.55 L477.48,379.55 L478.35,379.55 L479.22,379.55 L480.08,379.56 L480.95,379.56 L481.82,379.56 L482.68,379.56 L483.55,379.56 L484.42,379.56 L485.28,379.57 L486.15,379.57 L487.02,379.57 L487.88,379.57 L488.75,379.57 L489.62,379.57 L490.49,379.58 L491.35,379.58 L492.22,379.58 L493.09,379.58 L493.95,379.58 L494.82,379.59 L495.69,379.59 L496.55,379.59 L497.42,379.59 L498.29,379.6 L499.15,379.6 L500.02,379.6 L500.89,379.6 L501.76,379.61 L502.62,379.61 L503.49,379.61 L504.36,379.61 L505.22,379.62 L506.09,379.62 L506.96,379.62 L507.82,379.63 L508.69,379.63 L509.56,379.64 L510.42,379.64 L511.29,379.64 L512.16,379.65 L513.02,379.65 L513.89,379.66 L514.76,379.66 L515.63,379.67 L516.49,379.67 L517.36,379.68 L518.23,379.68 L519.09,379.69 L519.96,379.69 L520.83,379.7 L521.69,379.7 L522.56,379.71 L523.43,379.71 L524.29,379.72 L525.16,379.72 L526.03,379.73 L526.89,379.73 L527.76,379.74 L528.63,379.74 L529.5,379.75 L530.36,379.75 L531.23,379.76 L532.1,379.77 L532.96,379.77 L533.83,379.78 L534.7,379.78 L535.56,379.79 L536.43,379.79 L537.3,379.8 L538.16,379.8 L539.03,379.81 L539.9,379.81 L540.77,379.82 L541.63,379.82 L542.5,379.83 L543.37,379.83 L544.23,379.84 L545.1,379.84 L545.97,379.84 L546.83,379.85 L547.7,379.85 L548.57,379.86 L549.43,379.86 L550.3,379.87 L551.17,379.87 L552.03,379.87 L552.9,379.88 L553.77,379.88 L554.64,379.88 L555.5,379.89 L556.37,379.89 L557.24,379.89 L558.1,379.89 L558.97,379.9 L559.84,379.9 L560.7,379.9 L561.57,379.9 L562.44,379.91 L563.3,379.91 L564.17,379.91 L565.04,379.91 L565.91,379.91 L566.77,379.92 L567.64,379.92 L568.51,379.92 L569.37,379.92 L570.24,379.93 L571.11,379.93 L571.97,379.93 L572.84,379.93 L573.71,379.93 L574.57,379.94 L575.44,379.94 L576.31,379.94 L577.17,379.94 L578.04,379.94 L578.91,379.95 L579.78,379.95 L580.64,379.95 L581.51,379.95 L582.38,379.95 L583.24,379.96 L584.11,379.96 L584.98,379.96 L585.84,379.96 L586.71,379.96 L587.58,379.96 L588.44,379.97 L589.31,379.97 L590.18,379.97 L591.04,379.97 L591.91,379.97 L592.78,379.97 L593.65,379.98 L594.51,379.98 L595.38,379.98 L596.25,379.98 L597.11,379.98 L597.98,379.98 L598.85,379.98 L599.71,379.98 L600.58,379.99 L601.45,379.99 L602.31,379.99 L603.18,379.99 L604.05,379.99 L604.92,379.99 L605.78,379.99 L606.65,379.99 L607.52,379.99 L608.38,379.99 L609.25,380 L610.12,380 L610.98,380 L611.85,380 L612.72,380 L613.58,380 L614.45,380 L615.32,380 L616.18,380 L617.05,380 L617.92,380 L618.79,380 L619.65,380 L620.52,380 L621.39,380 L622.25,380 L623.12,380 L623.99,380 L624.85,380 L625.72,380 L626.59,380 L627.45,380 L628.32,380 L629.19,380 L630.05,380 L630.92,380 L631.79,380 L632.66,380 L633.52,380 L634.39,380 L635.26,380 L636.12,380 L636.99,380 L637.86,380 L638.72,380 L639.59,380 L640.46,380 L641.32,380 L642.19,380 L643.06,380 L643.93,380 L644.79,380 L645.66,380 L646.53,380 L647.39,380 L648.26,380 L649.13,380 L649.99,380 L650.86,380 L651.73,380 L652.59,380 L653.46,380 L654.33,380 L655.19,380 L656.06,380 L656.93,380 L657.8,380 L658.66,380 L659.53,380 L660.4,380 L661.26,380 L662.13,380 L663,380 L663.86,380 L664.73,380 L665.6,380 L666.46,380 L667.33,380 L668.2,380 L669.06,380 L669.93,380 L670.8,380 L671.67,380 L672.53,380 L673.4,380 L674.27,380 L675.13,380 L676,380" fill="none" stroke="#000" stroke-width="3.6" stroke-dasharray="3.4 3.1" stroke-linejoin="round"/>
<path d="M416.8,379.4 L417.67,379.4 L418.53,379.41 L419.4,379.41 L420.27,379.41 L421.13,379.41 L422,379.42 L422.87,379.42 L423.74,379.42 L424.6,379.43 L425.47,379.43 L426.34,379.43 L427.2,379.43 L428.07,379.44 L428.94,379.44 L429.8,379.44 L430.67,379.45 L431.54,379.45 L432.4,379.45 L433.27,379.45 L434.14,379.46 L435,379.46 L435.87,379.46 L436.74,379.46 L437.61,379.47 L438.47,379.47 L439.34,379.47 L440.21,379.47 L441.07,379.48 L441.94,379.48 L442.81,379.48 L443.67,379.48 L444.54,379.49 L445.41,379.49 L446.27,379.49 L447.14,379.49 L448.01,379.5 L448.87,379.5 L449.74,379.5 L450.61,379.5 L451.48,379.5 L452.34,379.51 L453.21,379.51 L454.08,379.51 L454.94,379.51 L455.81,379.51 L456.68,379.51 L457.54,379.52 L458.41,379.52 L459.28,379.52 L460.14,379.52 L461.01,379.52 L461.88,379.53 L462.75,379.53 L463.61,379.53 L464.48,379.53 L465.35,379.53 L466.21,379.53 L467.08,379.53 L467.95,379.54 L468.81,379.54 L469.68,379.54 L470.55,379.54 L471.41,379.54 L472.28,379.54 L473.15,379.54 L474.01,379.55 L474.88,379.55 L475.75,379.55 L476.62,379.55 L477.48,379.55 L478.35,379.55 L479.22,379.55 L480.08,379.56 L480.95,379.56 L481.82,379.56 L482.68,379.56 L483.55,379.56 L484.42,379.56 L485.28,379.57 L486.15,379.57 L487.02,379.57 L487.88,379.57 L488.75,379.57 L489.62,379.57 L490.49,379.58 L491.35,379.58 L492.22,379.58 L493.09,379.58 L493.95,379.58 L494.82,379.59 L495.69,379.59 L496.55,379.59 L497.42,379.59 L498.29,379.6 L499.15,379.6 L500.02,379.6 L500.89,379.6 L501.76,379.61 L502.62,379.61 L503.49,379.61 L504.36,379.61 L505.22,379.62 L506.09,379.62 L506.96,379.62 L507.82,379.63 L508.69,379.63 L509.56,379.64 L510.42,379.64" fill="none" stroke="#000" stroke-width="1.5" stroke-linejoin="round"/>
<path d="M415.2,376.2 L429.5,377.6 L429.5,379.4 L415.2,380.4 Z" fill="#000"/>
</g>
<text x="75.9" y="230.6" font-size="20" text-anchor="middle" fill="#262626">0</text>
<text x="205.02" y="230.6" font-size="20" text-anchor="middle" fill="#262626">5</text>
<text x="334.15" y="230.6" font-size="20" text-anchor="middle" fill="#262626">10</text>
<text x="68.1" y="206.3" font-size="20" text-anchor="end" fill="#262626">0</text>
<text x="68.1" y="111.65" font-size="20" text-anchor="end" fill="#262626">5</text>
<text x="68.1" y="17" font-size="20" text-anchor="end" fill="#262626">10</text>
<text x="416" y="230.6" font-size="20" text-anchor="middle" fill="#262626">0</text>
<text x="545.6" y="230.6" font-size="20" text-anchor="middle" fill="#262626">5</text>
<text x="675.2" y="230.6" font-size="20" text-anchor="middle" fill="#262626">10</text>
<text x="408.2" y="204.3" font-size="20" text-anchor="end" fill="#262626">-4</text>
<text x="408.2" y="140.6" font-size="20" text-anchor="end" fill="#262626">-2</text>
<text x="408.2" y="76.9" font-size="20" text-anchor="end" fill="#262626">0</text>
<text x="408.2" y="13.9" font-size="20" text-anchor="end" fill="#262626">2</text>
<text x="75.9" y="505.3" font-size="20" text-anchor="middle" fill="#262626">0</text>
<text x="205.02" y="505.3" font-size="20" text-anchor="middle" fill="#262626">5</text>
<text x="334.15" y="505.3" font-size="20" text-anchor="middle" fill="#262626">10</text>
<text x="68.1" y="486" font-size="20" text-anchor="end" fill="#262626">-1</text>
<text x="68.1" y="436.72" font-size="20" text-anchor="end" fill="#262626">-0.5</text>
<text x="68.1" y="387.45" font-size="20" text-anchor="end" fill="#262626">0</text>
<text x="68.1" y="338.18" font-size="20" text-anchor="end" fill="#262626">0.5</text>
<text x="68.1" y="288.9" font-size="20" text-anchor="end" fill="#262626">1</text>
<text x="416" y="505.3" font-size="20" text-anchor="middle" fill="#262626">0</text>
<text x="545.6" y="505.3" font-size="20" text-anchor="middle" fill="#262626">5</text>
<text x="675.2" y="505.3" font-size="20" text-anchor="middle" fill="#262626">10</text>
<text x="408.2" y="486" font-size="20" text-anchor="end" fill="#262626">-2</text>
<text x="408.2" y="436.72" font-size="20" text-anchor="end" fill="#262626">-1</text>
<text x="408.2" y="387.45" font-size="20" text-anchor="end" fill="#262626">0</text>
<text x="408.2" y="338.18" font-size="20" text-anchor="end" fill="#262626">1</text>
<text x="408.2" y="288.9" font-size="20" text-anchor="end" fill="#262626">2</text>
<text x="205.12" y="257.8" font-size="22.4" text-anchor="middle" fill="#262626">time (s)</text>
<text x="545.7" y="257.8" font-size="22.4" text-anchor="middle" fill="#262626">time (s)</text>
<text x="205.12" y="531.8" font-size="22.4" text-anchor="middle" fill="#262626">time (s)</text>
<text x="545.7" y="531.8" font-size="22.4" text-anchor="middle" fill="#262626">time (s)</text>
<text x="26.8" y="115.8" font-size="22" fill="#262626" transform="rotate(-90 26.8 115.8)">x</text>
<text x="37.8" y="103.6" font-size="17.5" fill="#262626" transform="rotate(-90 37.8 103.6)">1</text>
<text x="369.7" y="116" font-size="22" fill="#262626" transform="rotate(-90 369.7 116)">x</text>
<text x="380.8" y="103.9" font-size="17.5" fill="#262626" transform="rotate(-90 380.8 103.9)">2</text>
<text x="0" y="0" font-size="24" fill="#262626" transform="translate(16.2 397.2) rotate(-90) skewX(-14)">&#948;</text>
<text x="16" y="385.6" font-size="22" fill="#262626" transform="rotate(-90 16 385.6)">x</text>
<text x="26.7" y="373.8" font-size="17.5" fill="#262626" transform="rotate(-90 26.7 373.8)">1</text>
<text x="0" y="0" font-size="24" fill="#262626" transform="translate(370.8 397.2) rotate(-90) skewX(-14)">&#948;</text>
<text x="370.6" y="385.6" font-size="22" fill="#262626" transform="rotate(-90 370.6 385.6)">x</text>
<text x="381.8" y="375" font-size="17.5" fill="#262626" transform="rotate(-90 381.8 375)">2</text>
<rect x="125.5" y="17.5" width="198.1" height="73.8" fill="#fff" stroke="#262626" stroke-width="1.3"/>
<line x1="130.7" y1="31.5" x2="186.2" y2="31.5" stroke="#0000ff" stroke-width="2.9"/>
<text x="0" y="0" font-size="18" fill="#000" transform="translate(190.3 39.1) ">LQG</text>
<line x1="130.7" y1="54.4" x2="186.2" y2="54.4" stroke="#ff0000" stroke-width="2.9" stroke-dasharray="8.9 2.0 4.4 2.0"/>
<text x="0" y="0" font-size="18" fill="#000" transform="translate(190.3 61.5) ">LQR-MSIF</text>
<line x1="130.7" y1="77.4" x2="186.2" y2="77.4" stroke="#000" stroke-width="2.9" stroke-dasharray="2.4 2.0"/>
<text x="0" y="0" font-size="18" fill="#000" transform="translate(190.3 84.1) ">SNN-LQR-MSIF</text>
<rect x="180.7" y="264.6" width="155.7" height="73.3" fill="#fff" stroke="#262626" stroke-width="1.3"/>
<line x1="185.9" y1="278.7" x2="242" y2="278.7" stroke="#0000ff" stroke-width="3.6"/>
<text x="0" y="0" font-size="18" fill="#000" transform="translate(245.2 285.9) ">KF</text>
<line x1="185.9" y1="301.6" x2="242" y2="301.6" stroke="#ff0000" stroke-width="3.6" stroke-dasharray="13.2 13.1"/>
<text x="0" y="0" font-size="18" fill="#000" transform="translate(245.2 308.7) ">MSIF</text>
<line x1="185.9" y1="324.6" x2="242" y2="324.6" stroke="#000" stroke-width="3.6" stroke-dasharray="3.4 3.1"/>
<text x="0" y="0" font-size="18" fill="#000" transform="translate(245.2 331.2) ">SNN-MSIF</text>
<text x="85.8" y="189.2" font-size="30" text-anchor="start" fill="#000">(a)</text>
<text x="634.8" y="190.6" font-size="30" text-anchor="start" fill="#000">(b)</text>
<text x="83.6" y="466.9" font-size="30" text-anchor="start" fill="#000">(c)</text>
<text x="638" y="467.6" font-size="30" text-anchor="start" fill="#000">(d)</text>
<line x1="214.2" y1="437.5" x2="141.01" y2="352.25" stroke="#000" stroke-width="1.3"/>
<path d="M131.7,341.4 L138.86,360.95 L141.01,352.25 L149.94,351.44 Z" fill="#000"/>
<line x1="214.2" y1="437.5" x2="152.02" y2="420.97" stroke="#000" stroke-width="1.3"/>
<path d="M138.2,417.3 L155.17,429.36 L152.02,420.97 L158.92,415.25 Z" fill="#000"/>
<line x1="539.8" y1="431.5" x2="474.75" y2="368.17" stroke="#000" stroke-width="1.3"/>
<path d="M464.5,358.2 L473.38,377.03 L474.75,368.17 L483.56,366.57 Z" fill="#000"/>
<line x1="539.8" y1="431.5" x2="484.71" y2="406.42" stroke="#000" stroke-width="1.3"/>
<path d="M471.7,400.5 L486.42,415.22 L484.71,406.42 L492.47,401.93 Z" fill="#000"/>
<g transform="translate(-326.7 6.3)">
<text x="547.9" y="459.2" font-size="29.5" fill="#000">3</text>
<ellipse cx="570.25" cy="452.85" rx="4.55" ry="5.75" transform="rotate(25 570.25 452.85)" fill="none" stroke="#000" stroke-width="2.1"/>
<path d="M570.4,446.0 L580.2,445.9 L580.2,448.0 L571.2,448.1 Z" fill="#000"/>
</g>
<g transform="translate(0 0)">
<text x="547.9" y="459.2" font-size="29.5" fill="#000">3</text>
<ellipse cx="570.25" cy="452.85" rx="4.55" ry="5.75" transform="rotate(25 570.25 452.85)" fill="none" stroke="#000" stroke-width="2.1"/>
<path d="M570.4,446.0 L580.2,445.9 L580.2,448.0 L571.2,448.1 Z" fill="#000"/>
</g>
</g>
</svg>
</body></html>
